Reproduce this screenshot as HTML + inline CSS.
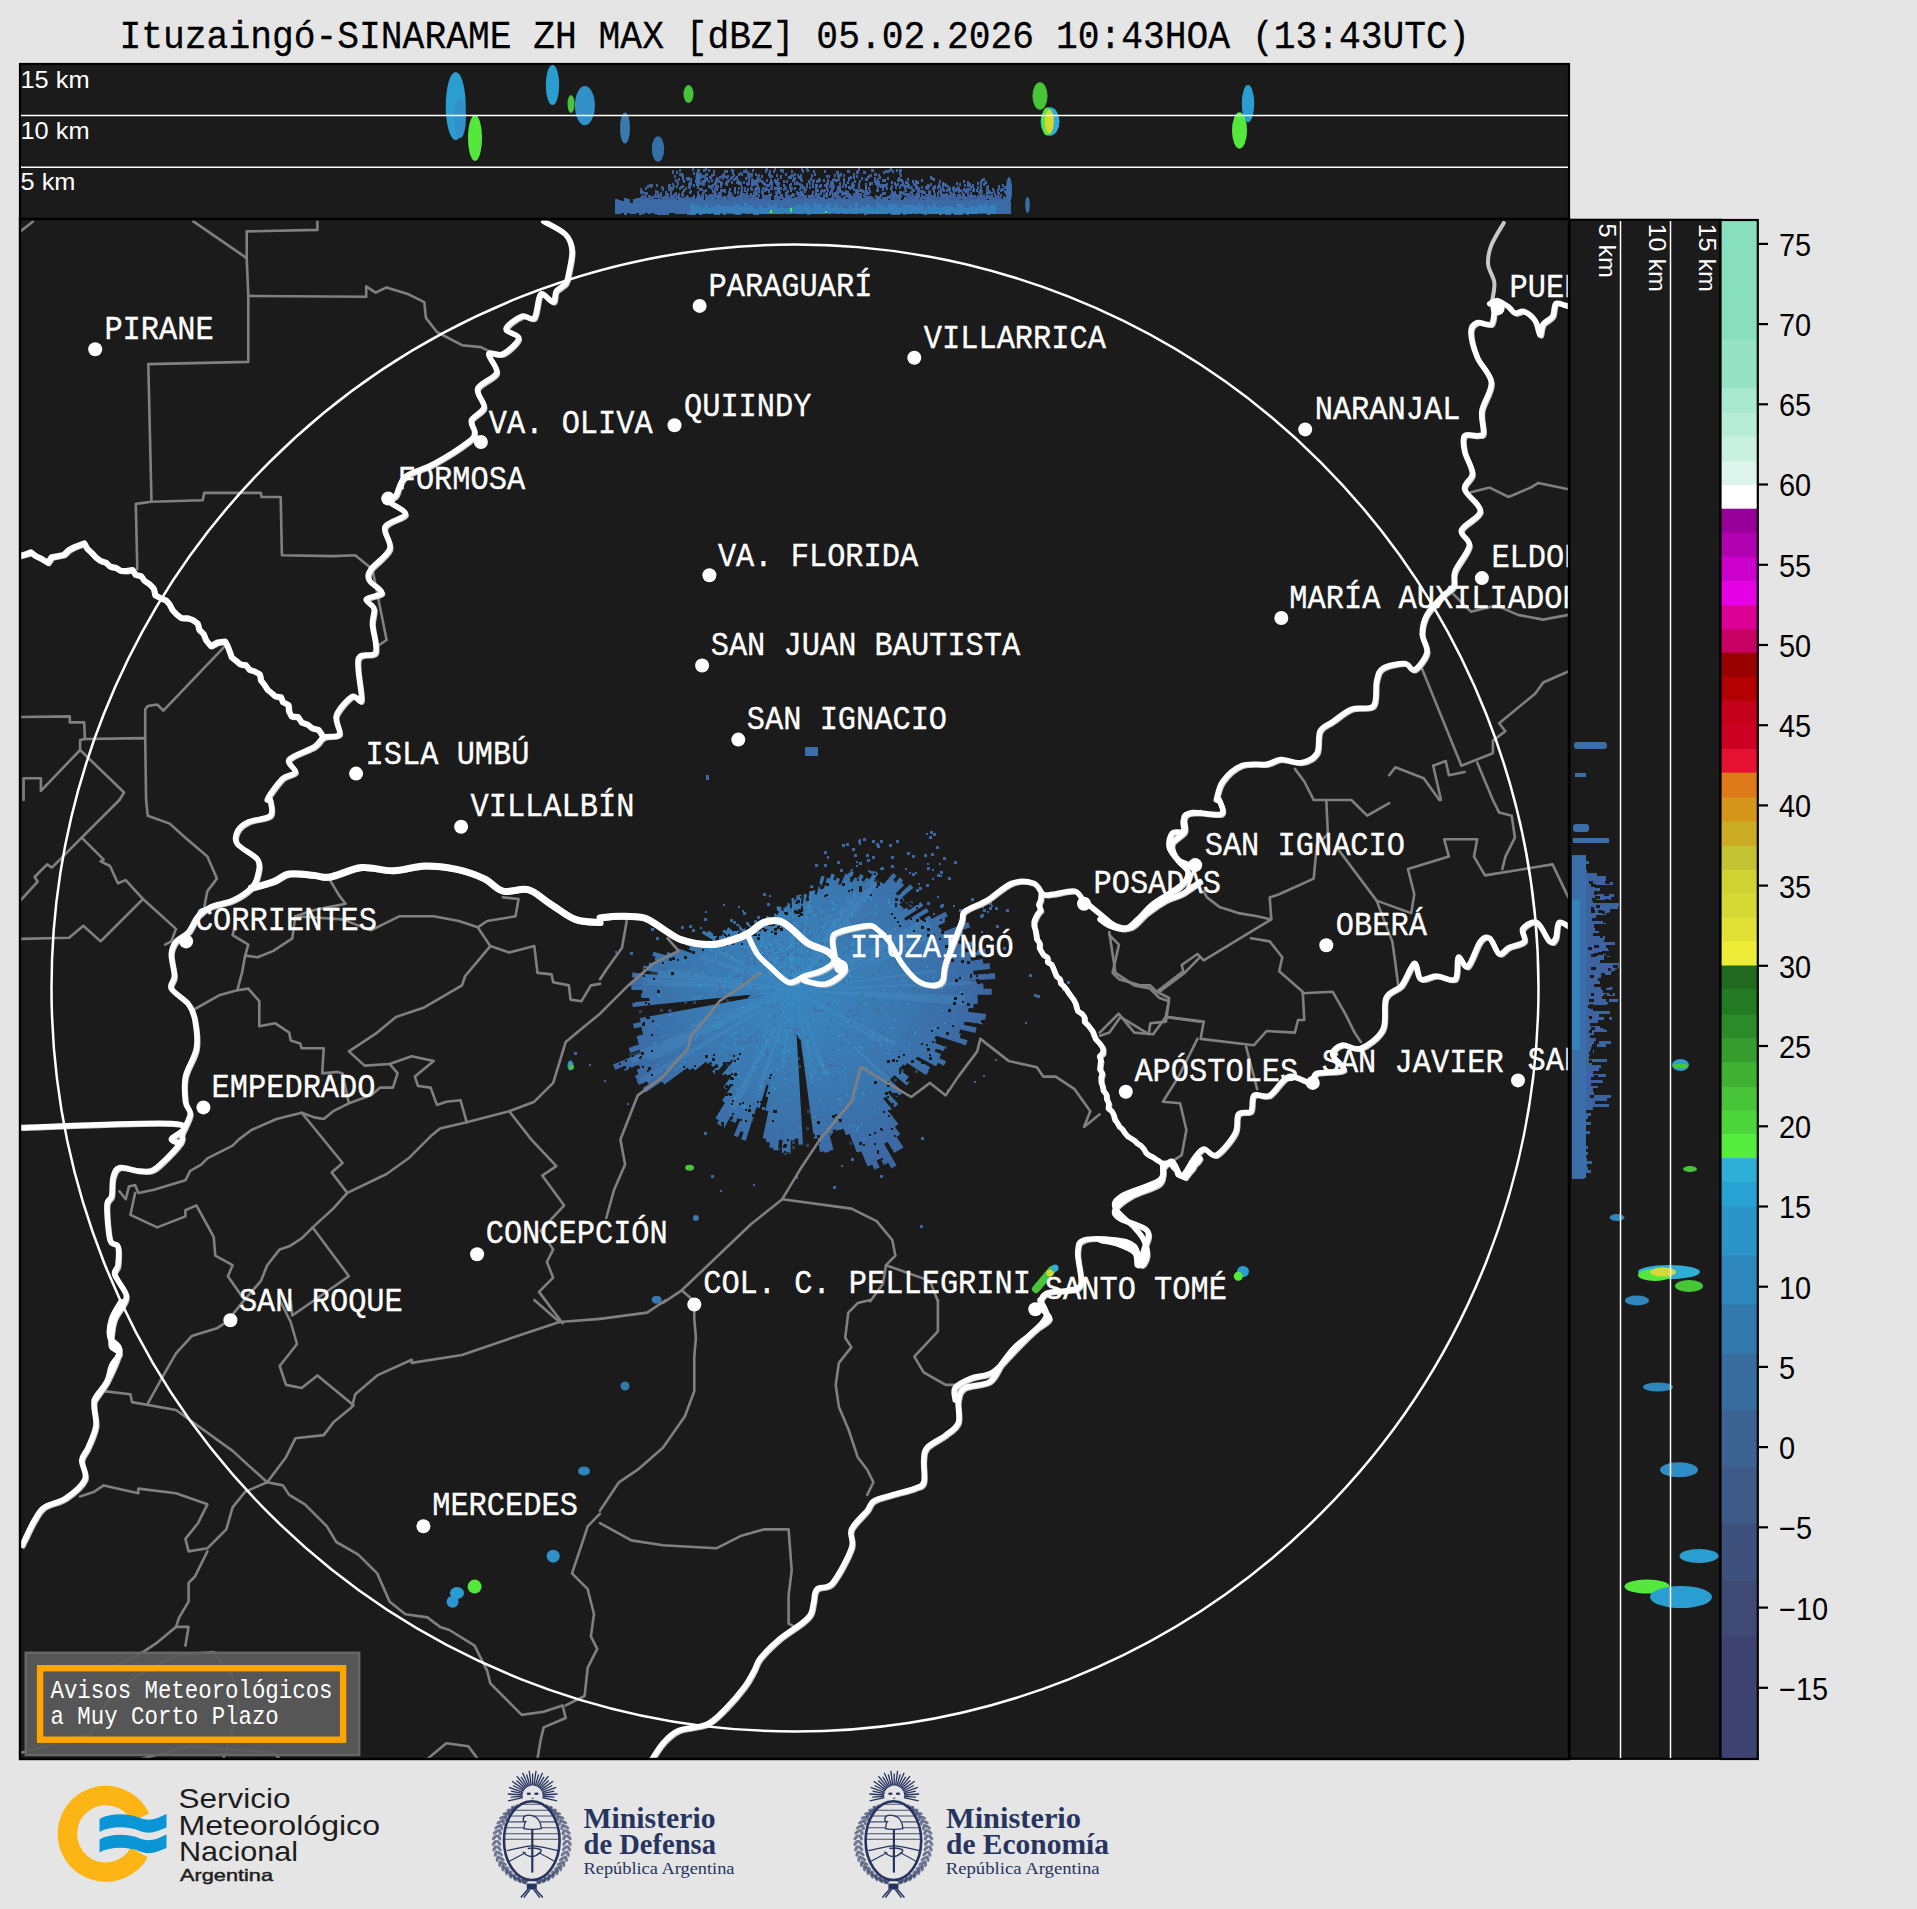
<!DOCTYPE html>
<html><head><meta charset="utf-8"><title>Ituzaingó radar</title>
<style>
html,body{margin:0;padding:0;background:#e5e5e5;width:1917px;height:1909px;overflow:hidden}
svg{position:absolute;left:0;top:0;display:block}
</style></head><body>
<svg width="1917" height="1909" viewBox="0 0 1917 1909">
<defs>
<clipPath id="mapclip"><rect x="21" y="220.5" width="1547.5" height="1538"/></clipPath>
<clipPath id="topclip"><rect x="21" y="65" width="1547.5" height="152"/></clipPath>
<clipPath id="sideclip"><rect x="1571" y="221" width="149" height="1537.5"/></clipPath>
</defs>
<rect x="0" y="0" width="1917" height="1909" fill="#e5e5e5"/>
<text transform="translate(119.5 48.3) scale(0.919 1)" font-family="'Liberation Mono', monospace" font-size="39.5" fill="#000" stroke="#000" stroke-width="0.3">Ituzaingó-SINARAME ZH MAX [dBZ] 05.02.2026 10:43HOA (13:43UTC)</text>
<!-- top panel -->
<rect x="20" y="64" width="1549" height="155" fill="#1b1b1b" stroke="#000" stroke-width="2.2"/>
<g clip-path="url(#topclip)">
<ellipse cx="455.7" cy="106" rx="10" ry="34" fill="#2a9ed0"/><ellipse cx="460" cy="118" rx="6" ry="20" fill="#3390c8"/><ellipse cx="475" cy="138" rx="7" ry="23" fill="#55e83c"/><ellipse cx="552.5" cy="85" rx="6.7" ry="20" fill="#2a9ed0"/><ellipse cx="571" cy="104" rx="3.5" ry="9" fill="#48c438"/><ellipse cx="584.9" cy="105.6" rx="10" ry="19.6" fill="#3390c8"/><ellipse cx="625" cy="128" rx="5" ry="15.5" fill="#3a7ab0"/><ellipse cx="658" cy="149" rx="6.2" ry="12.7" fill="#3470a8"/><ellipse cx="688.5" cy="94" rx="5" ry="9" fill="#48c438"/><ellipse cx="1040" cy="96" rx="7.5" ry="13.7" fill="#48c438"/><ellipse cx="1050" cy="121.5" rx="9.5" ry="14.2" fill="#2eafd8"/><ellipse cx="1047" cy="121.5" rx="5.5" ry="14" fill="#55e83c"/><ellipse cx="1049.4" cy="121.5" rx="4.5" ry="12" fill="#d6d835"/><ellipse cx="1248" cy="103.6" rx="6.2" ry="18.7" fill="#2a9ed0"/><ellipse cx="1239.5" cy="130.5" rx="7.5" ry="18.2" fill="#55e83c"/><path fill="#3b6aa6" d="M615 199h3V214h-3zM618 200h3V214h-3zM621 201h3V213h-3zM624 198h3V215h-3zM627 199h3V213h-3zM630 203h3V214h-3zM633 199h3V214h-3zM636 198h3V213h-3zM639 198h3V215h-3zM642 198h3V214h-3zM645 198h3V213h-3zM648 199h3V214h-3zM651 197h3V213h-3zM654 199h3V214h-3zM657 199h3V215h-3zM660 199h3V215h-3zM663 197h3V215h-3zM666 197h3V215h-3zM669 199h3V213h-3zM672 196h3V213h-3zM675 200h3V214h-3zM678 198h3V214h-3zM681 198h3V214h-3zM684 197h3V214h-3zM687 198h3V215h-3zM690 198h3V215h-3zM693 199h3V215h-3zM696 198h3V213h-3zM699 199h3V215h-3zM702 200h3V214h-3zM705 199h3V213h-3zM708 199h3V214h-3zM711 196h3V213h-3zM714 199h3V215h-3zM717 195h3V215h-3zM720 197h3V213h-3zM723 196h3V215h-3zM726 199h3V213h-3zM729 198h3V213h-3zM732 199h3V214h-3zM735 199h3V215h-3zM738 198h3V215h-3zM741 197h3V213h-3zM744 198h3V213h-3zM747 196h3V214h-3zM750 198h3V213h-3zM753 195h3V215h-3zM756 197h3V215h-3zM759 199h3V214h-3zM762 197h3V214h-3zM765 198h3V214h-3zM768 198h3V214h-3zM771 200h3V214h-3zM774 197h3V214h-3zM777 196h3V214h-3zM780 200h3V214h-3zM783 198h3V213h-3zM786 197h3V214h-3zM789 195h3V214h-3zM792 198h3V213h-3zM795 198h3V214h-3zM798 198h3V214h-3zM801 199h3V214h-3zM804 195h3V213h-3zM807 198h3V215h-3zM810 196h3V214h-3zM813 198h3V214h-3zM816 197h3V214h-3zM819 197h3V214h-3zM822 197h3V214h-3zM825 199h3V213h-3zM828 198h3V214h-3zM831 197h3V213h-3zM834 199h3V213h-3zM837 196h3V214h-3zM840 198h3V213h-3zM843 197h3V214h-3zM846 199h3V214h-3zM849 199h3V213h-3zM852 197h3V214h-3zM855 199h3V214h-3zM858 196h3V213h-3zM861 198h3V213h-3zM864 199h3V215h-3zM867 196h3V214h-3zM870 199h3V214h-3zM873 199h3V214h-3zM876 196h3V214h-3zM879 199h3V214h-3zM882 197h3V214h-3zM885 197h3V214h-3zM888 200h3V213h-3zM891 195h3V215h-3zM894 199h3V215h-3zM897 197h3V215h-3zM900 200h3V213h-3zM903 199h3V215h-3zM906 198h3V214h-3zM909 196h3V214h-3zM912 196h3V213h-3zM915 198h3V214h-3zM918 199h3V213h-3zM921 200h3V214h-3zM924 200h3V215h-3zM927 199h3V214h-3zM930 195h3V214h-3zM933 196h3V214h-3zM936 198h3V214h-3zM939 197h3V215h-3zM942 198h3V214h-3zM945 196h3V215h-3zM948 197h3V215h-3zM951 197h3V213h-3zM954 198h3V215h-3zM957 196h3V215h-3zM960 200h3V215h-3zM963 199h3V213h-3zM966 198h3V215h-3zM969 195h3V214h-3zM972 196h3V214h-3zM975 197h3V214h-3zM978 199h3V213h-3zM981 195h3V213h-3zM984 196h3V213h-3zM987 200h3V215h-3zM990 195h3V214h-3zM993 197h3V214h-3zM996 197h3V214h-3zM999 198h3V214h-3zM1002 199h3V214h-3zM1005 199h3V214h-3zM1008 202h3V214h-3z"/><path fill="#3390c8" fill-opacity="0.55" d="M690 203h3V214h-3zM693 204h3V214h-3zM696 205h3V214h-3zM699 207h3V214h-3zM702 208h3V214h-3zM705 205h3V214h-3zM708 208h3V214h-3zM711 207h3V214h-3zM714 206h3V214h-3zM717 205h3V214h-3zM720 206h3V214h-3zM723 207h3V214h-3zM726 206h3V214h-3zM729 207h3V214h-3zM732 206h3V214h-3zM735 204h3V214h-3zM738 206h3V214h-3zM741 207h3V214h-3zM744 203h3V214h-3zM747 206h3V214h-3zM750 206h3V214h-3zM753 208h3V214h-3zM756 209h3V214h-3zM759 205h3V214h-3zM762 208h3V214h-3zM765 208h3V214h-3zM768 205h3V214h-3zM771 206h3V214h-3zM774 204h3V214h-3zM777 208h3V214h-3zM780 207h3V214h-3zM783 208h3V214h-3zM786 208h3V214h-3zM789 207h3V214h-3zM792 207h3V214h-3zM795 206h3V214h-3zM798 204h3V214h-3zM801 207h3V214h-3zM804 203h3V214h-3zM807 204h3V214h-3zM810 208h3V214h-3zM813 203h3V214h-3zM816 204h3V214h-3zM819 204h3V214h-3zM822 208h3V214h-3zM825 204h3V214h-3zM828 203h3V214h-3zM831 208h3V214h-3zM834 204h3V214h-3zM837 208h3V214h-3zM840 207h3V214h-3zM843 208h3V214h-3zM846 209h3V214h-3zM849 206h3V214h-3zM852 208h3V214h-3zM855 203h3V214h-3zM858 208h3V214h-3zM861 206h3V214h-3zM864 207h3V214h-3zM867 204h3V214h-3zM870 207h3V214h-3zM873 209h3V214h-3zM876 203h3V214h-3zM879 205h3V214h-3zM882 206h3V214h-3zM885 208h3V214h-3zM888 204h3V214h-3zM891 204h3V214h-3zM894 204h3V214h-3zM897 207h3V214h-3zM900 208h3V214h-3zM903 205h3V214h-3zM906 205h3V214h-3zM909 205h3V214h-3zM912 205h3V214h-3zM915 206h3V214h-3zM918 203h3V214h-3zM921 206h3V214h-3zM924 209h3V214h-3zM927 205h3V214h-3zM930 207h3V214h-3zM933 204h3V214h-3zM936 207h3V214h-3zM939 208h3V214h-3zM942 207h3V214h-3zM945 206h3V214h-3zM948 206h3V214h-3zM951 207h3V214h-3zM954 208h3V214h-3zM957 204h3V214h-3zM960 204h3V214h-3zM963 207h3V214h-3zM966 208h3V214h-3zM969 206h3V214h-3zM972 206h3V214h-3zM975 207h3V214h-3zM978 204h3V214h-3zM981 205h3V214h-3zM984 204h3V214h-3zM987 207h3V214h-3zM990 205h3V214h-3zM993 204h3V214h-3z"/><path fill="#3d5f9a" d="M892 170h2v3h-2zM748 180h2v3h-2zM791 174h2v3h-2zM853 193h2v3h-2zM719 197h2v3h-2zM815 191h2v3h-2zM703 191h2v3h-2zM758 178h2v3h-2zM692 168h2v3h-2zM815 184h2v3h-2zM811 175h2v3h-2zM940 194h2v3h-2zM816 180h2v3h-2zM953 196h2v3h-2zM908 184h2v3h-2zM811 194h2v3h-2zM726 180h2v3h-2zM887 170h2v3h-2zM952 197h2v3h-2zM709 194h2v3h-2zM708 180h2v3h-2zM953 186h2v3h-2zM733 174h2v3h-2zM754 190h2v3h-2zM906 197h2v3h-2zM674 175h2v3h-2zM746 191h2v3h-2zM852 182h2v3h-2zM643 196h2v3h-2zM799 188h2v3h-2zM717 185h2v3h-2zM989 196h2v3h-2zM839 196h2v3h-2zM740 182h2v3h-2zM681 173h2v3h-2zM972 197h2v3h-2zM984 196h2v3h-2zM922 190h2v3h-2zM748 182h2v3h-2zM879 176h2v3h-2zM737 179h2v3h-2zM991 192h2v3h-2zM836 196h2v3h-2zM820 192h2v3h-2zM902 181h2v3h-2zM847 195h2v3h-2zM876 183h2v3h-2zM705 173h2v3h-2zM879 196h2v3h-2zM980 197h2v3h-2zM761 180h2v3h-2zM858 186h2v3h-2zM876 189h2v3h-2zM754 195h2v3h-2zM665 191h2v3h-2zM915 194h2v3h-2zM910 196h2v3h-2zM737 191h2v3h-2zM958 197h2v3h-2zM824 194h2v3h-2zM921 196h2v3h-2zM761 190h2v3h-2zM838 178h2v3h-2zM769 175h2v3h-2zM681 193h2v3h-2zM676 196h2v3h-2zM924 191h2v3h-2zM707 195h2v3h-2zM792 179h2v3h-2zM938 190h2v3h-2zM856 196h2v3h-2zM785 195h2v3h-2zM833 185h2v3h-2zM714 194h2v3h-2zM925 197h2v3h-2zM933 187h2v3h-2zM987 196h2v3h-2zM842 185h2v3h-2zM871 169h2v3h-2zM891 193h2v3h-2zM954 195h2v3h-2zM859 180h2v3h-2zM641 190h2v3h-2zM882 188h2v3h-2zM831 189h2v3h-2zM711 187h2v3h-2zM654 195h2v3h-2zM876 189h2v3h-2zM847 170h2v3h-2zM966 197h2v3h-2zM929 193h2v3h-2zM658 196h2v3h-2zM725 197h2v3h-2zM837 171h2v3h-2zM758 174h2v3h-2zM894 196h2v3h-2zM953 193h2v3h-2zM978 191h2v3h-2zM910 196h2v3h-2zM934 185h2v3h-2zM954 195h2v3h-2zM916 195h2v3h-2zM680 197h2v3h-2zM668 197h2v3h-2zM699 188h2v3h-2zM895 186h2v3h-2zM794 182h2v3h-2zM751 188h2v3h-2zM916 196h2v3h-2zM706 173h2v3h-2zM903 191h2v3h-2zM775 187h2v3h-2zM858 194h2v3h-2zM641 197h2v3h-2zM926 197h2v3h-2zM808 195h2v3h-2zM716 195h2v3h-2zM787 195h2v3h-2zM650 197h2v3h-2zM701 188h2v3h-2zM662 197h2v3h-2zM804 190h2v3h-2zM897 197h2v3h-2zM787 190h2v3h-2zM650 184h2v3h-2zM720 196h2v3h-2zM813 195h2v3h-2zM867 192h2v3h-2zM685 197h2v3h-2zM906 196h2v3h-2zM928 195h2v3h-2zM981 196h2v3h-2zM731 194h2v3h-2zM937 193h2v3h-2zM766 196h2v3h-2zM889 169h2v3h-2zM856 197h2v3h-2zM651 197h2v3h-2zM702 197h2v3h-2zM660 192h2v3h-2zM969 197h2v3h-2zM995 195h2v3h-2zM933 186h2v3h-2zM983 197h2v3h-2zM751 184h2v3h-2zM985 197h2v3h-2zM747 175h2v3h-2zM682 191h2v3h-2zM762 181h2v3h-2zM979 197h2v3h-2zM910 191h2v3h-2zM945 194h2v3h-2zM977 196h2v3h-2zM791 194h2v3h-2zM925 195h2v3h-2zM738 195h2v3h-2zM903 184h2v3h-2zM899 191h2v3h-2zM818 196h2v3h-2zM899 197h2v3h-2zM810 178h2v3h-2zM887 196h2v3h-2zM727 175h2v3h-2zM874 173h2v3h-2zM958 195h2v3h-2zM967 191h2v3h-2zM762 191h2v3h-2zM666 196h2v3h-2zM989 197h2v3h-2zM848 196h2v3h-2zM670 192h2v3h-2zM728 197h2v3h-2zM696 183h2v3h-2zM854 197h2v3h-2zM724 170h2v3h-2zM720 185h2v3h-2zM793 177h2v3h-2zM861 177h2v3h-2zM835 195h2v3h-2zM705 196h2v3h-2zM941 197h2v3h-2zM649 184h2v3h-2zM713 173h2v3h-2zM671 195h2v3h-2zM721 175h2v3h-2zM865 183h2v3h-2zM918 187h2v3h-2zM766 184h2v3h-2zM803 196h2v3h-2zM945 193h2v3h-2zM937 197h2v3h-2zM837 189h2v3h-2zM906 197h2v3h-2zM766 188h2v3h-2zM666 194h2v3h-2zM908 195h2v3h-2zM877 184h2v3h-2zM718 192h2v3h-2zM1003 196h2v3h-2zM797 196h2v3h-2zM720 195h2v3h-2zM980 191h2v3h-2zM959 183h2v3h-2zM863 171h2v3h-2zM836 190h2v3h-2zM986 186h2v3h-2zM987 195h2v3h-2zM922 196h2v3h-2zM1004 186h2v3h-2zM747 171h2v3h-2zM707 196h2v3h-2zM904 193h2v3h-2zM830 183h2v3h-2zM655 190h2v3h-2zM741 189h2v3h-2zM766 179h2v3h-2zM913 196h2v3h-2zM678 193h2v3h-2zM790 197h2v3h-2zM696 178h2v3h-2zM896 169h2v3h-2zM998 187h2v3h-2zM776 195h2v3h-2zM754 189h2v3h-2zM832 186h2v3h-2zM771 175h2v3h-2zM744 189h2v3h-2zM964 189h2v3h-2zM749 194h2v3h-2zM934 197h2v3h-2zM688 186h2v3h-2zM836 195h2v3h-2zM658 197h2v3h-2zM921 195h2v3h-2zM997 189h2v3h-2zM997 197h2v3h-2zM708 197h2v3h-2zM798 192h2v3h-2zM659 194h2v3h-2zM674 193h2v3h-2zM730 177h2v3h-2zM793 194h2v3h-2zM656 195h2v3h-2zM869 182h2v3h-2zM973 189h2v3h-2zM730 196h2v3h-2zM917 189h2v3h-2zM826 175h2v3h-2zM841 193h2v3h-2zM702 197h2v3h-2zM875 173h2v3h-2zM971 195h2v3h-2zM883 171h2v3h-2zM937 193h2v3h-2zM791 187h2v3h-2zM702 195h2v3h-2zM890 168h2v3h-2zM840 190h2v3h-2zM768 189h2v3h-2zM933 195h2v3h-2zM990 197h2v3h-2zM755 187h2v3h-2zM790 175h2v3h-2zM942 185h2v3h-2zM864 197h2v3h-2zM850 186h2v3h-2zM818 193h2v3h-2zM899 172h2v3h-2zM677 182h2v3h-2zM776 187h2v3h-2zM967 184h2v3h-2zM875 195h2v3h-2zM976 197h2v3h-2zM780 176h2v3h-2zM755 193h2v3h-2zM987 185h2v3h-2zM756 191h2v3h-2zM743 196h2v3h-2zM731 169h2v3h-2zM669 197h2v3h-2zM713 196h2v3h-2zM832 179h2v3h-2zM946 193h2v3h-2zM939 197h2v3h-2zM743 170h2v3h-2zM665 196h2v3h-2zM816 193h2v3h-2zM839 197h2v3h-2zM726 170h2v3h-2zM693 172h2v3h-2zM705 168h2v3h-2zM886 183h2v3h-2zM692 197h2v3h-2zM917 197h2v3h-2zM709 176h2v3h-2zM959 197h2v3h-2zM991 194h2v3h-2zM780 196h2v3h-2zM782 169h2v3h-2zM742 196h2v3h-2zM693 196h2v3h-2zM769 172h2v3h-2zM668 197h2v3h-2zM983 183h2v3h-2zM998 197h2v3h-2zM769 170h2v3h-2zM817 180h2v3h-2zM754 197h2v3h-2zM766 179h2v3h-2zM925 194h2v3h-2zM809 186h2v3h-2zM801 186h2v3h-2zM944 197h2v3h-2zM857 171h2v3h-2zM950 197h2v3h-2zM992 188h2v3h-2zM701 194h2v3h-2zM714 197h2v3h-2zM997 195h2v3h-2zM959 197h2v3h-2zM645 187h2v3h-2zM930 183h2v3h-2zM890 187h2v3h-2zM920 197h2v3h-2zM837 189h2v3h-2zM693 184h2v3h-2zM758 187h2v3h-2zM776 192h2v3h-2zM771 184h2v3h-2zM998 185h2v3h-2zM955 188h2v3h-2zM745 169h2v3h-2zM738 196h2v3h-2zM823 179h2v3h-2zM764 183h2v3h-2zM743 170h2v3h-2zM805 188h2v3h-2zM834 174h2v3h-2zM1000 194h2v3h-2zM801 184h2v3h-2zM665 195h2v3h-2zM949 190h2v3h-2zM662 188h2v3h-2zM780 169h2v3h-2zM774 195h2v3h-2zM840 173h2v3h-2zM797 174h2v3h-2zM900 191h2v3h-2zM750 187h2v3h-2zM786 191h2v3h-2zM878 174h2v3h-2zM853 196h2v3h-2zM720 191h2v3h-2zM864 196h2v3h-2zM670 196h2v3h-2zM743 197h2v3h-2zM837 172h2v3h-2zM835 179h2v3h-2zM942 188h2v3h-2zM973 195h2v3h-2zM889 196h2v3h-2zM961 196h2v3h-2zM814 173h2v3h-2zM745 195h2v3h-2zM941 193h2v3h-2zM671 197h2v3h-2zM768 197h2v3h-2zM944 197h2v3h-2zM740 191h2v3h-2zM827 189h2v3h-2zM869 182h2v3h-2zM799 196h2v3h-2zM997 191h2v3h-2zM670 195h2v3h-2zM915 183h2v3h-2zM664 197h2v3h-2zM815 190h2v3h-2zM966 188h2v3h-2zM761 190h2v3h-2zM853 173h2v3h-2zM714 191h2v3h-2zM672 183h2v3h-2zM650 185h2v3h-2zM831 185h2v3h-2zM671 197h2v3h-2zM811 174h2v3h-2zM837 193h2v3h-2zM998 192h2v3h-2zM833 195h2v3h-2zM749 173h2v3h-2zM689 186h2v3h-2zM866 191h2v3h-2zM921 186h2v3h-2zM953 190h2v3h-2zM714 197h2v3h-2zM798 192h2v3h-2zM711 174h2v3h-2zM719 176h2v3h-2zM982 197h2v3h-2zM973 196h2v3h-2zM717 195h2v3h-2zM654 195h2v3h-2zM780 175h2v3h-2zM944 197h2v3h-2zM786 191h2v3h-2zM705 194h2v3h-2zM736 181h2v3h-2zM764 196h2v3h-2zM720 189h2v3h-2zM846 194h2v3h-2zM895 195h2v3h-2zM885 184h2v3h-2zM704 179h2v3h-2zM784 186h2v3h-2zM858 183h2v3h-2zM801 197h2v3h-2zM927 187h2v3h-2zM819 185h2v3h-2zM738 173h2v3h-2zM890 194h2v3h-2zM938 183h2v3h-2zM766 168h2v3h-2zM816 195h2v3h-2zM902 192h2v3h-2zM907 193h2v3h-2zM679 187h2v3h-2zM951 195h2v3h-2zM837 174h2v3h-2zM803 188h2v3h-2zM853 176h2v3h-2zM714 196h2v3h-2zM918 194h2v3h-2zM751 173h2v3h-2zM963 194h2v3h-2zM1001 188h2v3h-2zM913 196h2v3h-2zM644 192h2v3h-2zM908 196h2v3h-2zM815 185h2v3h-2zM731 181h2v3h-2zM845 191h2v3h-2zM680 186h2v3h-2zM757 180h2v3h-2zM703 190h2v3h-2zM712 190h2v3h-2zM850 196h2v3h-2zM660 195h2v3h-2zM714 187h2v3h-2zM701 196h2v3h-2zM836 171h2v3h-2zM957 194h2v3h-2zM785 197h2v3h-2zM741 192h2v3h-2zM984 197h2v3h-2zM986 195h2v3h-2zM798 194h2v3h-2zM991 197h2v3h-2zM849 187h2v3h-2zM713 194h2v3h-2zM1000 189h2v3h-2zM908 186h2v3h-2zM676 180h2v3h-2zM914 197h2v3h-2zM807 169h2v3h-2zM759 178h2v3h-2zM700 182h2v3h-2zM738 187h2v3h-2zM776 174h2v3h-2zM912 194h2v3h-2zM891 190h2v3h-2zM934 197h2v3h-2zM839 185h2v3h-2zM782 197h2v3h-2zM702 183h2v3h-2zM717 178h2v3h-2zM824 170h2v3h-2zM949 191h2v3h-2zM776 197h2v3h-2zM843 179h2v3h-2zM976 197h2v3h-2zM698 169h2v3h-2zM910 195h2v3h-2zM910 197h2v3h-2zM839 182h2v3h-2zM860 195h2v3h-2zM690 183h2v3h-2zM963 197h2v3h-2zM643 197h2v3h-2zM927 196h2v3h-2zM806 168h2v3h-2zM863 194h2v3h-2zM896 197h2v3h-2zM743 181h2v3h-2zM702 197h2v3h-2zM829 192h2v3h-2zM994 197h2v3h-2zM933 196h2v3h-2zM934 195h2v3h-2zM884 192h2v3h-2zM722 189h2v3h-2zM932 196h2v3h-2zM724 190h2v3h-2zM675 192h2v3h-2zM849 186h2v3h-2zM858 193h2v3h-2zM649 197h2v3h-2zM764 195h2v3h-2zM848 194h2v3h-2zM918 193h2v3h-2zM882 179h2v3h-2zM830 190h2v3h-2zM753 197h2v3h-2zM930 195h2v3h-2zM676 171h2v3h-2zM852 183h2v3h-2zM800 196h2v3h-2zM1005 197h2v3h-2zM774 168h2v3h-2zM685 187h2v3h-2zM815 194h2v3h-2zM977 195h2v3h-2zM644 195h2v3h-2zM642 191h2v3h-2zM957 186h2v3h-2zM657 192h2v3h-2zM751 188h2v3h-2zM750 193h2v3h-2zM688 183h2v3h-2zM672 170h2v3h-2zM656 184h2v3h-2zM710 196h2v3h-2zM912 194h2v3h-2zM921 194h2v3h-2zM870 196h2v3h-2zM886 187h2v3h-2zM991 197h2v3h-2zM665 192h2v3h-2zM978 195h2v3h-2zM899 186h2v3h-2zM783 188h2v3h-2zM860 197h2v3h-2zM752 179h2v3h-2zM734 188h2v3h-2zM734 191h2v3h-2zM877 179h2v3h-2zM989 195h2v3h-2zM714 192h2v3h-2zM661 197h2v3h-2zM853 184h2v3h-2zM728 195h2v3h-2zM676 195h2v3h-2zM823 194h2v3h-2zM963 194h2v3h-2zM764 189h2v3h-2zM655 191h2v3h-2zM914 196h2v3h-2zM905 193h2v3h-2zM720 194h2v3h-2zM712 184h2v3h-2zM874 180h2v3h-2zM678 178h2v3h-2zM815 191h2v3h-2zM824 189h2v3h-2zM713 190h2v3h-2zM876 180h2v3h-2zM974 197h2v3h-2zM965 189h2v3h-2zM900 169h2v3h-2zM690 178h2v3h-2zM968 197h2v3h-2zM857 170h2v3h-2zM747 174h2v3h-2zM971 195h2v3h-2zM693 195h2v3h-2zM943 195h2v3h-2zM755 189h2v3h-2zM979 197h2v3h-2zM647 185h2v3h-2zM756 191h2v3h-2zM996 196h2v3h-2zM671 187h2v3h-2zM729 194h2v3h-2zM982 197h2v3h-2zM969 196h2v3h-2zM751 195h2v3h-2zM838 186h2v3h-2zM785 187h2v3h-2zM749 175h2v3h-2zM981 190h2v3h-2zM939 197h2v3h-2zM731 195h2v3h-2zM697 169h2v3h-2zM970 186h2v3h-2zM844 196h2v3h-2zM796 197h2v3h-2zM970 196h2v3h-2zM745 170h2v3h-2zM713 172h2v3h-2zM754 182h2v3h-2zM679 173h2v3h-2zM785 192h2v3h-2zM879 184h2v3h-2zM732 196h2v3h-2zM850 197h2v3h-2zM958 196h2v3h-2zM702 192h2v3h-2zM682 192h2v3h-2zM838 190h2v3h-2zM762 193h2v3h-2zM818 178h2v3h-2zM800 178h2v3h-2zM816 196h2v3h-2zM702 175h2v3h-2zM815 191h2v3h-2zM828 175h2v3h-2zM777 191h2v3h-2zM774 197h2v3h-2zM839 188h2v3h-2zM821 189h2v3h-2zM812 180h2v3h-2zM708 169h2v3h-2zM682 174h2v3h-2zM704 177h2v3h-2zM735 197h2v3h-2zM837 175h2v3h-2zM949 187h2v3h-2zM998 197h2v3h-2zM778 196h2v3h-2zM916 195h2v3h-2zM912 189h2v3h-2zM1005 192h2v3h-2zM959 194h2v3h-2zM669 187h2v3h-2zM673 196h2v3h-2zM943 196h2v3h-2zM882 197h2v3h-2zM717 180h2v3h-2zM654 194h2v3h-2zM982 197h2v3h-2zM897 179h2v3h-2zM866 178h2v3h-2zM895 197h2v3h-2zM710 186h2v3h-2zM994 197h2v3h-2zM854 196h2v3h-2zM949 195h2v3h-2zM831 182h2v3h-2zM690 180h2v3h-2zM932 187h2v3h-2zM743 194h2v3h-2zM700 173h2v3h-2zM800 191h2v3h-2zM830 181h2v3h-2zM756 192h2v3h-2zM920 190h2v3h-2zM748 197h2v3h-2zM979 191h2v3h-2zM857 190h2v3h-2zM990 195h2v3h-2zM719 196h2v3h-2zM768 184h2v3h-2zM773 170h2v3h-2zM877 189h2v3h-2zM881 184h2v3h-2zM865 188h2v3h-2zM831 188h2v3h-2zM943 197h2v3h-2zM927 196h2v3h-2zM950 197h2v3h-2zM817 189h2v3h-2zM900 195h2v3h-2zM736 196h2v3h-2zM845 185h2v3h-2zM640 197h2v3h-2zM713 170h2v3h-2zM806 185h2v3h-2zM746 182h2v3h-2zM937 192h2v3h-2zM641 195h2v3h-2zM818 197h2v3h-2zM928 196h2v3h-2zM747 183h2v3h-2zM853 188h2v3h-2zM954 194h2v3h-2zM765 197h2v3h-2zM842 191h2v3h-2zM836 192h2v3h-2zM643 197h2v3h-2zM698 196h2v3h-2zM951 193h2v3h-2zM727 180h2v3h-2zM872 197h2v3h-2zM914 197h2v3h-2zM1004 197h2v3h-2zM744 194h2v3h-2zM955 189h2v3h-2zM851 196h2v3h-2zM796 181h2v3h-2zM661 186h2v3h-2zM947 185h2v3h-2zM895 184h2v3h-2zM996 196h2v3h-2zM752 196h2v3h-2zM706 177h2v3h-2zM675 179h2v3h-2zM785 173h2v3h-2zM917 192h2v3h-2zM948 197h2v3h-2zM737 191h2v3h-2zM797 182h2v3h-2zM961 190h2v3h-2zM979 191h2v3h-2zM770 187h2v3h-2zM913 189h2v3h-2zM775 191h2v3h-2zM864 194h2v3h-2zM962 197h2v3h-2zM877 188h2v3h-2zM711 185h2v3h-2zM813 170h2v3h-2zM963 193h2v3h-2zM958 187h2v3h-2zM700 176h2v3h-2zM944 183h2v3h-2zM917 196h2v3h-2zM715 182h2v3h-2zM717 178h2v3h-2zM850 176h2v3h-2zM770 193h2v3h-2zM970 192h2v3h-2zM778 186h2v3h-2zM799 183h2v3h-2zM829 193h2v3h-2zM998 187h2v3h-2zM917 196h2v3h-2zM711 179h2v3h-2zM940 192h2v3h-2zM718 180h2v3h-2zM831 191h2v3h-2zM855 189h2v3h-2zM877 179h2v3h-2zM999 197h2v3h-2zM848 170h2v3h-2zM880 185h2v3h-2zM951 197h2v3h-2zM929 193h2v3h-2zM853 193h2v3h-2zM866 196h2v3h-2zM832 194h2v3h-2zM980 189h2v3h-2zM813 179h2v3h-2zM780 187h2v3h-2zM699 174h2v3h-2zM919 190h2v3h-2zM670 188h2v3h-2zM644 194h2v3h-2zM818 197h2v3h-2zM794 173h2v3h-2zM868 192h2v3h-2zM937 196h2v3h-2zM967 196h2v3h-2zM668 184h2v3h-2zM666 197h2v3h-2zM921 197h2v3h-2zM839 174h2v3h-2zM855 192h2v3h-2zM917 188h2v3h-2zM851 183h2v3h-2zM758 190h2v3h-2zM1002 184h2v3h-2zM641 197h2v3h-2zM722 177h2v3h-2zM713 195h2v3h-2zM920 197h2v3h-2zM997 195h2v3h-2zM968 188h2v3h-2zM716 177h2v3h-2zM791 194h2v3h-2zM657 191h2v3h-2zM845 193h2v3h-2zM944 197h2v3h-2zM802 196h2v3h-2zM768 173h2v3h-2zM823 196h2v3h-2zM726 183h2v3h-2zM741 173h2v3h-2zM662 187h2v3h-2zM867 176h2v3h-2zM769 197h2v3h-2zM703 183h2v3h-2zM649 197h2v3h-2zM926 187h2v3h-2zM952 188h2v3h-2zM843 174h2v3h-2zM895 186h2v3h-2zM795 197h2v3h-2zM673 194h2v3h-2zM808 196h2v3h-2zM994 193h2v3h-2zM910 186h2v3h-2zM723 173h2v3h-2zM990 196h2v3h-2zM686 177h2v3h-2zM965 189h2v3h-2zM789 184h2v3h-2zM682 194h2v3h-2zM793 179h2v3h-2zM672 171h2v3h-2zM651 184h2v3h-2zM726 176h2v3h-2zM939 185h2v3h-2zM812 181h2v3h-2zM747 175h2v3h-2zM680 173h2v3h-2zM856 197h2v3h-2zM984 196h2v3h-2zM665 197h2v3h-2zM650 196h2v3h-2zM899 169h2v3h-2zM870 174h2v3h-2zM940 191h2v3h-2zM780 194h2v3h-2zM697 186h2v3h-2zM715 179h2v3h-2zM757 185h2v3h-2zM839 183h2v3h-2zM697 194h2v3h-2zM891 195h2v3h-2zM885 170h2v3h-2zM782 170h2v3h-2zM864 171h2v3h-2zM832 179h2v3h-2zM889 195h2v3h-2zM829 185h2v3h-2zM809 182h2v3h-2zM972 189h2v3h-2zM936 197h2v3h-2zM897 183h2v3h-2zM982 197h2v3h-2zM703 169h2v3h-2zM776 180h2v3h-2zM856 190h2v3h-2zM800 185h2v3h-2zM1000 194h2v3h-2zM928 196h2v3h-2zM900 184h2v3h-2zM911 187h2v3h-2zM669 184h2v3h-2zM863 194h2v3h-2zM809 196h2v3h-2zM724 175h2v3h-2zM900 174h2v3h-2zM699 196h2v3h-2zM778 188h2v3h-2zM899 193h2v3h-2zM909 193h2v3h-2zM745 177h2v3h-2zM667 193h2v3h-2zM709 197h2v3h-2zM815 187h2v3h-2zM864 191h2v3h-2zM979 189h2v3h-2zM696 197h2v3h-2zM991 195h2v3h-2zM678 195h2v3h-2zM896 195h2v3h-2zM776 181h2v3h-2zM769 182h2v3h-2zM986 189h2v3h-2zM869 183h2v3h-2zM753 183h2v3h-2zM877 185h2v3h-2zM819 179h2v3h-2zM715 180h2v3h-2zM997 197h2v3h-2zM732 169h2v3h-2zM670 189h2v3h-2zM852 197h2v3h-2zM870 197h2v3h-2zM950 196h2v3h-2zM977 186h2v3h-2zM690 190h2v3h-2zM696 178h2v3h-2zM675 197h2v3h-2zM682 174h2v3h-2zM730 192h2v3h-2zM803 186h2v3h-2zM791 170h2v3h-2zM764 188h2v3h-2zM955 197h2v3h-2zM704 175h2v3h-2zM755 173h2v3h-2zM940 196h2v3h-2zM762 196h2v3h-2zM959 195h2v3h-2zM765 195h2v3h-2zM722 174h2v3h-2zM688 186h2v3h-2zM868 187h2v3h-2zM823 190h2v3h-2zM710 176h2v3h-2zM967 194h2v3h-2zM732 172h2v3h-2zM714 195h2v3h-2zM868 175h2v3h-2zM849 196h2v3h-2zM997 197h2v3h-2zM765 169h2v3h-2zM929 190h2v3h-2zM668 188h2v3h-2zM786 197h2v3h-2zM928 185h2v3h-2zM657 195h2v3h-2zM969 196h2v3h-2zM751 178h2v3h-2zM801 168h2v3h-2zM952 187h2v3h-2zM898 195h2v3h-2zM891 185h2v3h-2zM816 185h2v3h-2zM751 195h2v3h-2zM973 196h2v3h-2zM679 169h2v3h-2zM826 182h2v3h-2zM764 196h2v3h-2zM761 175h2v3h-2zM740 172h2v3h-2zM751 173h2v3h-2zM705 189h2v3h-2zM687 196h2v3h-2zM831 191h2v3h-2zM836 194h2v3h-2zM753 192h2v3h-2zM968 197h2v3h-2zM792 174h2v3h-2zM849 194h2v3h-2zM1004 197h2v3h-2zM690 197h2v3h-2zM800 174h2v3h-2zM743 193h2v3h-2zM931 197h2v3h-2zM646 192h2v3h-2zM672 187h2v3h-2zM693 184h2v3h-2zM951 195h2v3h-2zM740 183h2v3h-2zM896 197h2v3h-2zM728 191h2v3h-2zM825 193h2v3h-2zM880 194h2v3h-2zM970 196h2v3h-2zM721 197h2v3h-2zM686 195h2v3h-2zM962 195h2v3h-2zM802 170h2v3h-2zM993 190h2v3h-2zM728 192h2v3h-2zM824 194h2v3h-2zM767 195h2v3h-2zM728 179h2v3h-2zM860 189h2v3h-2zM812 184h2v3h-2zM890 197h2v3h-2zM948 195h2v3h-2zM765 170h2v3h-2zM916 196h2v3h-2zM649 195h2v3h-2zM801 191h2v3h-2zM676 185h2v3h-2zM733 178h2v3h-2zM833 193h2v3h-2zM942 195h2v3h-2zM671 196h2v3h-2zM659 195h2v3h-2zM972 185h2v3h-2zM878 196h2v3h-2zM727 195h2v3h-2zM776 183h2v3h-2zM648 195h2v3h-2zM795 182h2v3h-2zM942 196h2v3h-2zM860 193h2v3h-2zM806 183h2v3h-2zM659 194h2v3h-2zM823 195h2v3h-2zM731 176h2v3h-2zM768 195h2v3h-2zM744 187h2v3h-2zM786 192h2v3h-2zM758 194h2v3h-2zM824 184h2v3h-2zM673 185h2v3h-2zM752 169h2v3h-2zM982 197h2v3h-2zM894 192h2v3h-2zM681 174h2v3h-2zM972 189h2v3h-2zM872 169h2v3h-2zM843 182h2v3h-2zM878 174h2v3h-2zM952 196h2v3h-2zM716 186h2v3h-2zM855 192h2v3h-2zM954 188h2v3h-2zM891 186h2v3h-2zM894 195h2v3h-2zM935 197h2v3h-2zM970 193h2v3h-2zM741 195h2v3h-2zM859 189h2v3h-2zM894 196h2v3h-2zM959 195h2v3h-2zM801 179h2v3h-2zM861 189h2v3h-2zM747 188h2v3h-2zM651 197h2v3h-2zM941 197h2v3h-2zM671 188h2v3h-2zM776 187h2v3h-2zM854 180h2v3h-2zM756 178h2v3h-2zM640 188h2v3h-2zM753 183h2v3h-2zM751 179h2v3h-2zM777 184h2v3h-2zM757 175h2v3h-2zM924 197h2v3h-2zM916 185h2v3h-2zM727 195h2v3h-2zM980 184h2v3h-2zM687 178h2v3h-2zM979 197h2v3h-2zM925 196h2v3h-2zM927 194h2v3h-2zM812 196h2v3h-2zM878 181h2v3h-2zM746 197h2v3h-2zM673 194h2v3h-2zM1004 190h2v3h-2zM967 190h2v3h-2zM689 191h2v3h-2zM987 188h2v3h-2zM1002 188h2v3h-2zM899 178h2v3h-2zM974 195h2v3h-2zM652 196h2v3h-2zM645 196h2v3h-2zM855 193h2v3h-2zM731 196h2v3h-2zM771 187h2v3h-2zM856 171h2v3h-2zM666 197h2v3h-2zM668 185h2v3h-2zM871 182h2v3h-2zM937 197h2v3h-2zM970 196h2v3h-2zM869 190h2v3h-2zM912 196h2v3h-2zM741 194h2v3h-2zM905 189h2v3h-2zM697 191h2v3h-2zM847 191h2v3h-2zM856 175h2v3h-2zM874 177h2v3h-2zM751 174h2v3h-2zM983 194h2v3h-2zM648 197h2v3h-2zM916 187h2v3h-2zM904 187h2v3h-2zM837 196h2v3h-2zM858 168h2v3h-2zM715 184h2v3h-2zM950 192h2v3h-2zM768 194h2v3h-2zM907 185h2v3h-2zM960 196h2v3h-2zM912 189h2v3h-2zM777 178h2v3h-2zM781 195h2v3h-2zM640 191h2v3h-2zM915 197h2v3h-2zM663 196h2v3h-2zM716 179h2v3h-2zM709 185h2v3h-2zM841 192h2v3h-2zM952 195h2v3h-2zM827 182h2v3h-2zM788 195h2v3h-2zM988 190h2v3h-2zM839 188h2v3h-2zM865 193h2v3h-2zM667 194h2v3h-2zM968 197h2v3h-2zM998 196h2v3h-2zM1004 190h2v3h-2zM739 195h2v3h-2zM964 184h2v3h-2zM934 193h2v3h-2zM838 177h2v3h-2zM940 188h2v3h-2z"/><path fill="#4068a8" d="M769 194h2v3h-2zM976 189h2v3h-2zM683 180h2v3h-2zM882 185h2v3h-2zM965 190h2v3h-2zM897 179h2v3h-2zM843 192h2v3h-2zM964 196h2v3h-2zM762 187h2v3h-2zM983 178h2v3h-2zM702 180h2v3h-2zM907 183h2v3h-2zM899 194h2v3h-2zM931 177h2v3h-2zM893 194h2v3h-2zM898 195h2v3h-2zM933 190h2v3h-2zM948 188h2v3h-2zM714 182h2v3h-2zM969 183h2v3h-2zM826 195h2v3h-2zM892 193h2v3h-2zM826 187h2v3h-2zM704 180h2v3h-2zM729 188h2v3h-2zM843 178h2v3h-2zM877 178h2v3h-2zM800 177h2v3h-2zM827 179h2v3h-2zM972 184h2v3h-2zM937 186h2v3h-2zM781 194h2v3h-2zM765 187h2v3h-2zM878 198h2v3h-2zM898 177h2v3h-2zM821 197h2v3h-2zM945 184h2v3h-2zM720 182h2v3h-2zM915 180h2v3h-2zM956 182h2v3h-2zM894 191h2v3h-2zM755 187h2v3h-2zM875 182h2v3h-2zM845 190h2v3h-2zM977 182h2v3h-2zM734 187h2v3h-2zM865 187h2v3h-2zM963 180h2v3h-2zM838 186h2v3h-2zM741 186h2v3h-2zM820 184h2v3h-2zM920 198h2v3h-2zM980 181h2v3h-2zM795 197h2v3h-2zM706 178h2v3h-2zM700 197h2v3h-2zM837 186h2v3h-2zM711 195h2v3h-2zM988 191h2v3h-2zM963 188h2v3h-2zM776 180h2v3h-2zM774 179h2v3h-2zM794 177h2v3h-2zM693 196h2v3h-2zM943 194h2v3h-2zM789 186h2v3h-2zM848 193h2v3h-2zM774 187h2v3h-2zM850 195h2v3h-2zM788 176h2v3h-2zM805 195h2v3h-2zM734 190h2v3h-2zM721 182h2v3h-2zM874 178h2v3h-2zM821 189h2v3h-2zM800 193h2v3h-2zM942 182h2v3h-2zM916 193h2v3h-2zM865 189h2v3h-2zM856 192h2v3h-2zM894 182h2v3h-2zM882 192h2v3h-2zM823 196h2v3h-2zM777 188h2v3h-2zM856 189h2v3h-2zM737 191h2v3h-2zM716 188h2v3h-2zM820 191h2v3h-2zM946 198h2v3h-2zM751 196h2v3h-2zM826 187h2v3h-2zM693 195h2v3h-2zM751 182h2v3h-2zM775 181h2v3h-2zM770 182h2v3h-2zM845 184h2v3h-2zM915 197h2v3h-2zM969 184h2v3h-2zM892 192h2v3h-2zM905 185h2v3h-2zM740 193h2v3h-2zM883 184h2v3h-2zM887 177h2v3h-2zM923 196h2v3h-2zM981 179h2v3h-2zM894 193h2v3h-2zM724 189h2v3h-2zM739 181h2v3h-2zM689 182h2v3h-2zM943 189h2v3h-2zM927 197h2v3h-2zM727 195h2v3h-2zM958 190h2v3h-2zM783 180h2v3h-2zM816 184h2v3h-2zM761 191h2v3h-2zM877 182h2v3h-2zM734 187h2v3h-2zM900 191h2v3h-2zM879 196h2v3h-2zM915 186h2v3h-2zM911 191h2v3h-2zM786 180h2v3h-2zM797 192h2v3h-2zM913 183h2v3h-2zM848 178h2v3h-2zM865 186h2v3h-2zM918 195h2v3h-2zM696 197h2v3h-2zM733 197h2v3h-2zM985 181h2v3h-2zM770 179h2v3h-2zM962 193h2v3h-2zM980 194h2v3h-2zM792 193h2v3h-2zM790 183h2v3h-2zM812 191h2v3h-2zM778 188h2v3h-2zM856 193h2v3h-2zM826 185h2v3h-2zM852 186h2v3h-2zM907 178h2v3h-2zM735 177h2v3h-2zM808 195h2v3h-2zM866 190h2v3h-2zM970 194h2v3h-2zM771 181h2v3h-2zM847 181h2v3h-2zM865 178h2v3h-2zM801 192h2v3h-2zM759 179h2v3h-2zM912 180h2v3h-2zM959 189h2v3h-2zM956 188h2v3h-2zM832 182h2v3h-2zM698 197h2v3h-2zM748 178h2v3h-2zM969 188h2v3h-2zM860 196h2v3h-2zM907 182h2v3h-2zM768 190h2v3h-2zM891 181h2v3h-2zM757 187h2v3h-2zM698 194h2v3h-2zM884 179h2v3h-2zM860 189h2v3h-2zM708 185h2v3h-2zM925 186h2v3h-2zM905 181h2v3h-2zM989 191h2v3h-2zM853 176h2v3h-2zM790 176h2v3h-2zM816 180h2v3h-2zM756 183h2v3h-2zM725 182h2v3h-2zM836 179h2v3h-2zM854 197h2v3h-2zM904 197h2v3h-2zM714 191h2v3h-2zM755 197h2v3h-2zM834 192h2v3h-2zM921 179h2v3h-2zM711 194h2v3h-2zM934 186h2v3h-2zM688 177h2v3h-2zM928 191h2v3h-2zM796 191h2v3h-2zM930 176h2v3h-2zM911 198h2v3h-2zM949 195h2v3h-2zM816 189h2v3h-2zM715 193h2v3h-2zM885 185h2v3h-2zM695 180h2v3h-2zM805 196h2v3h-2zM826 195h2v3h-2zM738 182h2v3h-2zM753 182h2v3h-2zM927 184h2v3h-2zM779 191h2v3h-2zM818 195h2v3h-2zM896 194h2v3h-2zM812 185h2v3h-2zM820 198h2v3h-2zM973 188h2v3h-2zM833 178h2v3h-2zM946 189h2v3h-2zM808 180h2v3h-2zM826 192h2v3h-2zM763 182h2v3h-2zM839 187h2v3h-2zM682 177h2v3h-2zM796 192h2v3h-2zM798 176h2v3h-2zM755 180h2v3h-2zM917 181h2v3h-2zM984 182h2v3h-2zM736 176h2v3h-2zM832 187h2v3h-2zM922 191h2v3h-2zM848 177h2v3h-2zM967 181h2v3h-2zM753 180h2v3h-2zM862 190h2v3h-2zM778 182h2v3h-2zM683 189h2v3h-2zM901 179h2v3h-2zM755 193h2v3h-2zM900 179h2v3h-2zM986 192h2v3h-2zM902 183h2v3h-2zM980 186h2v3h-2zM877 198h2v3h-2zM939 180h2v3h-2zM720 181h2v3h-2zM717 195h2v3h-2zM848 186h2v3h-2zM794 187h2v3h-2zM815 192h2v3h-2zM809 195h2v3h-2zM942 195h2v3h-2zM912 180h2v3h-2zM811 194h2v3h-2zM790 189h2v3h-2zM746 194h2v3h-2zM783 184h2v3h-2zM933 178h2v3h-2zM682 185h2v3h-2zM818 178h2v3h-2zM802 193h2v3h-2z"/><ellipse cx="1009" cy="190" rx="3" ry="13" fill="#3a6ea8"/><ellipse cx="1027.5" cy="205" rx="2.3" ry="8" fill="#3a6ea8"/><ellipse cx="698" cy="179" rx="2.5" ry="8" fill="#3a6ea8"/><rect x="770" y="210" width="2" height="3" fill="#55e83c"/><rect x="790" y="208" width="2" height="4" fill="#55e83c"/><rect x="825" y="211" width="2" height="2" fill="#55e83c"/>
<line x1="21" y1="115.5" x2="1568" y2="115.5" stroke="#fff" stroke-width="1.5"/>
<line x1="21" y1="167.3" x2="1568" y2="167.3" stroke="#fff" stroke-width="1.5"/>
</g>
<g font-family="'Liberation Sans', sans-serif" font-size="23.5" fill="#fff">
<text x="20.5" y="88.3" transform="translate(20.5 0) scale(1.08 1) translate(-20.5 0)">15 km</text>
<text x="20.5" y="139" transform="translate(20.5 0) scale(1.08 1) translate(-20.5 0)">10 km</text>
<text x="20.5" y="189.6" transform="translate(20.5 0) scale(1.08 1) translate(-20.5 0)">5 km</text>
</g>
<!-- map panel -->
<rect x="20" y="219" width="1549" height="1540" fill="#1b1b1b"/>
<g clip-path="url(#mapclip)">
<g><defs><radialGradient id="bg" gradientUnits="userSpaceOnUse" cx="794.3" cy="989.5" r="210"><stop offset="0" stop-color="#3886c0"/><stop offset="0.5" stop-color="#3a78b0"/><stop offset="1" stop-color="#3d64a0"/></radialGradient></defs><path fill="url(#bg)" d="M794 990L983.5 989.5L983.4 983.9ZM794 990L977.0 984.7L976.8 979.3ZM794 990L995.3 979.0L994.9 973.0ZM794 990L973.6 975.4L973.1 970.1ZM794 990L990.3 968.9L989.6 963.1ZM794 990L983.4 964.6L982.6 959.0ZM794 990L971.4 961.4L970.5 956.2ZM794 990L986.1 954.0L984.9 948.3ZM794 990L965.6 953.1L964.4 948.0ZM794 990L975.8 945.9L974.4 940.6ZM794 990L959.5 945.2L958.1 940.4ZM794 990L956.5 941.5L955.0 936.7ZM794 990L963.5 934.5L961.8 929.5ZM794 990L970.2 927.2L968.3 922.0ZM794 990L942.6 932.6L940.8 928.2ZM794 990L939.8 929.2L938.0 924.9ZM794 990L945.4 922.2L943.3 917.8ZM794 990L947.8 916.3L945.5 911.8ZM794 990L931.7 919.5L929.6 915.4ZM794 990L921.2 920.6L919.1 916.9ZM794 990L928.8 911.8L926.5 907.9ZM794 990L905.9 921.1L903.9 917.8ZM794 990L923.3 905.7L920.7 902.0ZM794 990L908.8 910.8L906.5 907.4ZM794 990L904.1 909.7L901.7 906.5ZM794 990L901.9 906.9L899.4 903.8ZM794 990L904.4 900.3L901.7 897.1ZM794 990L913.4 887.8L910.3 884.3ZM794 990L898.0 896.1L895.2 893.1ZM794 990L904.2 885.2L901.1 882.0ZM794 990L903.2 880.6L899.9 877.5ZM794 990L895.6 882.8L892.4 879.8ZM794 990L896.6 875.9L893.2 872.9ZM794 990L884.0 884.4L880.9 881.8ZM794 990L878.9 885.1L875.7 882.6ZM794 990L876.3 882.7L873.1 880.3ZM794 990L878.5 873.6L875.0 871.1ZM794 990L869.8 879.7L866.5 877.5ZM794 990L864.2 881.9L861.0 879.9ZM794 990L863.8 876.1L860.4 874.1ZM794 990L858.1 879.0L854.8 877.2ZM794 990L852.4 882.5L849.2 880.8ZM794 990L854.0 872.4L850.5 870.7ZM794 990L848.9 874.9L845.5 873.4ZM794 990L840.8 885.0L837.7 883.7ZM794 990L840.1 878.9L836.8 877.6ZM794 990L836.0 880.8L832.8 879.6ZM794 990L835.0 874.7L831.5 873.5ZM794 990L830.3 878.8L827.0 877.8ZM794 990L824.1 888.8L821.1 888.0ZM794 990L824.6 876.5L821.2 875.7ZM794 990L817.0 894.8L814.2 894.1ZM794 990L815.4 890.4L812.4 889.9ZM794 990L813.5 885.7L810.5 885.1ZM794 990L808.7 898.6L806.0 898.2ZM794 990L806.9 894.2L804.0 893.8ZM794 990L803.3 904.0L800.7 903.8ZM794 990L801.7 894.8L798.9 894.7ZM794 990L799.2 895.3L796.4 895.2ZM794 990L796.6 900.6L794.0 900.6ZM794 990L794.3 897.9L791.6 898.0ZM794 990L792.2 908.1L789.8 908.2ZM794 990L789.8 903.2L787.2 903.3ZM794 990L787.7 906.0L785.3 906.2ZM794 990L785.7 907.5L783.3 907.8ZM794 990L783.9 910.7L781.6 911.0ZM794 990L781.1 906.4L778.7 906.8ZM794 990L778.9 906.3L776.4 906.8ZM794 990L778.4 914.6L776.2 915.1ZM794 990L776.0 913.4L773.8 914.0ZM794 990L776.5 923.3L774.6 923.8ZM794 990L772.6 916.1L770.4 916.8ZM794 990L771.2 918.5L769.1 919.2ZM794 990L768.2 915.7L766.0 916.5ZM794 990L767.0 918.4L764.9 919.3ZM794 990L767.7 925.3L765.8 926.1ZM794 990L765.2 924.1L763.2 925.0ZM794 990L761.4 920.6L759.4 921.6ZM794 990L763.5 929.0L761.7 929.9ZM794 990L758.6 923.7L756.6 924.8ZM794 990L758.6 927.7L756.8 928.8ZM794 990L757.0 928.7L755.2 929.8ZM794 990L755.5 929.8L753.8 931.0ZM794 990L747.7 921.6L745.7 923.0ZM794 990L751.1 930.0L749.3 931.3ZM794 990L748.0 929.2L746.2 930.6ZM794 990L744.6 928.2L742.8 929.7ZM794 990L737.8 923.3L735.8 925.0ZM794 990L743.8 933.4L742.1 934.9ZM794 990L737.9 930.0L736.1 931.7ZM794 990L734.7 929.9L732.9 931.7ZM794 990L728.7 927.3L726.9 929.3ZM794 990L727.3 929.2L725.5 931.2ZM794 990L724.1 929.5L722.3 931.6ZM794 990L728.0 935.8L726.5 937.8ZM794 990L722.8 934.6L721.2 936.7ZM794 990L720.1 935.6L718.5 937.8ZM794 990L708.6 930.6L706.9 933.2ZM794 990L703.6 930.6L701.9 933.3ZM794 990L712.9 939.6L711.5 942.1ZM794 990L709.1 940.3L707.7 942.8ZM794 990L704.7 940.8L703.2 943.5ZM794 990L701.2 942.0L699.8 944.8ZM794 990L692.8 941.1L691.4 944.1ZM794 990L687.1 941.8L685.7 945.0ZM794 990L690.2 946.4L688.9 949.5ZM794 990L692.2 950.3L691.1 953.4ZM794 990L679.2 948.7L678.0 952.2ZM794 990L676.1 951.1L675.0 954.6ZM794 990L667.3 951.9L666.2 955.7ZM794 990L653.5 951.8L652.4 956.0ZM794 990L655.6 956.2L654.7 960.3ZM794 990L655.9 960.1L655.1 964.2ZM794 990L649.1 962.6L648.4 966.9ZM794 990L643.4 965.6L642.8 970.1ZM794 990L657.8 971.5L657.3 975.6ZM794 990L632.4 972.5L631.9 977.3ZM794 990L634.4 976.9L634.1 981.7ZM794 990L630.4 980.9L630.2 985.8ZM794 990L631.4 985.2L631.4 990.1ZM794 990L642.3 989.5L642.4 994.0ZM794 990L641.2 993.5L641.4 998.0ZM794 990L649.2 997.1L649.5 1001.4ZM794 990L632.3 1002.2L632.7 1007.1ZM794 990L750.3 994.1L750.5 995.4ZM794 990L749.8 995.4L750.0 996.7ZM794 990L748.0 996.8L748.2 998.2ZM794 990L639.9 1018.1L640.8 1022.7ZM794 990L633.0 1023.8L634.1 1028.6ZM794 990L641.1 1026.3L642.3 1030.8ZM794 990L642.0 1030.3L643.3 1034.8ZM794 990L636.5 1036.2L638.0 1040.9ZM794 990L637.5 1040.4L639.1 1045.1ZM794 990L628.7 1048.1L630.5 1053.0ZM794 990L639.3 1049.0L641.2 1053.6ZM794 990L613.0 1064.6L615.3 1070.0ZM794 990L622.4 1066.0L624.8 1071.1ZM794 990L638.4 1063.9L640.7 1068.5ZM794 990L636.4 1070.0L638.8 1074.6ZM794 990L634.8 1076.1L637.5 1080.8ZM794 990L636.4 1080.7L639.2 1085.3ZM794 990L646.1 1080.3L648.9 1084.7ZM794 990L642.7 1088.0L645.7 1092.4ZM794 990L661.6 1080.7L664.4 1084.6ZM794 990L687.4 1067.2L689.7 1070.3ZM794 990L692.7 1067.4L695.1 1070.4ZM794 990L705.6 1061.3L707.8 1063.9ZM794 990L710.4 1061.2L712.6 1063.6ZM794 990L710.9 1064.6L713.2 1067.0ZM794 990L716.4 1063.5L718.6 1065.7ZM794 990L712.2 1071.6L714.7 1074.0ZM794 990L726.0 1061.5L728.2 1063.5ZM794 990L731.7 1059.0L733.8 1060.8ZM794 990L722.0 1074.2L724.5 1076.3ZM794 990L725.8 1074.1L728.3 1076.1ZM794 990L729.5 1073.9L732.1 1075.8ZM794 990L723.4 1087.1L726.3 1089.2ZM794 990L729.5 1083.8L732.3 1085.6ZM794 990L722.0 1100.8L725.3 1102.9ZM794 990L715.4 1118.3L719.2 1120.5ZM794 990L716.9 1123.6L720.9 1125.8ZM794 990L720.4 1125.5L724.5 1127.7ZM794 990L729.5 1116.7L733.3 1118.6ZM794 990L731.4 1121.3L735.4 1123.1ZM794 990L737.1 1118.0L740.9 1119.6ZM794 990L733.8 1135.6L738.1 1137.3ZM794 990L740.0 1131.0L744.2 1132.6ZM794 990L741.2 1139.3L745.7 1140.8ZM794 990L756.1 1107.1L759.6 1108.2ZM794 990L766.2 1084.4L769.0 1085.2ZM794 990L765.7 1096.4L768.8 1097.2ZM794 990L765.2 1110.5L768.8 1111.3ZM794 990L762.7 1138.2L767.1 1139.1ZM794 990L766.0 1142.0L770.6 1142.8ZM794 990L769.3 1147.4L774.0 1148.0ZM794 990L773.2 1150.0L777.9 1150.6ZM794 990L778.5 1139.4L783.0 1139.8ZM794 990L781.5 1152.6L786.3 1152.9ZM794 990L785.8 1151.9L790.6 1152.1ZM794 990L790.4 1140.2L794.8 1140.2ZM794 990L794.3 1138.6L798.7 1138.6ZM794 990L798.4 1144.7L803.0 1144.6ZM794 990L796.7 1035.1L798.0 1035.0ZM794 990L798.1 1038.1L799.6 1038.0ZM794 990L799.5 1039.4L801.0 1039.2ZM794 990L813.9 1138.7L818.4 1138.0ZM794 990L820.0 1152.1L824.9 1151.2ZM794 990L824.6 1152.8L829.4 1151.8ZM794 990L828.6 1151.0L833.4 1149.9ZM794 990L829.0 1134.0L833.3 1132.9ZM794 990L832.0 1130.3L836.2 1129.1ZM794 990L836.1 1130.7L840.3 1129.4ZM794 990L840.0 1130.0L844.1 1128.6ZM794 990L845.9 1135.3L850.2 1133.7ZM794 990L857.0 1152.9L861.8 1151.0ZM794 990L867.6 1166.5L872.9 1164.3ZM794 990L874.5 1169.7L879.8 1167.2ZM794 990L875.9 1160.7L881.0 1158.2ZM794 990L883.8 1165.1L888.9 1162.4ZM794 990L891.4 1168.4L896.7 1165.5ZM794 990L883.6 1144.1L888.1 1141.4ZM794 990L894.4 1152.9L899.2 1149.8ZM794 990L898.8 1150.5L903.6 1147.3ZM794 990L895.9 1137.3L900.3 1134.3ZM794 990L894.3 1127.2L898.4 1124.1ZM794 990L888.0 1111.7L891.6 1108.8ZM794 990L882.9 1098.9L886.1 1096.2ZM794 990L894.8 1107.2L898.3 1104.1ZM794 990L887.3 1092.8L890.3 1090.0ZM794 990L896.4 1097.1L899.6 1094.1ZM794 990L900.0 1095.2L903.1 1092.0ZM794 990L889.6 1080.0L892.3 1077.1ZM794 990L892.2 1077.7L894.8 1074.7ZM794 990L906.7 1085.5L909.5 1082.1ZM794 990L906.3 1080.2L908.9 1076.8ZM794 990L898.6 1069.5L900.9 1066.4ZM794 990L901.2 1067.1L903.4 1063.9ZM794 990L905.2 1065.7L907.4 1062.4ZM794 990L926.2 1075.2L928.7 1071.2ZM794 990L927.8 1071.3L930.2 1067.3ZM794 990L915.5 1059.5L917.5 1055.8ZM794 990L936.1 1066.5L938.3 1062.2ZM794 990L943.9 1065.7L946.1 1061.3ZM794 990L939.2 1058.6L941.2 1054.3ZM794 990L934.4 1051.9L936.2 1047.7ZM794 990L943.3 1051.2L945.1 1046.8ZM794 990L934.8 1043.4L936.3 1039.2ZM794 990L934.5 1039.1L935.9 1035.0ZM794 990L966.0 1045.3L967.6 1040.2ZM794 990L959.7 1038.5L961.0 1033.6ZM794 990L959.0 1033.6L960.3 1028.7ZM794 990L975.4 1033.0L976.6 1027.6ZM794 990L963.7 1025.5L964.7 1020.5ZM794 990L982.4 1024.4L983.4 1018.8ZM794 990L985.3 1019.7L986.1 1014.1ZM794 990L968.1 1012.4L968.7 1007.2ZM794 990L973.2 1008.3L973.7 1003.0ZM794 990L977.6 1003.9L978.0 998.5ZM794 990L977.4 999.1L977.6 993.7ZM794 990L991.7 994.7L991.8 988.8Z"/><path fill="#4a9ad0" fill-opacity="0.25" d="M794 990L790.8 929.4L789.4 929.5ZM794 990L880.3 1044.1L882.3 1040.8ZM794 990L639.6 1078.8L642.9 1084.3ZM794 990L894.2 1046.3L896.5 1042.2ZM794 990L937.1 972.6L936.6 969.0ZM794 990L971.3 985.1L971.2 980.7ZM794 990L668.5 968.4L667.8 973.6ZM794 990L767.7 938.2L765.6 939.3ZM794 990L813.0 1075.1L816.6 1074.3ZM794 990L794.8 932.8L791.9 932.8ZM794 990L644.0 1050.9L647.8 1059.4ZM794 990L701.0 954.7L699.7 958.5ZM794 990L755.0 1094.0L759.3 1095.5ZM794 990L649.7 969.4L648.9 976.4ZM794 990L888.8 1082.2L891.4 1079.4ZM794 990L628.8 1054.4L632.6 1063.3ZM794 990L851.7 922.6L849.2 920.5ZM794 990L883.3 945.9L882.4 944.0ZM794 990L729.4 1106.6L736.1 1110.1ZM794 990L860.3 893.1L855.8 890.1ZM794 990L879.8 882.1L873.3 877.2ZM794 990L813.1 892.2L809.7 891.6ZM794 990L643.3 977.4L642.8 985.5ZM794 990L845.0 908.0L841.7 906.0ZM794 990L768.9 949.0L767.7 949.8ZM794 990L780.5 1067.5L783.8 1068.0ZM794 990L734.6 966.1L733.9 968.0ZM794 990L734.0 1048.9L735.3 1050.2ZM794 990L964.6 1005.5L965.3 995.3ZM794 990L869.8 931.1L868.7 929.7ZM794 990L812.3 1087.3L814.6 1086.9ZM794 990L702.6 940.8L700.2 945.7ZM794 990L791.6 939.8L788.8 940.1ZM794 990L650.9 1057.6L652.4 1060.7ZM794 990L931.4 937.7L929.4 932.8ZM794 990L929.4 923.4L926.3 917.4ZM794 990L823.1 1075.1L827.7 1073.4ZM794 990L932.3 928.1L929.9 923.0ZM794 990L762.0 937.9L759.0 939.9ZM794 990L789.0 942.3L787.1 942.5ZM794 990L798.1 936.7L796.8 936.6ZM794 990L900.7 954.6L899.6 951.4ZM794 990L772.9 930.0L771.1 930.7ZM794 990L831.5 913.1L830.1 912.5ZM794 990L794.2 943.9L791.9 944.0ZM794 990L689.8 1024.2L691.2 1028.2Z"/><path fill="#46689a" fill-opacity="0.5" d="M846 1012h3v3h-3zM847 1104h3v3h-3zM654 985h3v3h-3zM744 949h3v3h-3zM738 1127h3v3h-3zM755 930h3v3h-3zM772 1070h3v3h-3zM746 957h3v3h-3zM858 967h3v3h-3zM917 931h3v3h-3zM793 954h3v3h-3zM907 923h3v3h-3zM874 1074h3v3h-3zM786 951h3v3h-3zM781 940h3v3h-3zM844 914h3v3h-3zM788 909h3v3h-3zM927 1012h3v3h-3zM797 903h3v3h-3zM778 949h3v3h-3zM917 989h3v3h-3zM690 973h3v3h-3zM818 914h3v3h-3zM898 986h3v3h-3zM872 940h3v3h-3zM832 979h3v3h-3zM782 956h3v3h-3zM676 1060h3v3h-3zM795 1123h3v3h-3zM767 1116h3v3h-3zM755 957h3v3h-3zM872 997h3v3h-3zM775 1109h3v3h-3zM957 944h3v3h-3zM880 1059h3v3h-3zM780 1133h3v3h-3zM864 906h3v3h-3zM652 993h3v3h-3zM845 1131h3v3h-3zM642 1079h3v3h-3zM743 1104h3v3h-3zM797 968h3v3h-3zM856 921h3v3h-3zM900 907h3v3h-3zM659 1042h3v3h-3zM731 1053h3v3h-3zM770 988h3v3h-3zM834 1119h3v3h-3zM679 992h3v3h-3zM773 1023h3v3h-3zM787 1073h3v3h-3zM867 953h3v3h-3zM785 1062h3v3h-3zM784 1152h3v3h-3zM698 986h3v3h-3zM671 973h3v3h-3zM807 1110h3v3h-3zM773 1016h3v3h-3zM838 931h3v3h-3zM790 1083h3v3h-3zM763 1004h3v3h-3zM878 956h3v3h-3zM736 1099h3v3h-3zM757 1063h3v3h-3zM684 1001h3v3h-3zM743 979h3v3h-3zM845 1030h3v3h-3zM971 1014h3v3h-3zM928 975h3v3h-3zM874 1159h3v3h-3zM730 968h3v3h-3zM820 889h3v3h-3zM814 911h3v3h-3zM862 906h3v3h-3zM856 1009h3v3h-3zM853 1113h3v3h-3zM881 1064h3v3h-3zM805 900h3v3h-3zM762 987h3v3h-3zM933 986h3v3h-3zM726 968h3v3h-3zM850 921h3v3h-3zM767 928h3v3h-3zM964 988h3v3h-3zM831 1047h3v3h-3zM911 1048h3v3h-3zM859 1035h3v3h-3zM758 951h3v3h-3zM945 991h3v3h-3zM760 948h3v3h-3zM791 969h3v3h-3zM901 910h3v3h-3zM778 918h3v3h-3zM794 944h3v3h-3zM723 994h3v3h-3zM737 931h3v3h-3zM885 1070h3v3h-3zM726 1063h3v3h-3zM907 1033h3v3h-3zM787 1027h3v3h-3zM782 1096h3v3h-3zM796 1121h3v3h-3zM790 970h3v3h-3zM847 1016h3v3h-3zM709 974h3v3h-3zM776 929h3v3h-3zM889 1004h3v3h-3zM754 1049h3v3h-3zM686 1030h3v3h-3zM821 942h3v3h-3zM821 891h3v3h-3zM719 988h3v3h-3zM915 1070h3v3h-3zM746 974h3v3h-3zM808 954h3v3h-3zM780 968h3v3h-3zM798 942h3v3h-3zM637 1063h3v3h-3zM794 1096h3v3h-3zM730 951h3v3h-3zM759 955h3v3h-3zM878 955h3v3h-3zM860 1003h3v3h-3zM670 992h3v3h-3zM840 1043h3v3h-3zM789 949h3v3h-3zM743 952h3v3h-3zM942 1034h3v3h-3zM814 1010h3v3h-3zM954 957h3v3h-3zM872 1049h3v3h-3zM770 1004h3v3h-3zM728 936h3v3h-3zM875 1147h3v3h-3zM885 1006h3v3h-3zM842 951h3v3h-3zM660 1009h3v3h-3zM923 1039h3v3h-3zM733 1071h3v3h-3zM698 963h3v3h-3zM955 949h3v3h-3zM804 899h3v3h-3zM755 1040h3v3h-3zM848 933h3v3h-3zM739 1053h3v3h-3zM828 961h3v3h-3zM669 1009h3v3h-3zM762 962h3v3h-3zM775 1004h3v3h-3zM779 942h3v3h-3zM927 1024h3v3h-3zM864 1052h3v3h-3zM799 942h3v3h-3zM934 1025h3v3h-3zM789 976h3v3h-3zM667 988h3v3h-3zM745 963h3v3h-3zM725 1111h3v3h-3zM798 967h3v3h-3zM768 946h3v3h-3zM766 1053h3v3h-3zM833 1118h3v3h-3zM721 992h3v3h-3zM894 1009h3v3h-3zM835 1075h3v3h-3zM810 903h3v3h-3zM774 920h3v3h-3zM725 988h3v3h-3zM805 925h3v3h-3zM724 1109h3v3h-3zM849 918h3v3h-3zM818 889h3v3h-3zM819 959h3v3h-3zM894 950h3v3h-3zM901 1069h3v3h-3zM777 1147h3v3h-3zM878 1028h3v3h-3zM840 884h3v3h-3zM793 1028h3v3h-3zM749 1065h3v3h-3zM760 955h3v3h-3zM804 972h3v3h-3zM786 943h3v3h-3zM855 1007h3v3h-3zM874 1008h3v3h-3zM749 932h3v3h-3zM850 1104h3v3h-3zM914 951h3v3h-3zM739 932h3v3h-3zM819 923h3v3h-3zM820 1009h3v3h-3zM717 941h3v3h-3zM798 1028h3v3h-3zM848 978h3v3h-3zM864 1028h3v3h-3zM792 1146h3v3h-3zM772 954h3v3h-3zM923 1025h3v3h-3zM789 920h3v3h-3zM778 953h3v3h-3zM965 985h3v3h-3zM898 1050h3v3h-3zM827 1002h3v3h-3zM801 924h3v3h-3zM953 1034h3v3h-3zM761 961h3v3h-3zM722 955h3v3h-3zM857 1020h3v3h-3zM839 1121h3v3h-3zM869 1140h3v3h-3zM737 1035h3v3h-3zM775 949h3v3h-3zM804 1036h3v3h-3zM826 897h3v3h-3zM795 964h3v3h-3zM935 959h3v3h-3zM760 924h3v3h-3zM894 1079h3v3h-3zM792 963h3v3h-3zM879 931h3v3h-3zM777 1058h3v3h-3zM800 928h3v3h-3zM727 1053h3v3h-3zM792 1141h3v3h-3zM767 1035h3v3h-3zM848 1073h3v3h-3zM690 1036h3v3h-3zM789 1065h3v3h-3zM795 945h3v3h-3zM867 885h3v3h-3zM698 1041h3v3h-3zM722 934h3v3h-3zM716 993h3v3h-3zM844 1119h3v3h-3zM861 993h3v3h-3zM662 968h3v3h-3zM887 1135h3v3h-3zM895 963h3v3h-3zM844 943h3v3h-3zM931 1013h3v3h-3zM882 1031h3v3h-3zM859 1062h3v3h-3zM790 916h3v3h-3zM849 1009h3v3h-3zM699 1055h3v3h-3zM807 928h3v3h-3zM838 936h3v3h-3zM792 924h3v3h-3zM761 1036h3v3h-3zM908 981h3v3h-3zM765 1050h3v3h-3zM781 958h3v3h-3zM827 1101h3v3h-3zM847 967h3v3h-3zM740 948h3v3h-3zM772 1016h3v3h-3zM851 896h3v3h-3zM748 960h3v3h-3zM770 924h3v3h-3zM773 939h3v3h-3zM761 948h3v3h-3zM890 1099h3v3h-3zM770 961h3v3h-3zM784 1061h3v3h-3zM980 983h3v3h-3zM706 944h3v3h-3zM718 938h3v3h-3zM738 975h3v3h-3zM940 976h3v3h-3zM730 1068h3v3h-3zM891 929h3v3h-3zM753 946h3v3h-3zM842 928h3v3h-3zM639 1010h3v3h-3zM875 924h3v3h-3zM849 1142h3v3h-3zM808 949h3v3h-3zM944 1046h3v3h-3zM753 985h3v3h-3zM882 1033h3v3h-3zM888 1054h3v3h-3zM831 1062h3v3h-3zM811 1062h3v3h-3zM721 939h3v3h-3zM835 1065h3v3h-3zM807 925h3v3h-3zM693 1001h3v3h-3zM849 936h3v3h-3zM772 1130h3v3h-3zM931 954h3v3h-3zM796 1028h3v3h-3zM830 1048h3v3h-3zM713 1048h3v3h-3zM752 1033h3v3h-3zM722 950h3v3h-3zM714 949h3v3h-3zM715 962h3v3h-3zM947 967h3v3h-3zM718 984h3v3h-3zM806 1127h3v3h-3zM737 974h3v3h-3zM743 981h3v3h-3zM864 917h3v3h-3zM876 937h3v3h-3zM755 992h3v3h-3zM773 1014h3v3h-3zM780 1129h3v3h-3zM751 993h3v3h-3zM697 992h3v3h-3zM857 1009h3v3h-3zM888 1107h3v3h-3zM778 1131h3v3h-3zM834 883h3v3h-3zM645 982h3v3h-3zM850 1022h3v3h-3zM829 1133h3v3h-3zM884 950h3v3h-3zM797 1057h3v3h-3zM855 1035h3v3h-3zM824 1057h3v3h-3zM645 992h3v3h-3zM809 935h3v3h-3zM704 993h3v3h-3zM877 970h3v3h-3zM862 882h3v3h-3zM734 1118h3v3h-3zM850 891h3v3h-3zM876 917h3v3h-3zM754 1036h3v3h-3zM867 1064h3v3h-3zM640 1074h3v3h-3zM910 901h3v3h-3zM748 1039h3v3h-3zM819 1068h3v3h-3zM941 998h3v3h-3zM749 935h3v3h-3zM744 971h3v3h-3zM793 1033h3v3h-3zM836 1079h3v3h-3zM728 1069h3v3h-3zM663 1068h3v3h-3zM790 979h3v3h-3zM871 973h3v3h-3zM737 1041h3v3h-3zM645 1001h3v3h-3zM845 934h3v3h-3zM779 1011h3v3h-3zM913 988h3v3h-3zM864 934h3v3h-3zM807 914h3v3h-3zM720 1036h3v3h-3zM740 1043h3v3h-3zM892 880h3v3h-3zM796 953h3v3h-3zM890 924h3v3h-3zM880 1079h3v3h-3zM753 960h3v3h-3zM952 978h3v3h-3zM692 1032h3v3h-3zM748 1050h3v3h-3zM921 1042h3v3h-3zM795 908h3v3h-3zM925 952h3v3h-3zM753 962h3v3h-3zM935 935h3v3h-3zM940 978h3v3h-3zM855 1013h3v3h-3zM822 906h3v3h-3zM668 995h3v3h-3zM825 1062h3v3h-3zM780 952h3v3h-3zM958 938h3v3h-3zM821 1116h3v3h-3zM974 982h3v3h-3zM791 1104h3v3h-3zM788 1103h3v3h-3zM800 955h3v3h-3zM797 966h3v3h-3zM760 932h3v3h-3zM747 1120h3v3h-3zM781 1045h3v3h-3zM681 1029h3v3h-3zM821 1098h3v3h-3zM788 924h3v3h-3zM877 1008h3v3h-3zM813 1007h3v3h-3zM792 948h3v3h-3zM788 1151h3v3h-3zM792 1086h3v3h-3zM851 1043h3v3h-3zM800 903h3v3h-3zM735 1054h3v3h-3zM723 1111h3v3h-3zM665 964h3v3h-3zM750 1119h3v3h-3zM701 951h3v3h-3zM699 1034h3v3h-3zM814 908h3v3h-3zM920 923h3v3h-3zM814 965h3v3h-3zM905 902h3v3h-3zM777 964h3v3h-3zM842 981h3v3h-3zM752 1102h3v3h-3zM752 1112h3v3h-3zM909 939h3v3h-3zM746 934h3v3h-3zM870 1152h3v3h-3zM933 929h3v3h-3zM918 1064h3v3h-3zM848 946h3v3h-3zM821 967h3v3h-3zM881 1112h3v3h-3zM732 1059h3v3h-3zM755 1032h3v3h-3zM835 960h3v3h-3zM798 1065h3v3h-3zM774 945h3v3h-3zM896 976h3v3h-3zM781 925h3v3h-3zM762 954h3v3h-3zM915 1017h3v3h-3zM869 1091h3v3h-3zM918 965h3v3h-3zM699 949h3v3h-3zM757 935h3v3h-3zM713 1009h3v3h-3zM826 1027h3v3h-3zM829 1064h3v3h-3zM886 989h3v3h-3zM806 1144h3v3h-3zM933 986h3v3h-3zM658 982h3v3h-3zM828 912h3v3h-3zM753 931h3v3h-3zM789 909h3v3h-3zM787 953h3v3h-3zM765 1079h3v3h-3zM885 914h3v3h-3zM907 927h3v3h-3zM751 1116h3v3h-3zM749 1036h3v3h-3zM745 954h3v3h-3zM829 1018h3v3h-3zM817 1009h3v3h-3zM810 934h3v3h-3zM877 1049h3v3h-3zM737 935h3v3h-3zM801 925h3v3h-3zM650 1018h3v3h-3zM797 1121h3v3h-3zM768 952h3v3h-3zM864 887h3v3h-3zM732 1091h3v3h-3zM836 915h3v3h-3zM811 1105h3v3h-3zM867 916h3v3h-3zM845 1035h3v3h-3zM818 929h3v3h-3zM766 1081h3v3h-3zM826 943h3v3h-3zM795 939h3v3h-3zM726 999h3v3h-3zM778 959h3v3h-3zM948 1014h3v3h-3zM909 904h3v3h-3zM868 935h3v3h-3zM962 1007h3v3h-3zM783 1095h3v3h-3zM825 904h3v3h-3zM849 946h3v3h-3zM779 976h3v3h-3zM727 940h3v3h-3zM757 1090h3v3h-3zM746 1042h3v3h-3zM866 900h3v3h-3zM725 942h3v3h-3zM875 1042h3v3h-3zM650 1062h3v3h-3zM747 964h3v3h-3zM770 1126h3v3h-3zM814 1116h3v3h-3zM873 1094h3v3h-3zM748 1047h3v3h-3zM772 936h3v3h-3zM872 935h3v3h-3zM820 1116h3v3h-3zM757 1029h3v3h-3zM728 955h3v3h-3zM742 1040h3v3h-3zM729 1118h3v3h-3zM834 900h3v3h-3zM811 1084h3v3h-3zM644 980h3v3h-3zM930 956h3v3h-3zM856 891h3v3h-3zM903 1032h3v3h-3zM884 924h3v3h-3zM651 1027h3v3h-3zM667 999h3v3h-3z"/><path fill="#2aa8dc" fill-opacity="0.5" d="M853 1097h2v2h-2zM721 943h2v2h-2zM814 914h2v2h-2zM741 946h2v2h-2zM888 899h2v2h-2zM784 976h2v2h-2zM788 946h2v2h-2zM905 980h2v2h-2zM725 952h2v2h-2zM773 961h2v2h-2zM806 916h2v2h-2zM890 1027h2v2h-2zM810 911h2v2h-2zM766 967h2v2h-2zM875 905h2v2h-2zM839 1103h2v2h-2zM702 971h2v2h-2zM807 906h2v2h-2zM760 945h2v2h-2zM857 1126h2v2h-2zM728 976h2v2h-2zM742 1006h2v2h-2zM845 1077h2v2h-2zM838 1049h2v2h-2zM768 963h2v2h-2zM757 971h2v2h-2zM941 987h2v2h-2zM788 956h2v2h-2zM780 948h2v2h-2zM723 955h2v2h-2zM756 1049h2v2h-2zM909 1044h2v2h-2zM924 941h2v2h-2zM888 1053h2v2h-2zM870 898h2v2h-2zM787 998h2v2h-2zM962 977h2v2h-2zM763 1036h2v2h-2zM833 961h2v2h-2zM802 917h2v2h-2zM779 967h2v2h-2zM887 1053h2v2h-2zM847 897h2v2h-2zM719 1050h2v2h-2zM734 1097h2v2h-2zM823 1109h2v2h-2zM821 911h2v2h-2zM669 1014h2v2h-2zM703 953h2v2h-2zM717 1017h2v2h-2zM797 959h2v2h-2zM762 988h2v2h-2zM748 980h2v2h-2zM699 984h2v2h-2zM657 1024h2v2h-2zM952 983h2v2h-2zM702 971h2v2h-2zM736 1089h2v2h-2zM761 956h2v2h-2zM834 1000h2v2h-2zM748 1044h2v2h-2zM926 966h2v2h-2zM742 1106h2v2h-2zM762 932h2v2h-2zM698 996h2v2h-2zM813 1003h2v2h-2zM774 1088h2v2h-2zM761 936h2v2h-2zM761 952h2v2h-2zM668 1010h2v2h-2zM809 930h2v2h-2zM731 956h2v2h-2zM837 1071h2v2h-2zM845 1085h2v2h-2zM723 991h2v2h-2zM658 995h2v2h-2zM738 1071h2v2h-2zM776 957h2v2h-2zM779 943h2v2h-2zM742 1049h2v2h-2zM930 955h2v2h-2zM861 1047h2v2h-2zM877 963h2v2h-2zM869 987h2v2h-2zM886 1039h2v2h-2zM738 1076h2v2h-2zM880 1044h2v2h-2zM734 1043h2v2h-2zM760 1086h2v2h-2zM769 1045h2v2h-2zM751 1065h2v2h-2zM798 1033h2v2h-2zM803 971h2v2h-2zM814 1116h2v2h-2zM756 1046h2v2h-2zM860 1123h2v2h-2zM719 1021h2v2h-2zM781 950h2v2h-2zM777 951h2v2h-2zM736 1061h2v2h-2zM904 950h2v2h-2zM850 976h2v2h-2zM837 1098h2v2h-2zM872 1033h2v2h-2zM901 980h2v2h-2zM675 1068h2v2h-2zM907 1003h2v2h-2zM770 974h2v2h-2zM766 1025h2v2h-2zM803 977h2v2h-2zM937 985h2v2h-2zM888 900h2v2h-2zM894 928h2v2h-2zM806 977h2v2h-2zM782 1051h2v2h-2zM788 1050h2v2h-2zM927 946h2v2h-2zM772 1086h2v2h-2zM789 1029h2v2h-2zM740 1047h2v2h-2zM682 961h2v2h-2zM792 916h2v2h-2zM792 1003h2v2h-2zM933 977h2v2h-2zM813 1032h2v2h-2zM774 939h2v2h-2zM847 898h2v2h-2zM762 987h2v2h-2zM757 949h2v2h-2zM715 957h2v2h-2zM864 900h2v2h-2zM757 946h2v2h-2zM753 1033h2v2h-2zM744 946h2v2h-2zM914 1033h2v2h-2zM714 1025h2v2h-2zM930 935h2v2h-2zM770 1070h2v2h-2zM769 944h2v2h-2zM941 1010h2v2h-2zM742 1028h2v2h-2zM710 949h2v2h-2zM751 947h2v2h-2zM707 1055h2v2h-2zM822 1064h2v2h-2zM883 989h2v2h-2zM730 955h2v2h-2zM856 1129h2v2h-2zM938 950h2v2h-2zM849 1124h2v2h-2zM717 1027h2v2h-2zM870 1091h2v2h-2zM744 1105h2v2h-2zM783 973h2v2h-2zM661 1036h2v2h-2zM820 909h2v2h-2zM855 1017h2v2h-2zM723 1046h2v2h-2zM740 977h2v2h-2zM792 925h2v2h-2zM818 1078h2v2h-2zM891 930h2v2h-2zM803 1053h2v2h-2zM657 1064h2v2h-2zM859 1046h2v2h-2zM695 975h2v2h-2zM811 948h2v2h-2zM832 908h2v2h-2zM759 949h2v2h-2zM745 955h2v2h-2zM810 969h2v2h-2zM899 991h2v2h-2zM875 926h2v2h-2zM807 1041h2v2h-2zM734 1032h2v2h-2zM774 992h2v2h-2zM959 954h2v2h-2zM853 1055h2v2h-2zM719 1024h2v2h-2zM810 1075h2v2h-2zM914 1031h2v2h-2zM863 1138h2v2h-2zM794 975h2v2h-2zM807 950h2v2h-2zM819 975h2v2h-2zM654 1042h2v2h-2zM683 960h2v2h-2zM822 1007h2v2h-2zM731 1034h2v2h-2zM888 902h2v2h-2zM792 934h2v2h-2zM736 1061h2v2h-2zM754 1062h2v2h-2zM752 975h2v2h-2zM944 1022h2v2h-2zM797 972h2v2h-2zM793 946h2v2h-2zM893 1058h2v2h-2zM813 1020h2v2h-2zM820 1099h2v2h-2zM733 1070h2v2h-2zM849 969h2v2h-2zM799 1127h2v2h-2zM762 1054h2v2h-2zM684 1061h2v2h-2zM852 944h2v2h-2zM793 964h2v2h-2zM740 983h2v2h-2zM797 959h2v2h-2zM788 1003h2v2h-2zM783 1044h2v2h-2zM951 953h2v2h-2zM810 905h2v2h-2zM874 1078h2v2h-2zM850 922h2v2h-2zM895 919h2v2h-2zM862 1093h2v2h-2zM731 970h2v2h-2zM846 1094h2v2h-2zM770 1015h2v2h-2zM798 969h2v2h-2zM776 1068h2v2h-2zM867 896h2v2h-2zM790 944h2v2h-2zM829 938h2v2h-2zM844 1068h2v2h-2zM833 921h2v2h-2zM769 934h2v2h-2zM891 905h2v2h-2zM929 939h2v2h-2zM765 1041h2v2h-2zM724 980h2v2h-2zM793 957h2v2h-2zM747 936h2v2h-2zM960 991h2v2h-2zM851 950h2v2h-2zM818 1007h2v2h-2zM784 1061h2v2h-2zM815 992h2v2h-2zM825 1071h2v2h-2zM798 985h2v2h-2zM855 1097h2v2h-2zM821 926h2v2h-2zM846 1021h2v2h-2zM740 1016h2v2h-2zM834 904h2v2h-2zM784 1030h2v2h-2zM828 971h2v2h-2zM735 1038h2v2h-2zM790 958h2v2h-2zM727 1047h2v2h-2zM839 1099h2v2h-2zM802 966h2v2h-2zM785 1078h2v2h-2zM789 1020h2v2h-2zM827 1072h2v2h-2zM874 1111h2v2h-2zM778 989h2v2h-2zM870 1037h2v2h-2zM838 1035h2v2h-2zM832 902h2v2h-2zM775 968h2v2h-2zM755 949h2v2h-2zM919 986h2v2h-2zM720 963h2v2h-2zM875 913h2v2h-2zM856 1128h2v2h-2zM771 940h2v2h-2zM747 946h2v2h-2zM922 938h2v2h-2zM894 1019h2v2h-2zM693 998h2v2h-2zM773 995h2v2h-2zM866 1004h2v2h-2zM808 958h2v2h-2zM794 922h2v2h-2zM846 980h2v2h-2zM778 1040h2v2h-2zM927 975h2v2h-2zM689 1044h2v2h-2zM786 1018h2v2h-2zM866 1067h2v2h-2zM849 974h2v2h-2zM699 986h2v2h-2zM790 966h2v2h-2zM768 972h2v2h-2zM679 1065h2v2h-2zM851 914h2v2h-2zM793 1048h2v2h-2zM869 1135h2v2h-2zM756 957h2v2h-2zM856 1088h2v2h-2zM732 942h2v2h-2zM807 1066h2v2h-2zM797 943h2v2h-2zM701 949h2v2h-2zM841 1120h2v2h-2zM853 1125h2v2h-2zM900 953h2v2h-2zM934 1027h2v2h-2z"/><path fill="#1b1b1b" d="M795 911h3v3h-3zM959 977h2v2h-2zM927 928h3v3h-3zM731 1103h2v2h-2zM969 1023h2v2h-2zM725 1067h2v2h-2zM975 950h2v2h-2zM921 1061h3v3h-3zM620 1037h3v3h-3zM894 917h2v2h-2zM684 941h2v2h-2zM895 903h2v2h-2zM898 891h3v3h-3zM892 1059h3v3h-3zM652 1020h2v2h-2zM633 1001h2v2h-2zM648 1067h3v3h-3zM910 918h2v2h-2zM705 1064h3v3h-3zM733 936h2v2h-2zM669 958h3v3h-3zM644 968h2v2h-2zM798 911h3v3h-3zM618 1042h2v2h-2zM970 976h2v2h-2zM764 930h2v2h-2zM777 911h2v2h-2zM928 940h3v3h-3zM945 922h2v2h-2zM727 1093h2v2h-2zM746 926h3v3h-3zM810 888h3v3h-3zM927 1048h3v3h-3zM748 927h3v3h-3zM712 1058h3v3h-3zM916 907h2v2h-2zM785 912h3v3h-3zM903 1054h2v2h-2zM990 984h3v3h-3zM895 898h3v3h-3zM878 875h2v2h-2zM887 1085h2v2h-2zM888 1115h2v2h-2zM772 1120h2v2h-2zM637 1016h3v3h-3zM762 923h2v2h-2zM739 938h3v3h-3zM774 932h3v3h-3zM742 938h2v2h-2zM760 922h2v2h-2zM937 1027h2v2h-2zM906 1080h2v2h-2zM960 939h2v2h-2zM773 924h2v2h-2zM618 1033h3v3h-3zM881 1158h2v2h-2zM733 939h3v3h-3zM732 1113h2v2h-2zM731 1116h2v2h-2zM715 939h3v3h-3zM632 1055h2v2h-2zM952 1025h2v2h-2zM811 1147h3v3h-3zM754 928h2v2h-2zM848 890h2v2h-2zM877 1150h2v2h-2zM731 1084h2v2h-2zM880 1170h2v2h-2zM727 1062h3v3h-3zM823 883h2v2h-2zM842 883h3v3h-3zM904 903h3v3h-3zM739 1053h2v2h-2zM955 979h3v3h-3zM749 1105h2v2h-2zM732 943h2v2h-2zM732 1100h2v2h-2zM812 1134h3v3h-3zM899 1070h2v2h-2zM642 1066h2v2h-2zM877 883h3v3h-3zM891 913h2v2h-2zM940 1039h2v2h-2zM704 1068h2v2h-2zM725 1085h3v3h-3zM762 924h2v2h-2zM784 925h3v3h-3zM916 902h3v3h-3zM927 934h3v3h-3zM741 943h2v2h-2zM625 1086h2v2h-2zM939 938h2v2h-2zM978 937h2v2h-2zM765 921h2v2h-2zM771 924h2v2h-2zM948 1009h3v3h-3zM728 934h2v2h-2zM714 941h3v3h-3zM643 975h2v2h-2zM899 925h2v2h-2zM842 875h2v2h-2zM728 939h2v2h-2zM643 1022h2v2h-2zM721 1093h2v2h-2zM874 1143h2v2h-2zM733 937h2v2h-2zM800 913h3v3h-3zM989 958h2v2h-2zM770 1074h2v2h-2zM625 1039h3v3h-3zM678 946h2v2h-2zM859 889h3v3h-3zM716 937h3v3h-3zM823 882h3v3h-3zM826 883h3v3h-3zM895 880h2v2h-2zM683 1066h2v2h-2zM642 1023h3v3h-3zM819 885h2v2h-2zM739 1103h2v2h-2zM780 1150h2v2h-2zM726 1094h2v2h-2zM986 971h3v3h-3zM850 877h2v2h-2zM840 878h2v2h-2zM641 1052h3v3h-3zM802 1127h3v3h-3zM771 931h2v2h-2zM863 1144h2v2h-2zM713 933h3v3h-3zM896 1081h2v2h-2zM921 1043h2v2h-2zM732 1122h2v2h-2zM887 1060h3v3h-3zM757 1101h2v2h-2zM748 928h2v2h-2zM777 926h3v3h-3zM779 1146h2v2h-2zM717 937h2v2h-2zM826 894h2v2h-2zM783 1145h3v3h-3zM737 1058h2v2h-2zM629 1067h2v2h-2zM929 1057h3v3h-3zM757 937h3v3h-3zM780 928h3v3h-3zM713 1054h2v2h-2zM742 1102h2v2h-2zM822 883h3v3h-3zM911 1060h3v3h-3zM724 934h2v2h-2zM782 925h2v2h-2zM692 951h3v3h-3zM782 1155h3v3h-3zM723 1062h3v3h-3zM752 1114h3v3h-3zM891 1128h2v2h-2zM804 1120h3v3h-3zM877 1152h2v2h-2zM618 1043h3v3h-3zM801 908h2v2h-2zM851 889h2v2h-2zM824 895h2v2h-2zM740 1119h2v2h-2zM800 909h3v3h-3zM748 1109h3v3h-3zM752 933h3v3h-3zM882 881h2v2h-2zM733 1055h2v2h-2zM803 1125h3v3h-3zM874 873h2v2h-2zM874 1132h2v2h-2zM976 975h2v2h-2zM933 934h2v2h-2zM895 905h2v2h-2zM859 886h3v3h-3zM749 936h2v2h-2zM958 941h2v2h-2zM916 919h3v3h-3zM651 1050h2v2h-2zM946 1032h3v3h-3zM765 929h2v2h-2zM728 1075h3v3h-3zM732 1078h2v2h-2zM924 920h2v2h-2zM818 1142h2v2h-2zM736 926h3v3h-3zM894 1135h2v2h-2zM910 903h2v2h-2zM787 1139h2v2h-2zM731 1073h2v2h-2zM741 932h2v2h-2zM880 1128h2v2h-2zM966 944h3v3h-3zM935 1066h2v2h-2zM919 1074h2v2h-2zM699 939h2v2h-2zM694 1065h2v2h-2zM745 1109h2v2h-2zM734 1060h2v2h-2zM883 1111h2v2h-2zM774 1110h3v3h-3zM888 1110h2v2h-2zM870 894h2v2h-2zM648 1003h2v2h-2zM920 937h2v2h-2zM896 1060h2v2h-2zM991 984h3v3h-3zM755 934h2v2h-2zM636 1033h2v2h-2zM976 1023h2v2h-2zM981 1020h3v3h-3zM922 918h3v3h-3zM730 1118h2v2h-2zM639 1057h2v2h-2zM649 972h2v2h-2zM885 1092h3v3h-3zM961 960h3v3h-3zM784 1151h2v2h-2zM729 1093h3v3h-3zM932 1041h2v2h-2zM640 1056h2v2h-2zM809 889h2v2h-2zM651 1034h2v2h-2zM734 1073h3v3h-3zM794 910h3v3h-3zM672 957h3v3h-3zM900 899h3v3h-3zM623 1066h3v3h-3zM921 926h3v3h-3zM627 1045h2v2h-2zM715 1070h3v3h-3zM913 901h2v2h-2zM618 1040h2v2h-2zM625 1060h2v2h-2zM738 932h2v2h-2zM801 906h2v2h-2zM760 1101h2v2h-2zM772 921h2v2h-2zM898 1056h2v2h-2zM619 1063h2v2h-2zM857 879h2v2h-2zM848 1143h2v2h-2zM869 1134h2v2h-2zM645 1002h2v2h-2zM773 1110h3v3h-3zM751 932h2v2h-2zM839 1119h3v3h-3zM798 909h3v3h-3zM675 948h3v3h-3zM683 945h2v2h-2zM908 895h2v2h-2zM878 873h3v3h-3zM721 1122h3v3h-3zM886 1081h3v3h-3zM804 1128h2v2h-2zM970 974h2v2h-2zM653 978h2v2h-2zM835 1114h2v2h-2zM715 1065h3v3h-3zM729 937h2v2h-2zM745 1120h2v2h-2zM888 1085h2v2h-2zM745 931h2v2h-2zM899 1072h2v2h-2zM820 886h3v3h-3zM662 962h2v2h-2zM926 1044h2v2h-2zM647 1070h2v2h-2zM795 901h3v3h-3zM945 945h3v3h-3zM876 886h2v2h-2zM657 990h3v3h-3zM635 1069h2v2h-2zM954 997h3v3h-3zM893 1059h2v2h-2zM817 1135h3v3h-3zM913 904h2v2h-2zM895 1093h3v3h-3zM940 919h2v2h-2zM784 1144h3v3h-3zM797 900h3v3h-3zM726 944h2v2h-2zM722 1125h2v2h-2zM634 993h2v2h-2zM961 993h2v2h-2zM994 980h2v2h-2zM721 939h2v2h-2zM929 1054h2v2h-2zM774 928h3v3h-3zM632 1068h2v2h-2zM913 930h2v2h-2zM651 1074h2v2h-2zM967 1003h3v3h-3zM691 940h2v2h-2zM881 1129h2v2h-2zM783 921h2v2h-2zM803 1143h2v2h-2zM769 1077h2v2h-2zM672 948h2v2h-2zM887 1096h2v2h-2zM798 915h2v2h-2zM705 1055h3v3h-3zM758 934h2v2h-2zM784 912h2v2h-2zM724 1074h2v2h-2zM761 921h2v2h-2zM730 1077h3v3h-3zM837 1118h2v2h-2zM832 1115h3v3h-3zM758 928h3v3h-3zM715 932h2v2h-2zM967 961h3v3h-3zM953 1002h3v3h-3zM768 1092h2v2h-2zM897 921h2v2h-2zM627 1021h2v2h-2zM859 1142h3v3h-3zM729 1128h2v2h-2zM725 1094h2v2h-2zM806 898h3v3h-3zM671 972h3v3h-3zM768 923h3v3h-3zM684 956h3v3h-3zM648 1017h2v2h-2zM976 979h3v3h-3zM860 1158h2v2h-2zM962 1001h2v2h-2zM936 1049h2v2h-2zM941 931h3v3h-3zM817 1121h3v3h-3zM748 937h2v2h-2zM893 1093h2v2h-2zM646 1016h3v3h-3zM799 896h2v2h-2zM819 884h2v2h-2zM677 959h2v2h-2zM908 898h2v2h-2zM855 1152h3v3h-3zM874 1081h3v3h-3zM733 929h2v2h-2zM943 1043h2v2h-2zM951 959h3v3h-3zM702 949h2v2h-2zM763 928h2v2h-2zM771 916h2v2h-2zM981 1011h2v2h-2zM892 1103h2v2h-2zM931 1030h2v2h-2zM780 922h2v2h-2z"/><path fill="#3b68a2" d="M940 871h3v3h-3zM858 840h3v3h-3zM723 904h2v2h-2zM827 856h2v2h-2zM881 867h3v3h-3zM882 868h2v2h-2zM931 853h3v3h-3zM753 1184h2v2h-2zM869 871h2v2h-2zM909 872h2v2h-2zM981 931h2v2h-2zM953 905h2v2h-2zM815 864h3v3h-3zM932 869h2v2h-2zM824 851h3v3h-3zM942 917h3v3h-3zM907 852h3v3h-3zM916 889h3v3h-3zM574 1052h3v3h-3zM932 878h2v2h-2zM912 873h3v3h-3zM1067 981h3v3h-3zM720 1190h2v2h-2zM871 871h3v3h-3zM996 925h3v3h-3zM656 937h3v3h-3zM1062 988h3v3h-3zM743 912h3v3h-3zM841 1165h2v2h-2zM704 918h3v3h-3zM852 848h3v3h-3zM846 843h3v3h-3zM927 902h3v3h-3zM941 904h3v3h-3zM866 854h3v3h-3zM995 1059h2v2h-2zM837 861h3v3h-3zM959 909h3v3h-3zM965 909h3v3h-3zM929 836h3v3h-3zM891 856h3v3h-3zM704 1132h3v3h-3zM793 900h3v3h-3zM859 862h3v3h-3zM924 854h3v3h-3zM936 846h3v3h-3zM833 1186h3v3h-3zM730 919h3v3h-3zM676 935h2v2h-2zM705 911h2v2h-2zM1025 1022h2v2h-2zM989 902h3v3h-3zM827 857h2v2h-2zM954 861h3v3h-3zM933 833h3v3h-3zM848 873h2v2h-2zM995 907h3v3h-3zM905 868h2v2h-2zM926 833h2v2h-2zM876 843h3v3h-3zM921 1137h3v3h-3zM989 907h3v3h-3zM754 920h3v3h-3zM926 884h3v3h-3zM589 1064h2v2h-2zM927 867h3v3h-3zM983 909h3v3h-3zM983 1075h2v2h-2zM733 921h3v3h-3zM937 874h3v3h-3zM963 1043h2v2h-2zM872 840h3v3h-3zM856 865h2v2h-2zM868 870h2v2h-2zM1006 909h3v3h-3zM877 845h3v3h-3zM851 1158h3v3h-3zM983 899h2v2h-2zM692 929h3v3h-3zM991 905h2v2h-2zM863 838h3v3h-3zM762 1107h3v3h-3zM757 916h3v3h-3zM980 915h3v3h-3zM769 895h2v2h-2zM630 952h3v3h-3zM939 863h2v2h-2zM1037 995h3v3h-3zM859 839h2v2h-2zM940 875h2v2h-2zM859 843h2v2h-2zM880 868h2v2h-2zM738 906h2v2h-2zM912 855h3v3h-3zM856 861h2v2h-2zM851 869h2v2h-2zM987 911h2v2h-2zM689 925h3v3h-3zM971 898h3v3h-3zM867 859h3v3h-3zM933 913h2v2h-2zM891 865h3v3h-3zM797 896h3v3h-3zM915 872h2v2h-2zM947 1089h2v2h-2zM824 864h3v3h-3zM604 1080h2v2h-2zM981 914h3v3h-3zM919 887h3v3h-3zM896 840h3v3h-3zM880 1175h3v3h-3zM889 844h3v3h-3zM742 910h2v2h-2zM1029 974h3v3h-3zM1003 947h3v3h-3zM918 883h2v2h-2zM974 1081h2v2h-2zM1034 994h3v3h-3zM982 906h2v2h-2zM842 844h3v3h-3zM937 896h2v2h-2zM854 854h3v3h-3zM920 1225h3v3h-3zM615 951h2v2h-2zM651 928h3v3h-3zM767 903h3v3h-3zM943 857h3v3h-3zM795 1176h3v3h-3zM930 831h3v3h-3zM872 856h3v3h-3zM711 1175h3v3h-3zM880 840h3v3h-3zM627 1103h2v2h-2zM763 893h3v3h-3zM681 926h3v3h-3zM927 863h2v2h-2zM948 877h3v3h-3zM700 927h2v2h-2zM840 869h3v3h-3zM940 905h3v3h-3z"/></g><rect x="805" y="747" width="13" height="9" fill="#3a6ea8"/><rect x="706" y="775" width="3" height="5" fill="#3a6ea8"/><ellipse cx="689.6" cy="1167.7" rx="4.5" ry="3" fill="#48c438"/><ellipse cx="570.5" cy="1065.6" rx="3" ry="5" fill="#3a8fc0"/><ellipse cx="571.5" cy="1067" rx="2.5" ry="2.5" fill="#48c438"/><ellipse cx="695.9" cy="1218" rx="3" ry="3" fill="#3a78b2"/><ellipse cx="656.6" cy="1299.7" rx="5" ry="4" fill="#3a78b2"/><ellipse cx="625" cy="1386" rx="4.5" ry="4.5" fill="#3179ab"/><ellipse cx="584" cy="1471" rx="6" ry="4.5" fill="#3185bd"/><ellipse cx="553.2" cy="1556.2" rx="6.5" ry="6.5" fill="#2f90c8"/><ellipse cx="474.6" cy="1586.6" rx="7" ry="7" fill="#55e83c"/><ellipse cx="457" cy="1593" rx="7" ry="6" fill="#2a9ed0"/><ellipse cx="452.6" cy="1601.7" rx="6" ry="6" fill="#2d95cf"/><ellipse cx="1243" cy="1271.5" rx="6" ry="5.5" fill="#2a9ed0"/><ellipse cx="1238.3" cy="1276.2" rx="4.5" ry="4.5" fill="#55e83c"/><path d="M1036 1289 L1052 1270" stroke="#48c438" stroke-width="8" stroke-linecap="round"/><circle cx="1050" cy="1273" r="3.5" fill="#d6d835"/><circle cx="1055" cy="1268" r="3.5" fill="#2eafd8"/>
<g fill="none" stroke="#808080" stroke-width="2.6" stroke-linejoin="round" stroke-linecap="round"><path d="M20.4 231.4 L33.0 221.4"/><path d="M193.3 221.4 L246.7 258.1"/><path d="M317.4 221.4 L317.4 229.9 L246.7 231.4 L246.7 258.1 L248.3 295.9 L248.3 361.9 L148.3 364.1 L151.5 501.7 L135.8 503.9 L137.3 569.3"/><path d="M248.3 295.9 L366.2 296.8 L366.2 286.4 L375.6 292.7 L386.6 287.4 L408.6 294.3 L424.3 302.1 L425.9 317.9 L436.9 332.0 L462.0 345.2 L480.9 347.1 L488.7 350.9"/><path d="M151.5 501.7 L202.7 500.2 L204.3 492.9 L260.9 492.9 L261.5 497.0 L280.7 497.0 L281.9 555.2 L333.2 556.1 L355.2 555.2 L372.4 569.3"/><path d="M20.4 717.0 L69.8 716.4 L69.8 722.4 L84.2 722.4 L84.9 739.0 L80.1 740.0 L80.1 750.0 L40.9 790.9 L40.9 778.3 L23.6 778.3 L23.6 800.0"/><path d="M84.9 739.0 L145.2 738.1 L146.1 800.0"/><path d="M145.2 738.1 L145.2 709.2 L147.7 706.0 L157.2 704.5 L163.4 710.7 L224.7 646.3"/><path d="M80.1 750.0 L124.1 792.5 L119.4 800.0"/><path d="M372.4 569.3 L386.6 640.0 L377.2 646.3"/><path d="M1470.9 492.3 L1489.7 487.6 L1508.6 497.0 L1530.6 487.6 L1538.4 482.9 L1568.3 489.2"/><path d="M1453.6 594.4 L1470.9 611.7 L1496.0 605.4 L1518.0 614.9 L1543.2 619.6 L1568.3 614.9"/><path d="M20.4 900.6 L37.7 881.7 L34.6 877.0 L47.1 864.4 L51.9 867.6 L81.7 837.7 L119.4 800.0"/><path d="M81.7 837.7 L103.7 859.7 L100.6 861.3 L110.0 866.0 L117.9 883.3 L125.7 880.1 L143.0 899.0 L176.0 928.9 L171.3 941.4 L165.0 944.6"/><path d="M143.0 899.0 L100.6 941.4 L83.3 925.7 L69.1 937.7 L20.4 938.9"/><path d="M146.1 800.0 L147.7 815.7 L169.7 823.6 L185.4 837.7 L207.4 856.6 L216.9 878.6 L207.4 891.1 L204.3 906.9"/><path d="M235.7 922.6 L232.6 935.1 L248.3 944.6 L245.2 955.6 L257.7 957.2 L273.4 950.9 L292.3 938.3 L295.4 916.3 L314.3 910.0 L330.0 906.9 L345.7 903.7 L339.4 895.9 L330.0 880.1"/><path d="M295.4 916.3 L342.6 919.4 L370.9 930.4 L399.2 916.3 L433.7 916.3 L458.9 921.0 L477.7 927.3 L490.3 946.1 L509.2 952.4 L534.3 946.1 L537.5 972.9 L551.6 974.4 L553.2 982.3 L568.9 985.4 L570.5 999.6 L581.5 1001.2 L590.9 985.4 L600.0 983.9"/><path d="M477.7 927.3 L487.2 921.0 L515.5 916.3 L518.6 899.0 L502.9 897.4"/><path d="M245.2 955.6 L242.0 972.9 L237.3 990.2 L220.0 994.9 L194.9 1009.0"/><path d="M237.3 990.2 L248.3 988.6 L259.3 1001.2 L259.3 1026.3 L275.0 1023.2 L289.2 1032.6 L290.7 1040.4 L300.2 1043.6 L301.7 1048.3 L323.7 1048.3 L322.2 1073.4 L337.9 1071.9 L342.6 1073.4 L348.9 1103.3"/><path d="M490.3 946.1 L465.2 976.0 L462.0 985.4 L424.3 1007.4 L396.0 1016.9 L377.2 1032.6 L348.9 1051.4 L364.6 1065.6 L389.7 1064.0 L411.7 1056.2 L433.7 1060.9 L414.9 1076.6 L418.0 1086.0 L430.6 1087.6 L436.9 1104.9 L446.3 1101.7 L460.5 1100.2 L466.7 1122.2"/><path d="M389.7 1064.0 L397.6 1073.4 L392.9 1087.6 L380.3 1087.6 L370.9 1095.4 L348.9 1103.3 L333.2 1111.2 L323.7 1119.0 L314.3 1117.4 L301.7 1112.7 L276.6 1119.0 L251.4 1130.0 L238.9 1139.4 L232.6 1145.7 L207.4 1158.3 L201.2 1164.6 L190.2 1170.9 L185.4 1180.3 L154.0 1189.7 L138.3 1192.9 L135.1 1185.0 L128.9 1186.6 L125.7 1199.2 L119.4 1191.3"/><path d="M301.7 1112.7 L342.6 1163.0 L331.6 1172.4 L347.3 1192.9"/><path d="M466.7 1122.2 L509.2 1111.2 L534.3 1101.7 L553.2 1082.9 L565.7 1042.0 L584.6 1026.3 L600.0 1013.7"/><path d="M466.7 1122.2 L440.0 1128.4 L430.6 1136.3 L408.6 1158.3 L386.6 1174.0 L347.3 1192.9 L333.2 1208.6 L314.3 1225.9 L301.7 1238.4 L289.2 1246.3 L279.7 1249.4 L267.2 1265.2 L260.9 1280.9 L242.0 1302.9 L229.4 1318.6"/><path d="M509.2 1111.2 L531.2 1139.4 L556.3 1166.2 L542.2 1175.6 L564.2 1205.4 L540.6 1230.6 L553.2 1249.4 L546.9 1262.0 L553.2 1277.7 L539.0 1291.9 L562.6 1323.3"/><path d="M135.1 1192.9 L130.4 1214.9 L157.2 1227.4 L185.4 1216.4 L185.4 1210.2 L196.4 1205.4 L213.7 1236.9 L215.3 1255.7 L232.6 1265.2 L227.9 1276.2 L242.0 1296.6"/><path d="M312.7 1227.4 L348.9 1276.2 L292.3 1315.5 L290.7 1301.3"/><path d="M626.7 921.0 L622.0 947.7 L606.3 969.7 L600.0 979.2"/><path d="M667.6 938.3 L678.6 950.9 L653.4 963.4 L628.3 985.4 L600.0 1013.7"/><path d="M760.3 972.9 L738.3 988.6 L719.4 1001.2 L710.0 1013.7 L691.1 1035.7 L688.0 1048.3 L662.9 1076.6 L637.7 1095.4 L620.4 1139.4 L625.1 1164.6 L614.1 1189.7 L606.3 1218.0"/><path d="M980.3 1038.9 L977.2 1051.4 L958.3 1076.6 L945.7 1095.4 L930.0 1082.9 L911.2 1097.0 L860.9 1067.2 L851.4 1101.7 L820.0 1139.4 L801.2 1167.7 L782.3 1199.2 L750.9 1224.3 L681.7 1290.3 L662.9 1302.9"/><path d="M782.3 1199.2 L851.4 1208.6 L876.6 1221.2 L892.3 1240.0 L895.4 1255.7 L886.0 1265.2 L930.0 1280.9 L937.9 1301.3"/><path d="M886.0 1265.2 L882.9 1284.0 L870.3 1301.3"/><path d="M681.7 1290.3 L694.3 1301.3"/><path d="M980.3 1038.9 L1008.6 1060.9 L1036.9 1067.2 L1043.2 1076.6 L1055.7 1076.6 L1074.6 1089.2 L1090.3 1111.2 L1084.0 1126.9 L1099.7 1114.3"/><path d="M1099.7 1032.6 L1118.6 1013.7 L1134.3 1032.6 L1153.2 1034.2 L1165.7 1016.9 L1200.0 1021.6"/><path d="M1109.2 932.0 L1115.5 972.9 L1134.3 985.4 L1150.0 988.6 L1159.5 998.0 L1168.9 1001.2 L1165.7 1016.9"/><path d="M1159.5 991.7 L1184.6 972.9 L1200.0 957.2"/><path d="M1326.3 800.0 L1327.9 834.6 L1316.9 844.0 L1313.7 878.6 L1279.2 894.3 L1269.7 897.4 L1271.3 919.4 L1257.2 916.3 L1238.3 913.1 L1219.4 906.9 L1206.9 897.4 L1203.7 891.1"/><path d="M1271.3 919.4 L1203.7 960.3 L1197.4 954.0 L1181.7 965.0 L1183.3 971.3 L1156.6 991.7 L1150.3 985.4 L1140.9 985.4 L1118.9 979.2 L1112.6 972.9 L1118.9 944.6 L1109.4 935.1"/><path d="M1156.6 991.7 L1169.1 998.0 L1166.0 1021.6 L1150.3 1023.2 L1148.7 1034.2 L1140.9 1029.4 L1120.4 1016.9 L1109.4 1032.6 L1100.0 1035.7"/><path d="M1166.0 1016.9 L1203.7 1021.6 L1200.6 1038.9 L1254.0 1045.2 L1266.6 1031.0 L1294.9 1032.6 L1298.0 1020.0 L1304.3 1020.0 L1302.7 991.7 L1279.2 971.3 L1282.3 957.2 L1269.7 941.4 L1250.9 938.3"/><path d="M1302.7 993.3 L1332.6 991.7 L1345.2 1013.7 L1354.6 1032.6 L1360.9 1042.0"/><path d="M1197.4 1038.9 L1178.6 1076.6 L1162.9 1101.7 L1180.1 1103.3 L1186.4 1130.0 L1181.7 1155.2 L1172.3 1161.4"/><path d="M1246.1 1046.7 L1257.2 1089.2"/><path d="M1338.9 850.3 L1376.6 900.6 L1411.2 913.1 L1414.3 894.3 L1408.0 869.1 L1448.9 856.6 L1444.2 839.3 L1477.2 839.3 L1474.0 856.6 L1485.0 875.4 L1552.6 864.4 L1568.3 897.4"/><path d="M1376.6 900.6 L1392.3 941.4 L1395.4 963.4 L1398.6 988.6"/><path d="M1492.9 800.0 L1499.2 812.6 L1511.7 815.7 L1514.9 837.7 L1505.4 856.6 L1502.3 869.1"/><path d="M1313.7 800.0 L1351.4 800.0 L1367.2 815.7 L1389.2 803.1"/><path d="M103.7 1391.1 L130.4 1394.3 L132.0 1402.1 L176.0 1410.0 L232.6 1450.9 L267.2 1482.3"/><path d="M147.7 1403.7 L163.4 1375.4 L176.0 1353.4 L191.7 1336.1 L216.9 1328.3 L231.0 1318.9"/><path d="M279.7 1300.0 L290.7 1322.0 L297.0 1344.0 L279.7 1366.0 L286.0 1384.9 L301.7 1388.0 L317.4 1375.4 L353.6 1405.3"/><path d="M534.3 1300.0 L559.5 1322.0 L600.0 1318.9"/><path d="M559.5 1322.0 L502.9 1340.9 L462.0 1355.0 L411.7 1362.9 L411.7 1359.7 L377.2 1375.4 L355.2 1394.3 L352.0 1406.9 L333.2 1422.6 L323.7 1435.1 L295.4 1438.3 L286.0 1457.2 L276.6 1469.7 L267.2 1482.3 L245.2 1491.7 L232.6 1507.4 L226.3 1529.4 L207.4 1548.3 L188.6 1551.4 L185.4 1538.9 L198.0 1523.2 L207.4 1504.3 L176.0 1493.3 L138.3 1488.6 L138.3 1493.3 L103.7 1485.4 L94.3 1491.7 L80.1 1496.4"/><path d="M267.2 1482.3 L282.9 1485.4 L289.2 1494.9 L304.9 1504.3 L326.9 1526.3 L336.3 1542.0 L358.3 1554.6 L377.2 1573.4 L389.7 1601.7 L405.4 1614.3 L427.4 1617.4 L440.0 1626.9 L449.4 1630.0 L474.6 1645.7 L487.2 1670.9 L490.3 1683.4 L515.5 1708.6 L521.7 1714.9 L543.7 1711.7 L562.6 1705.4 L565.7 1718.0 L543.7 1727.4 L540.6 1740.0 L537.5 1758.9"/><path d="M207.4 1551.4 L194.9 1576.6 L188.6 1582.9 L188.6 1601.7 L179.2 1617.4 L176.0 1626.9 L188.6 1626.9 L185.4 1645.7"/><path d="M176.0 1626.9 L157.2 1642.6 L138.3 1655.2 L110.0 1667.7"/><path d="M600.0 1513.7 L587.7 1526.3 L581.5 1545.2 L572.0 1573.4 L587.7 1589.2 L594.0 1614.3 L590.9 1636.3 L597.2 1648.9 L587.7 1667.7 L584.6 1696.0 L565.7 1705.4"/><path d="M427.4 1758.9 L446.3 1743.2 L468.3 1746.3 L477.7 1758.9"/><path d="M22.0 1752.6 L56.6 1743.2 L91.1 1733.7 L106.9 1702.3 L135.1 1677.2 L176.0 1655.2 L213.7 1652.0 L232.6 1677.2 L238.9 1708.6 L229.4 1740.0 L223.2 1758.9"/><path d="M141.4 1758.9 L188.6 1746.3 L273.4 1752.6 L279.7 1758.9"/><path d="M600.0 1318.9 L647.1 1312.6 L666.0 1300.0"/><path d="M694.3 1300.0 L694.3 1318.9 L695.9 1337.7 L694.3 1356.6 L694.3 1391.1 L684.9 1416.3 L662.9 1447.7 L637.7 1469.7 L618.9 1482.3 L606.3 1501.2 L600.0 1510.6"/><path d="M870.3 1300.0 L857.7 1303.1 L848.3 1312.6 L845.2 1337.7 L851.4 1347.1 L838.9 1362.9 L835.7 1384.9 L838.9 1406.9 L848.3 1428.9 L857.7 1457.2 L867.2 1469.7 L873.4 1482.3 L867.2 1494.9"/><path d="M937.9 1300.0 L937.9 1331.4 L914.3 1356.6 L923.7 1372.3 L945.7 1384.9 L961.4 1384.9"/><path d="M600.0 1523.2 L631.4 1540.4 L662.9 1545.2 L716.3 1548.3 L741.4 1535.7 L763.4 1529.4 L788.6 1529.4 L791.7 1570.3 L788.6 1595.4 L788.6 1623.7 L794.9 1626.9"/><path d="M1420.6 665.2 L1461.4 765.7"/><path d="M1461.4 765.7 L1492.9 753.2 L1492.9 740.6 L1505.4 731.2 L1499.2 723.3 L1535.3 693.5 L1543.2 682.5 L1568.3 671.5"/><path d="M1477.2 762.6 L1492.9 800.0"/><path d="M1433.2 765.7 L1445.7 761.0 L1448.9 775.2 L1464.6 772.0"/><path d="M1433.2 765.7 L1441.0 800.0"/><path d="M1389.2 775.2 L1395.4 767.3 L1423.7 778.3 L1439.4 800.0"/><path d="M1294.9 768.9 L1304.3 781.5 L1313.7 800.0"/></g>
<g fill="none" stroke-linejoin="round" stroke-linecap="round"><g stroke="#c8c8c8" stroke-width="4" transform="translate(1.5 1.5)"><path d="M20.6 555.6 L26.2 554.1 L30.9 552.3 L35.8 556.1 L41.4 558.8 L47.8 562.8 L51.6 557.3 L57.6 556.1 L63.8 554.9 L68.7 550.1 L74.1 547.2 L84.4 543.3 L87.3 548.8 L91.7 552.9 L95.8 557.3 L100.4 560.9 L106.3 562.8 L110.1 566.7 L115.6 567.7 L120.8 570.8 L126.4 571.0 L132.7 569.9 L135.6 574.9 L141.2 576.1 L144.3 580.6 L149.5 584.2 L153.8 588.6 L155.3 595.3 L160.7 598.2 L166.2 600.6 L169.7 604.6 L172.4 609.9 L176.2 614.1 L181.3 618.1 L187.5 618.2 L192.8 620.0 L197.8 623.7 L199.4 630.0 L203.7 634.1 L206.0 640.1 L210.9 646.1 L217.5 642.5 L225.2 641.4 L228.0 646.9 L230.1 652.7 L231.8 657.5 L236.1 660.9 L240.3 664.4 L246.0 665.2 L249.6 669.9 L254.9 671.5 L259.9 674.3 L260.9 680.3 L264.6 685.0 L267.5 689.7 L271.5 693.0 L275.4 696.4 L281.0 697.2 L282.9 702.1 L288.6 705.2 L288.9 711.2 L291.6 716.5 L298.2 717.1 L301.8 722.6 L307.6 724.5 L312.3 728.3 L318.7 729.9 L323.7 737.5"/><path d="M543.7 221.4C547.4 223.6 561.0 229.8 565.7 234.6C570.5 239.4 571.5 244.0 572.0 250.3C572.6 256.6 569.9 266.8 568.9 272.3C567.8 277.8 567.8 280.1 565.7 283.3C563.6 286.4 558.4 288.0 556.3 291.1C554.2 294.3 555.8 301.6 553.2 302.1C550.6 302.7 543.7 291.7 540.6 294.3C537.5 296.9 537.5 314.2 534.3 317.9C531.2 321.5 526.5 314.5 521.7 316.3C517.0 318.1 506.5 325.2 506.0 328.9C505.5 332.5 519.1 334.1 518.6 338.3C518.1 342.5 507.9 351.4 502.9 354.0C497.9 356.6 489.8 350.9 488.7 354.0C487.7 357.2 498.4 367.1 496.6 372.9C494.8 378.6 479.8 382.8 477.7 388.6C475.6 394.3 485.1 402.2 484.0 407.4C483.0 412.7 473.0 415.8 471.5 420.0C469.9 424.2 475.1 428.9 474.6 432.6C474.1 436.2 475.1 436.8 468.3 442.0C461.5 447.2 444.2 458.3 433.7 464.0C423.3 469.8 411.7 471.3 405.4 476.6C399.2 481.8 398.6 491.3 396.0 495.4C393.4 499.6 388.2 498.6 389.7 501.7C391.3 504.9 406.2 510.1 405.4 514.3C404.7 518.5 387.6 521.1 385.0 526.9C382.4 532.6 392.1 541.8 389.7 548.9C387.4 555.9 374.3 564.1 370.9 569.3C367.5 574.5 367.5 576.4 369.3 580.3C371.1 584.2 382.4 589.7 381.9 592.9C381.4 596.0 367.5 596.5 366.2 599.2C364.9 601.8 373.0 604.4 374.0 608.6C375.1 612.8 372.2 617.0 372.4 624.3C372.7 631.6 377.9 646.8 375.6 652.6C373.2 658.4 360.7 651.0 358.3 658.9C355.9 666.7 362.5 693.5 361.4 699.7C360.4 706.0 356.2 694.0 352.0 696.6C347.8 699.2 338.4 709.2 336.3 715.5C334.2 721.7 341.5 730.6 339.4 734.3C337.3 738.0 327.9 735.4 323.7 737.5C319.5 739.5 320.1 743.2 314.3 746.9C308.5 750.6 292.3 755.3 289.2 759.5C286.0 763.6 296.5 768.9 295.4 772.0C294.4 775.2 287.1 774.6 282.9 778.3C278.7 782.0 272.9 790.4 270.3 794.0C267.7 797.6 267.7 799.0 267.2 800.0"/><path d="M1489.7 303.7C1491.0 303.2 1494.4 300.1 1497.6 300.6C1500.7 301.1 1505.7 304.8 1508.6 306.9C1511.5 309.0 1512.3 312.4 1514.9 313.1C1517.5 313.9 1520.9 310.3 1524.3 311.6C1527.7 312.9 1532.7 317.1 1535.3 321.0C1537.9 324.9 1538.7 334.6 1540.0 335.1C1541.3 335.7 1541.1 327.3 1543.2 324.1C1545.3 321.0 1550.5 319.7 1552.6 316.3C1554.7 312.9 1553.6 305.6 1555.7 303.7C1557.8 301.9 1562.8 304.8 1565.2 305.3C1567.5 305.8 1569.1 306.6 1569.9 306.9"/><path d="M1494.4 308.4C1493.9 311.1 1494.2 321.8 1491.3 324.1C1488.4 326.5 1480.6 321.3 1477.2 322.6C1473.8 323.9 1470.9 326.2 1470.9 332.0C1470.9 337.8 1473.8 348.8 1477.2 357.2C1480.6 365.5 1490.5 373.4 1491.3 382.3C1492.1 391.2 1483.2 402.2 1481.9 410.6C1480.6 419.0 1484.2 428.4 1483.4 432.6C1482.7 436.8 1480.3 435.2 1477.2 435.7C1474.0 436.2 1466.7 433.1 1464.6 435.7C1462.5 438.3 1463.3 445.2 1464.6 451.4C1465.9 457.7 1472.4 467.2 1472.4 473.4C1472.4 479.7 1463.3 482.9 1464.6 489.2C1465.9 495.4 1480.8 504.3 1480.3 511.2C1479.8 518.0 1463.3 524.3 1461.4 530.0C1459.6 535.8 1470.4 538.9 1469.3 545.7C1468.3 552.5 1457.8 564.1 1455.2 570.9C1452.5 577.7 1455.7 582.4 1453.6 586.6C1451.5 590.8 1447.0 591.3 1442.6 596.0C1438.1 600.7 1430.3 608.6 1426.9 614.9C1423.5 621.2 1422.2 627.4 1422.2 633.7C1422.2 640.0 1428.2 646.6 1426.9 652.6C1425.6 658.6 1418.0 668.0 1414.3 669.9C1410.6 671.7 1410.1 663.9 1404.9 663.6C1399.6 663.3 1387.6 665.4 1382.9 668.3C1378.2 671.2 1378.2 674.6 1376.6 680.9C1375.0 687.2 1377.6 701.3 1373.4 706.0C1369.3 710.7 1358.3 706.5 1351.4 709.2C1344.6 711.8 1337.8 718.1 1332.6 721.7C1327.3 725.4 1322.6 725.9 1320.0 731.2C1317.4 736.4 1320.0 747.9 1316.9 753.2C1313.7 758.4 1307.2 761.6 1301.2 762.6C1295.1 763.6 1286.5 759.2 1280.7 759.5C1275.0 759.7 1273.1 763.1 1266.6 764.2C1260.0 765.2 1248.8 762.9 1241.4 765.7C1234.1 768.6 1226.8 775.7 1222.6 781.5C1218.4 787.2 1217.3 796.9 1216.3 800.0"/><path d="M270.3 800.0C270.3 802.6 274.0 812.0 270.3 815.7C266.6 819.4 253.8 819.4 248.3 822.0C242.8 824.6 239.1 827.8 237.3 831.4C235.5 835.1 233.9 839.3 237.3 844.0C240.7 848.7 254.3 854.5 257.7 859.7C261.1 865.0 258.8 870.7 257.7 875.4C256.7 880.1 255.6 883.8 251.4 888.0C247.2 892.2 239.4 897.4 232.6 900.6C225.8 903.7 216.3 904.2 210.6 906.9C204.8 909.5 201.7 912.1 198.0 916.3C194.3 920.5 192.2 927.8 188.6 932.0C184.9 936.2 178.9 937.8 176.0 941.4C173.1 945.1 171.6 948.2 171.3 954.0C171.0 959.8 174.4 970.2 174.4 976.0C174.4 981.8 168.9 983.9 171.3 988.6C173.7 993.3 184.7 999.1 188.6 1004.3C192.5 1009.5 193.6 1012.7 194.9 1020.0C196.2 1027.3 198.0 1038.9 196.4 1048.3C194.9 1057.7 187.3 1067.7 185.4 1076.6C183.6 1085.5 184.7 1095.4 185.4 1101.7C186.2 1108.0 190.7 1109.1 190.2 1114.3C189.6 1119.5 183.9 1128.4 182.3 1133.2C180.7 1137.9 184.4 1137.3 180.7 1142.6C177.1 1147.8 165.3 1159.9 160.3 1164.6C155.3 1169.3 154.5 1169.8 150.9 1170.9C147.2 1171.9 143.5 1171.4 138.3 1170.9C133.1 1170.4 123.6 1166.7 119.4 1167.7C115.2 1168.8 114.5 1172.4 113.1 1177.2C111.8 1181.9 112.6 1191.3 111.6 1196.0C110.5 1200.7 107.1 1198.1 106.9 1205.4C106.6 1212.8 108.2 1233.2 110.0 1240.0C111.8 1246.8 116.6 1242.1 117.9 1246.3C119.2 1250.5 118.4 1260.5 117.9 1265.2C117.3 1269.9 113.4 1269.9 114.7 1274.6C116.0 1279.3 124.1 1288.7 125.7 1293.5C127.3 1298.2 126.0 1298.7 124.1 1302.9C122.3 1307.1 116.8 1313.4 114.7 1318.6C112.6 1323.8 112.1 1329.6 111.6 1334.3C111.1 1339.0 110.3 1343.7 111.6 1346.9C112.9 1350.0 119.4 1350.0 119.4 1353.2C119.4 1356.3 113.7 1361.0 111.6 1365.7C109.5 1370.5 109.7 1375.7 106.9 1381.5C104.0 1387.2 96.4 1396.9 94.3 1400.0"/><path d="M251.4 888.0C255.1 887.0 267.2 884.1 273.4 881.7C279.7 879.4 282.3 874.9 289.2 873.9C296.0 872.8 307.5 874.9 314.3 875.4C321.1 876.0 322.2 878.3 330.0 877.0C337.9 875.7 351.0 868.6 361.4 867.6C371.9 866.5 382.4 871.0 392.9 870.7C403.4 870.5 413.8 866.3 424.3 866.0C434.8 865.7 445.8 867.1 455.7 869.1C465.7 871.2 476.2 874.9 484.0 878.6C491.9 882.2 495.5 889.3 502.9 891.1C510.2 893.0 520.2 887.5 528.0 889.6C535.9 891.7 542.2 898.7 550.0 903.7C557.9 908.7 566.8 916.3 575.2 919.4C583.5 922.6 595.9 922.1 600.0 922.6"/><path d="M20.4 1127.5C46.1 1126.9 149.3 1121.7 174.4 1123.7C199.6 1125.7 170.2 1136.3 171.3 1139.4C172.3 1142.6 179.2 1142.1 180.7 1142.6"/><path d="M600.0 917.9C603.1 917.6 611.5 916.3 618.9 916.3C626.2 916.3 636.7 915.8 644.0 917.9C651.3 920.0 656.6 925.2 662.9 928.9C669.1 932.5 673.9 937.2 681.7 939.9C689.6 942.5 701.6 944.6 710.0 944.6C718.4 944.6 725.7 941.7 732.0 939.9C738.3 938.0 742.5 936.5 747.7 933.6C753.0 930.7 758.2 924.7 763.4 922.6C768.7 920.5 774.4 920.0 779.2 921.0C783.9 922.1 787.0 925.2 791.7 928.9C796.4 932.5 801.7 939.3 807.4 943.0C813.2 946.7 821.8 948.5 826.3 950.9C830.7 953.2 832.8 956.1 834.2 957.2"/><path d="M747.7 935.1C749.3 938.3 753.5 948.8 757.2 954.0C760.8 959.2 764.5 961.9 769.7 966.6C775.0 971.3 782.8 980.7 788.6 982.3C794.3 983.9 799.1 977.8 804.3 976.0C809.5 974.2 815.3 973.4 820.0 971.3C824.7 969.2 830.2 966.3 832.6 963.4C834.9 960.6 833.9 955.6 834.2 954.0"/><path d="M834.2 957.2C836.0 959.2 846.5 965.3 845.2 969.7C843.8 974.2 833.1 982.0 826.3 983.9C819.5 985.7 808.0 981.2 804.3 980.7"/><path d="M834.2 954.0C833.9 951.4 831.8 942.0 832.6 938.3C833.4 934.6 833.1 934.1 838.9 932.0C844.6 929.9 860.9 926.2 867.2 925.7C873.4 925.2 872.9 926.2 876.6 928.9C880.3 931.5 885.0 935.7 889.2 941.4C893.3 947.2 897.0 956.9 901.7 963.4C906.4 970.0 912.2 977.1 917.4 980.7C922.7 984.4 929.0 985.4 933.2 985.4C937.3 985.4 940.5 984.4 942.6 980.7C944.7 977.1 942.6 973.1 945.7 963.4C948.9 953.7 958.3 931.2 961.4 922.6C964.6 913.9 960.4 915.2 964.6 911.6C968.8 907.9 978.7 905.3 986.6 900.6C994.4 895.9 1003.9 886.2 1011.7 883.3C1019.6 880.4 1028.5 881.5 1033.7 883.3C1039.0 885.1 1040.0 892.5 1043.2 894.3C1046.3 896.1 1047.4 894.8 1052.6 894.3C1057.8 893.8 1069.4 890.1 1074.6 891.1C1079.8 892.2 1079.3 896.4 1084.0 900.6C1088.7 904.8 1097.6 912.1 1102.9 916.3C1108.1 920.5 1110.7 923.9 1115.5 925.7C1120.2 927.6 1125.9 929.4 1131.2 927.3C1136.4 925.2 1141.1 917.6 1146.9 913.1C1152.6 908.7 1160.0 903.7 1165.7 900.6C1171.5 897.4 1175.7 897.4 1181.5 894.3C1187.2 891.1 1196.9 883.8 1200.0 881.7"/><path d="M1041.2 894.3 L1040.9 899.5 L1038.8 904.8 L1040.8 910.3 L1037.8 913.7 L1035.8 917.4 L1034.2 921.4 L1034.1 925.6 L1035.4 930.0 L1036.2 934.5 L1036.8 939.1 L1039.7 943.0 L1039.5 948.1 L1041.5 951.6 L1043.6 955.2 L1047.6 957.6 L1047.7 962.4 L1051.8 964.7 L1053.4 968.5 L1055.0 972.4 L1056.5 976.3 L1060.0 979.1 L1060.8 983.4 L1063.9 986.3 L1066.5 989.5 L1068.7 993.0 L1071.2 996.4 L1073.6 999.7 L1075.6 1003.3 L1076.6 1007.6 L1078.1 1011.5 L1082.1 1013.9 L1084.5 1017.2 L1084.6 1022.0 L1087.8 1024.9 L1090.3 1028.2 L1092.8 1031.5 L1094.2 1035.5 L1095.9 1039.3 L1099.8 1043.5 L1103.1 1048.3 L1103.0 1052.8 L1099.7 1056.4 L1100.9 1060.7 L1100.3 1065.1 L1099.9 1069.4 L1102.3 1073.3 L1101.2 1077.7 L1101.2 1082.0 L1102.6 1086.1 L1103.4 1090.6 L1106.4 1094.5 L1106.8 1099.2 L1108.8 1103.4 L1108.4 1108.5 L1111.9 1111.3 L1113.8 1115.1 L1114.8 1119.5 L1117.4 1122.9 L1119.3 1126.6 L1122.7 1129.5 L1124.9 1133.1 L1127.6 1136.3 L1131.2 1138.5 L1134.7 1140.8 L1137.6 1143.7 L1141.2 1145.9 L1143.9 1149.1 L1146.1 1153.0 L1149.3 1155.5 L1153.0 1157.3 L1156.3 1159.6 L1159.7 1161.7 L1162.4 1163.5 L1167.2 1163.2 L1171.4 1163.4 L1173.3 1167.2 L1176.5 1170.2 L1178.0 1174.7 L1185.2 1177.6 L1187.6 1174.3 L1190.1 1171.1 L1192.8 1168.2 L1194.6 1164.4 L1197.8 1161.8 L1200.0 1158.3"/><path d="M1162.6 1164.6C1162.1 1167.2 1166.3 1175.1 1159.5 1180.3C1152.6 1185.5 1129.1 1191.3 1121.7 1196.0C1114.4 1200.7 1113.4 1203.4 1115.5 1208.6C1117.5 1213.8 1129.6 1222.2 1134.3 1227.4C1139.0 1232.7 1141.6 1235.3 1143.7 1240.0C1145.8 1244.7 1147.4 1251.5 1146.9 1255.7C1146.4 1259.9 1142.7 1266.7 1140.6 1265.2C1138.5 1263.6 1138.5 1250.5 1134.3 1246.3C1130.1 1242.1 1123.8 1241.1 1115.5 1240.0C1107.1 1239.0 1090.3 1237.9 1084.0 1240.0C1077.7 1242.1 1078.3 1245.3 1077.7 1252.6C1077.2 1259.9 1082.5 1277.7 1080.9 1284.0C1079.3 1290.3 1074.1 1288.7 1068.3 1290.3C1062.5 1291.9 1051.0 1290.8 1046.3 1293.5C1041.6 1296.1 1039.5 1301.8 1040.0 1306.0C1040.5 1310.2 1050.5 1314.4 1049.4 1318.6C1048.4 1322.8 1039.5 1325.9 1033.7 1331.2C1028.0 1336.4 1021.7 1343.2 1014.9 1350.0C1008.1 1356.8 1000.2 1367.3 992.9 1372.0C985.5 1376.7 977.2 1375.7 970.9 1378.3C964.6 1380.9 957.8 1384.1 955.2 1387.7C952.5 1391.4 955.2 1398.0 955.2 1400.0"/><path d="M1200.0 812.6C1197.4 813.1 1187.2 812.6 1184.6 815.7C1182.0 818.9 1186.7 826.7 1184.6 831.4C1182.5 836.1 1173.1 839.3 1172.0 844.0C1171.0 848.7 1174.6 856.1 1178.3 859.7C1182.0 863.4 1191.4 865.0 1194.0 866.0"/><path d="M1219.4 800.0C1219.7 802.4 1225.7 812.0 1221.0 814.1C1216.3 816.2 1197.4 811.5 1191.1 812.6C1184.9 813.6 1184.6 817.3 1183.3 820.4C1182.0 823.6 1185.1 829.3 1183.3 831.4C1181.5 833.5 1174.6 830.4 1172.3 833.0C1169.9 835.6 1168.1 842.4 1169.1 847.1C1170.2 851.9 1175.4 857.1 1178.6 861.3C1181.7 865.5 1187.5 868.4 1188.0 872.3C1188.5 876.2 1187.5 879.6 1181.7 884.9C1176.0 890.1 1160.8 898.0 1153.4 903.7C1146.1 909.5 1142.4 915.2 1137.7 919.4C1133.0 923.6 1129.9 927.8 1125.1 928.9C1120.4 929.9 1113.6 927.3 1109.4 925.7C1105.2 924.1 1101.6 920.5 1100.0 919.4"/><path d="M1162.9 1167.7C1164.4 1166.7 1169.1 1160.1 1172.3 1161.4C1175.4 1162.8 1178.1 1176.1 1181.7 1175.6C1185.4 1175.1 1190.6 1162.8 1194.3 1158.3C1198.0 1153.9 1200.1 1149.4 1203.7 1148.9C1207.4 1148.3 1211.1 1157.8 1216.3 1155.2C1221.5 1152.5 1231.5 1140.0 1235.1 1133.2C1238.8 1126.3 1235.7 1118.0 1238.3 1114.3C1240.9 1110.6 1248.2 1114.3 1250.9 1111.2C1253.5 1108.0 1250.9 1098.1 1254.0 1095.4C1257.2 1092.8 1264.0 1098.6 1269.7 1095.4C1275.5 1092.3 1281.8 1078.7 1288.6 1076.6C1295.4 1074.5 1305.9 1083.4 1310.6 1082.9C1315.3 1082.3 1311.4 1075.5 1316.9 1073.4C1322.4 1071.3 1341.0 1073.4 1343.6 1070.3C1346.2 1067.2 1332.8 1058.8 1332.6 1054.6C1332.3 1050.4 1337.3 1046.2 1342.0 1045.2C1346.7 1044.1 1354.1 1050.9 1360.9 1048.3C1367.7 1045.7 1378.7 1037.8 1382.9 1029.4C1387.1 1021.1 1382.9 1005.3 1386.0 998.0C1389.2 990.7 1397.0 991.2 1401.7 985.4C1406.4 979.7 1411.2 964.5 1414.3 963.4C1417.4 962.4 1416.9 977.1 1420.6 979.2C1424.3 981.2 1430.5 976.0 1436.3 976.0C1442.1 976.0 1451.5 982.3 1455.2 979.2C1458.8 976.0 1456.2 959.2 1458.3 957.2C1460.4 955.1 1464.1 969.2 1467.7 966.6C1471.4 964.0 1476.6 946.1 1480.3 941.4C1484.0 936.7 1486.6 936.2 1489.7 938.3C1492.9 940.4 1496.0 952.4 1499.2 954.0C1502.3 955.6 1504.4 949.8 1508.6 947.7C1512.8 945.6 1521.9 944.6 1524.3 941.4C1526.7 938.3 1520.6 932.0 1522.7 928.9C1524.8 925.7 1532.4 920.5 1536.9 922.6C1541.3 924.7 1546.3 938.8 1549.4 941.4C1552.6 944.1 1554.2 941.4 1555.7 938.3C1557.3 935.1 1556.5 924.4 1558.9 922.6C1561.2 920.7 1568.0 926.5 1569.9 927.3"/><path d="M1162.9 1167.7C1162.3 1170.4 1165.0 1178.7 1159.7 1183.4C1154.5 1188.2 1138.8 1191.8 1131.4 1196.0C1124.1 1200.2 1117.8 1204.9 1115.7 1208.6C1113.6 1212.3 1113.6 1214.4 1118.9 1218.0C1124.1 1221.7 1143.0 1225.4 1147.1 1230.6C1151.3 1235.8 1145.6 1243.7 1144.0 1249.4C1142.4 1255.2 1139.3 1264.6 1137.7 1265.2C1136.1 1265.7 1138.2 1256.3 1134.6 1252.6C1130.9 1248.9 1121.5 1245.3 1115.7 1243.2C1110.0 1241.1 1102.6 1240.5 1100.0 1240.0"/><path d="M121.0 1301.6C119.4 1304.5 113.4 1312.8 111.6 1318.9C109.7 1324.9 108.7 1332.5 110.0 1337.7C111.3 1343.0 120.0 1343.0 119.4 1350.3C118.9 1357.6 111.1 1373.3 106.9 1381.7C102.7 1390.1 96.1 1393.2 94.3 1400.6C92.5 1407.9 96.9 1417.9 95.9 1425.7C94.8 1433.6 90.4 1442.0 88.0 1447.7C85.6 1453.5 82.2 1455.1 81.7 1460.3C81.2 1465.5 87.5 1472.9 84.9 1479.2C82.2 1485.4 72.8 1493.3 66.0 1498.0C59.2 1502.7 49.2 1503.8 44.0 1507.4C38.8 1511.1 37.7 1514.8 34.6 1520.0C31.4 1525.2 27.2 1534.7 25.1 1538.9C23.0 1543.1 22.5 1544.1 22.0 1545.2"/><path d="M1040.0 1300.0C1041.1 1302.6 1047.4 1310.5 1046.3 1315.7C1045.3 1321.0 1039.0 1326.2 1033.7 1331.4C1028.5 1336.7 1020.1 1341.9 1014.9 1347.1C1009.6 1352.4 1006.5 1357.1 1002.3 1362.9C998.1 1368.6 996.0 1377.5 989.7 1381.7C983.4 1385.9 969.8 1384.9 964.6 1388.0C959.4 1391.1 959.4 1394.8 958.3 1400.6C957.3 1406.3 960.4 1416.8 958.3 1422.6C956.2 1428.3 951.0 1431.0 945.7 1435.1C940.5 1439.3 930.5 1443.5 926.9 1447.7C923.2 1451.9 924.3 1454.5 923.7 1460.3C923.2 1466.1 925.3 1477.6 923.7 1482.3C922.2 1487.0 919.5 1486.5 914.3 1488.6C909.1 1490.7 899.1 1492.8 892.3 1494.9C885.5 1497.0 877.6 1498.5 873.4 1501.2C869.3 1503.8 870.8 1505.9 867.2 1510.6C863.5 1515.3 854.1 1523.2 851.4 1529.4C848.8 1535.7 854.6 1539.4 851.4 1548.3C848.3 1557.2 838.3 1576.1 832.6 1582.9C826.8 1589.7 820.0 1586.0 816.9 1589.2C813.7 1592.3 814.8 1597.5 813.7 1601.7C812.7 1605.9 812.7 1610.6 810.6 1614.3C808.5 1618.0 806.4 1619.5 801.2 1623.7C795.9 1627.9 786.0 1633.7 779.2 1639.4C772.3 1645.2 764.5 1653.1 760.3 1658.3C756.1 1663.5 756.6 1666.2 754.0 1670.9C751.4 1675.6 749.3 1680.3 744.6 1686.6C739.9 1692.9 732.0 1702.3 725.7 1708.6C719.4 1714.9 714.7 1720.6 706.9 1724.3C699.0 1728.0 685.9 1727.4 678.6 1730.6C671.2 1733.7 667.6 1737.9 662.9 1743.2C658.1 1748.4 652.4 1758.9 650.3 1762.0"/><path d="M1502.3 221.4C1500.2 225.1 1492.4 237.1 1489.7 244.0C1487.1 250.9 1486.1 256.6 1486.6 262.9C1487.1 269.1 1492.4 274.9 1492.9 281.7C1493.4 288.5 1490.3 300.1 1489.7 303.7"/></g><g stroke="#ffffff"><path d="M20.6 555.6 L26.2 554.1 L30.9 552.3 L35.8 556.1 L41.4 558.8 L47.8 562.8 L51.6 557.3 L57.6 556.1 L63.8 554.9 L68.7 550.1 L74.1 547.2 L84.4 543.3 L87.3 548.8 L91.7 552.9 L95.8 557.3 L100.4 560.9 L106.3 562.8 L110.1 566.7 L115.6 567.7 L120.8 570.8 L126.4 571.0 L132.7 569.9 L135.6 574.9 L141.2 576.1 L144.3 580.6 L149.5 584.2 L153.8 588.6 L155.3 595.3 L160.7 598.2 L166.2 600.6 L169.7 604.6 L172.4 609.9 L176.2 614.1 L181.3 618.1 L187.5 618.2 L192.8 620.0 L197.8 623.7 L199.4 630.0 L203.7 634.1 L206.0 640.1 L210.9 646.1 L217.5 642.5 L225.2 641.4 L228.0 646.9 L230.1 652.7 L231.8 657.5 L236.1 660.9 L240.3 664.4 L246.0 665.2 L249.6 669.9 L254.9 671.5 L259.9 674.3 L260.9 680.3 L264.6 685.0 L267.5 689.7 L271.5 693.0 L275.4 696.4 L281.0 697.2 L282.9 702.1 L288.6 705.2 L288.9 711.2 L291.6 716.5 L298.2 717.1 L301.8 722.6 L307.6 724.5 L312.3 728.3 L318.7 729.9 L323.7 737.5" stroke-width="6.0"/><path d="M543.7 221.4C547.4 223.6 561.0 229.8 565.7 234.6C570.5 239.4 571.5 244.0 572.0 250.3C572.6 256.6 569.9 266.8 568.9 272.3C567.8 277.8 567.8 280.1 565.7 283.3C563.6 286.4 558.4 288.0 556.3 291.1C554.2 294.3 555.8 301.6 553.2 302.1C550.6 302.7 543.7 291.7 540.6 294.3C537.5 296.9 537.5 314.2 534.3 317.9C531.2 321.5 526.5 314.5 521.7 316.3C517.0 318.1 506.5 325.2 506.0 328.9C505.5 332.5 519.1 334.1 518.6 338.3C518.1 342.5 507.9 351.4 502.9 354.0C497.9 356.6 489.8 350.9 488.7 354.0C487.7 357.2 498.4 367.1 496.6 372.9C494.8 378.6 479.8 382.8 477.7 388.6C475.6 394.3 485.1 402.2 484.0 407.4C483.0 412.7 473.0 415.8 471.5 420.0C469.9 424.2 475.1 428.9 474.6 432.6C474.1 436.2 475.1 436.8 468.3 442.0C461.5 447.2 444.2 458.3 433.7 464.0C423.3 469.8 411.7 471.3 405.4 476.6C399.2 481.8 398.6 491.3 396.0 495.4C393.4 499.6 388.2 498.6 389.7 501.7C391.3 504.9 406.2 510.1 405.4 514.3C404.7 518.5 387.6 521.1 385.0 526.9C382.4 532.6 392.1 541.8 389.7 548.9C387.4 555.9 374.3 564.1 370.9 569.3C367.5 574.5 367.5 576.4 369.3 580.3C371.1 584.2 382.4 589.7 381.9 592.9C381.4 596.0 367.5 596.5 366.2 599.2C364.9 601.8 373.0 604.4 374.0 608.6C375.1 612.8 372.2 617.0 372.4 624.3C372.7 631.6 377.9 646.8 375.6 652.6C373.2 658.4 360.7 651.0 358.3 658.9C355.9 666.7 362.5 693.5 361.4 699.7C360.4 706.0 356.2 694.0 352.0 696.6C347.8 699.2 338.4 709.2 336.3 715.5C334.2 721.7 341.5 730.6 339.4 734.3C337.3 738.0 327.9 735.4 323.7 737.5C319.5 739.5 320.1 743.2 314.3 746.9C308.5 750.6 292.3 755.3 289.2 759.5C286.0 763.6 296.5 768.9 295.4 772.0C294.4 775.2 287.1 774.6 282.9 778.3C278.7 782.0 272.9 790.4 270.3 794.0C267.7 797.6 267.7 799.0 267.2 800.0" stroke-width="5.5"/><path d="M1489.7 303.7C1491.0 303.2 1494.4 300.1 1497.6 300.6C1500.7 301.1 1505.7 304.8 1508.6 306.9C1511.5 309.0 1512.3 312.4 1514.9 313.1C1517.5 313.9 1520.9 310.3 1524.3 311.6C1527.7 312.9 1532.7 317.1 1535.3 321.0C1537.9 324.9 1538.7 334.6 1540.0 335.1C1541.3 335.7 1541.1 327.3 1543.2 324.1C1545.3 321.0 1550.5 319.7 1552.6 316.3C1554.7 312.9 1553.6 305.6 1555.7 303.7C1557.8 301.9 1562.8 304.8 1565.2 305.3C1567.5 305.8 1569.1 306.6 1569.9 306.9" stroke-width="5.5"/><path d="M1494.4 308.4C1493.9 311.1 1494.2 321.8 1491.3 324.1C1488.4 326.5 1480.6 321.3 1477.2 322.6C1473.8 323.9 1470.9 326.2 1470.9 332.0C1470.9 337.8 1473.8 348.8 1477.2 357.2C1480.6 365.5 1490.5 373.4 1491.3 382.3C1492.1 391.2 1483.2 402.2 1481.9 410.6C1480.6 419.0 1484.2 428.4 1483.4 432.6C1482.7 436.8 1480.3 435.2 1477.2 435.7C1474.0 436.2 1466.7 433.1 1464.6 435.7C1462.5 438.3 1463.3 445.2 1464.6 451.4C1465.9 457.7 1472.4 467.2 1472.4 473.4C1472.4 479.7 1463.3 482.9 1464.6 489.2C1465.9 495.4 1480.8 504.3 1480.3 511.2C1479.8 518.0 1463.3 524.3 1461.4 530.0C1459.6 535.8 1470.4 538.9 1469.3 545.7C1468.3 552.5 1457.8 564.1 1455.2 570.9C1452.5 577.7 1455.7 582.4 1453.6 586.6C1451.5 590.8 1447.0 591.3 1442.6 596.0C1438.1 600.7 1430.3 608.6 1426.9 614.9C1423.5 621.2 1422.2 627.4 1422.2 633.7C1422.2 640.0 1428.2 646.6 1426.9 652.6C1425.6 658.6 1418.0 668.0 1414.3 669.9C1410.6 671.7 1410.1 663.9 1404.9 663.6C1399.6 663.3 1387.6 665.4 1382.9 668.3C1378.2 671.2 1378.2 674.6 1376.6 680.9C1375.0 687.2 1377.6 701.3 1373.4 706.0C1369.3 710.7 1358.3 706.5 1351.4 709.2C1344.6 711.8 1337.8 718.1 1332.6 721.7C1327.3 725.4 1322.6 725.9 1320.0 731.2C1317.4 736.4 1320.0 747.9 1316.9 753.2C1313.7 758.4 1307.2 761.6 1301.2 762.6C1295.1 763.6 1286.5 759.2 1280.7 759.5C1275.0 759.7 1273.1 763.1 1266.6 764.2C1260.0 765.2 1248.8 762.9 1241.4 765.7C1234.1 768.6 1226.8 775.7 1222.6 781.5C1218.4 787.2 1217.3 796.9 1216.3 800.0" stroke-width="5.5"/><path d="M270.3 800.0C270.3 802.6 274.0 812.0 270.3 815.7C266.6 819.4 253.8 819.4 248.3 822.0C242.8 824.6 239.1 827.8 237.3 831.4C235.5 835.1 233.9 839.3 237.3 844.0C240.7 848.7 254.3 854.5 257.7 859.7C261.1 865.0 258.8 870.7 257.7 875.4C256.7 880.1 255.6 883.8 251.4 888.0C247.2 892.2 239.4 897.4 232.6 900.6C225.8 903.7 216.3 904.2 210.6 906.9C204.8 909.5 201.7 912.1 198.0 916.3C194.3 920.5 192.2 927.8 188.6 932.0C184.9 936.2 178.9 937.8 176.0 941.4C173.1 945.1 171.6 948.2 171.3 954.0C171.0 959.8 174.4 970.2 174.4 976.0C174.4 981.8 168.9 983.9 171.3 988.6C173.7 993.3 184.7 999.1 188.6 1004.3C192.5 1009.5 193.6 1012.7 194.9 1020.0C196.2 1027.3 198.0 1038.9 196.4 1048.3C194.9 1057.7 187.3 1067.7 185.4 1076.6C183.6 1085.5 184.7 1095.4 185.4 1101.7C186.2 1108.0 190.7 1109.1 190.2 1114.3C189.6 1119.5 183.9 1128.4 182.3 1133.2C180.7 1137.9 184.4 1137.3 180.7 1142.6C177.1 1147.8 165.3 1159.9 160.3 1164.6C155.3 1169.3 154.5 1169.8 150.9 1170.9C147.2 1171.9 143.5 1171.4 138.3 1170.9C133.1 1170.4 123.6 1166.7 119.4 1167.7C115.2 1168.8 114.5 1172.4 113.1 1177.2C111.8 1181.9 112.6 1191.3 111.6 1196.0C110.5 1200.7 107.1 1198.1 106.9 1205.4C106.6 1212.8 108.2 1233.2 110.0 1240.0C111.8 1246.8 116.6 1242.1 117.9 1246.3C119.2 1250.5 118.4 1260.5 117.9 1265.2C117.3 1269.9 113.4 1269.9 114.7 1274.6C116.0 1279.3 124.1 1288.7 125.7 1293.5C127.3 1298.2 126.0 1298.7 124.1 1302.9C122.3 1307.1 116.8 1313.4 114.7 1318.6C112.6 1323.8 112.1 1329.6 111.6 1334.3C111.1 1339.0 110.3 1343.7 111.6 1346.9C112.9 1350.0 119.4 1350.0 119.4 1353.2C119.4 1356.3 113.7 1361.0 111.6 1365.7C109.5 1370.5 109.7 1375.7 106.9 1381.5C104.0 1387.2 96.4 1396.9 94.3 1400.0" stroke-width="5.5"/><path d="M251.4 888.0C255.1 887.0 267.2 884.1 273.4 881.7C279.7 879.4 282.3 874.9 289.2 873.9C296.0 872.8 307.5 874.9 314.3 875.4C321.1 876.0 322.2 878.3 330.0 877.0C337.9 875.7 351.0 868.6 361.4 867.6C371.9 866.5 382.4 871.0 392.9 870.7C403.4 870.5 413.8 866.3 424.3 866.0C434.8 865.7 445.8 867.1 455.7 869.1C465.7 871.2 476.2 874.9 484.0 878.6C491.9 882.2 495.5 889.3 502.9 891.1C510.2 893.0 520.2 887.5 528.0 889.6C535.9 891.7 542.2 898.7 550.0 903.7C557.9 908.7 566.8 916.3 575.2 919.4C583.5 922.6 595.9 922.1 600.0 922.6" stroke-width="7.0"/><path d="M20.4 1127.5C46.1 1126.9 149.3 1121.7 174.4 1123.7C199.6 1125.7 170.2 1136.3 171.3 1139.4C172.3 1142.6 179.2 1142.1 180.7 1142.6" stroke-width="5.5"/><path d="M600.0 917.9C603.1 917.6 611.5 916.3 618.9 916.3C626.2 916.3 636.7 915.8 644.0 917.9C651.3 920.0 656.6 925.2 662.9 928.9C669.1 932.5 673.9 937.2 681.7 939.9C689.6 942.5 701.6 944.6 710.0 944.6C718.4 944.6 725.7 941.7 732.0 939.9C738.3 938.0 742.5 936.5 747.7 933.6C753.0 930.7 758.2 924.7 763.4 922.6C768.7 920.5 774.4 920.0 779.2 921.0C783.9 922.1 787.0 925.2 791.7 928.9C796.4 932.5 801.7 939.3 807.4 943.0C813.2 946.7 821.8 948.5 826.3 950.9C830.7 953.2 832.8 956.1 834.2 957.2" stroke-width="7.0"/><path d="M747.7 935.1C749.3 938.3 753.5 948.8 757.2 954.0C760.8 959.2 764.5 961.9 769.7 966.6C775.0 971.3 782.8 980.7 788.6 982.3C794.3 983.9 799.1 977.8 804.3 976.0C809.5 974.2 815.3 973.4 820.0 971.3C824.7 969.2 830.2 966.3 832.6 963.4C834.9 960.6 833.9 955.6 834.2 954.0" stroke-width="5.5"/><path d="M834.2 957.2C836.0 959.2 846.5 965.3 845.2 969.7C843.8 974.2 833.1 982.0 826.3 983.9C819.5 985.7 808.0 981.2 804.3 980.7" stroke-width="5.5"/><path d="M834.2 954.0C833.9 951.4 831.8 942.0 832.6 938.3C833.4 934.6 833.1 934.1 838.9 932.0C844.6 929.9 860.9 926.2 867.2 925.7C873.4 925.2 872.9 926.2 876.6 928.9C880.3 931.5 885.0 935.7 889.2 941.4C893.3 947.2 897.0 956.9 901.7 963.4C906.4 970.0 912.2 977.1 917.4 980.7C922.7 984.4 929.0 985.4 933.2 985.4C937.3 985.4 940.5 984.4 942.6 980.7C944.7 977.1 942.6 973.1 945.7 963.4C948.9 953.7 958.3 931.2 961.4 922.6C964.6 913.9 960.4 915.2 964.6 911.6C968.8 907.9 978.7 905.3 986.6 900.6C994.4 895.9 1003.9 886.2 1011.7 883.3C1019.6 880.4 1028.5 881.5 1033.7 883.3C1039.0 885.1 1040.0 892.5 1043.2 894.3C1046.3 896.1 1047.4 894.8 1052.6 894.3C1057.8 893.8 1069.4 890.1 1074.6 891.1C1079.8 892.2 1079.3 896.4 1084.0 900.6C1088.7 904.8 1097.6 912.1 1102.9 916.3C1108.1 920.5 1110.7 923.9 1115.5 925.7C1120.2 927.6 1125.9 929.4 1131.2 927.3C1136.4 925.2 1141.1 917.6 1146.9 913.1C1152.6 908.7 1160.0 903.7 1165.7 900.6C1171.5 897.4 1175.7 897.4 1181.5 894.3C1187.2 891.1 1196.9 883.8 1200.0 881.7" stroke-width="5.5"/><path d="M1041.2 894.3 L1040.9 899.5 L1038.8 904.8 L1040.8 910.3 L1037.8 913.7 L1035.8 917.4 L1034.2 921.4 L1034.1 925.6 L1035.4 930.0 L1036.2 934.5 L1036.8 939.1 L1039.7 943.0 L1039.5 948.1 L1041.5 951.6 L1043.6 955.2 L1047.6 957.6 L1047.7 962.4 L1051.8 964.7 L1053.4 968.5 L1055.0 972.4 L1056.5 976.3 L1060.0 979.1 L1060.8 983.4 L1063.9 986.3 L1066.5 989.5 L1068.7 993.0 L1071.2 996.4 L1073.6 999.7 L1075.6 1003.3 L1076.6 1007.6 L1078.1 1011.5 L1082.1 1013.9 L1084.5 1017.2 L1084.6 1022.0 L1087.8 1024.9 L1090.3 1028.2 L1092.8 1031.5 L1094.2 1035.5 L1095.9 1039.3 L1099.8 1043.5 L1103.1 1048.3 L1103.0 1052.8 L1099.7 1056.4 L1100.9 1060.7 L1100.3 1065.1 L1099.9 1069.4 L1102.3 1073.3 L1101.2 1077.7 L1101.2 1082.0 L1102.6 1086.1 L1103.4 1090.6 L1106.4 1094.5 L1106.8 1099.2 L1108.8 1103.4 L1108.4 1108.5 L1111.9 1111.3 L1113.8 1115.1 L1114.8 1119.5 L1117.4 1122.9 L1119.3 1126.6 L1122.7 1129.5 L1124.9 1133.1 L1127.6 1136.3 L1131.2 1138.5 L1134.7 1140.8 L1137.6 1143.7 L1141.2 1145.9 L1143.9 1149.1 L1146.1 1153.0 L1149.3 1155.5 L1153.0 1157.3 L1156.3 1159.6 L1159.7 1161.7 L1162.4 1163.5 L1167.2 1163.2 L1171.4 1163.4 L1173.3 1167.2 L1176.5 1170.2 L1178.0 1174.7 L1185.2 1177.6 L1187.6 1174.3 L1190.1 1171.1 L1192.8 1168.2 L1194.6 1164.4 L1197.8 1161.8 L1200.0 1158.3" stroke-width="5.5"/><path d="M1162.6 1164.6C1162.1 1167.2 1166.3 1175.1 1159.5 1180.3C1152.6 1185.5 1129.1 1191.3 1121.7 1196.0C1114.4 1200.7 1113.4 1203.4 1115.5 1208.6C1117.5 1213.8 1129.6 1222.2 1134.3 1227.4C1139.0 1232.7 1141.6 1235.3 1143.7 1240.0C1145.8 1244.7 1147.4 1251.5 1146.9 1255.7C1146.4 1259.9 1142.7 1266.7 1140.6 1265.2C1138.5 1263.6 1138.5 1250.5 1134.3 1246.3C1130.1 1242.1 1123.8 1241.1 1115.5 1240.0C1107.1 1239.0 1090.3 1237.9 1084.0 1240.0C1077.7 1242.1 1078.3 1245.3 1077.7 1252.6C1077.2 1259.9 1082.5 1277.7 1080.9 1284.0C1079.3 1290.3 1074.1 1288.7 1068.3 1290.3C1062.5 1291.9 1051.0 1290.8 1046.3 1293.5C1041.6 1296.1 1039.5 1301.8 1040.0 1306.0C1040.5 1310.2 1050.5 1314.4 1049.4 1318.6C1048.4 1322.8 1039.5 1325.9 1033.7 1331.2C1028.0 1336.4 1021.7 1343.2 1014.9 1350.0C1008.1 1356.8 1000.2 1367.3 992.9 1372.0C985.5 1376.7 977.2 1375.7 970.9 1378.3C964.6 1380.9 957.8 1384.1 955.2 1387.7C952.5 1391.4 955.2 1398.0 955.2 1400.0" stroke-width="5.5"/><path d="M1200.0 812.6C1197.4 813.1 1187.2 812.6 1184.6 815.7C1182.0 818.9 1186.7 826.7 1184.6 831.4C1182.5 836.1 1173.1 839.3 1172.0 844.0C1171.0 848.7 1174.6 856.1 1178.3 859.7C1182.0 863.4 1191.4 865.0 1194.0 866.0" stroke-width="5.5"/><path d="M1219.4 800.0C1219.7 802.4 1225.7 812.0 1221.0 814.1C1216.3 816.2 1197.4 811.5 1191.1 812.6C1184.9 813.6 1184.6 817.3 1183.3 820.4C1182.0 823.6 1185.1 829.3 1183.3 831.4C1181.5 833.5 1174.6 830.4 1172.3 833.0C1169.9 835.6 1168.1 842.4 1169.1 847.1C1170.2 851.9 1175.4 857.1 1178.6 861.3C1181.7 865.5 1187.5 868.4 1188.0 872.3C1188.5 876.2 1187.5 879.6 1181.7 884.9C1176.0 890.1 1160.8 898.0 1153.4 903.7C1146.1 909.5 1142.4 915.2 1137.7 919.4C1133.0 923.6 1129.9 927.8 1125.1 928.9C1120.4 929.9 1113.6 927.3 1109.4 925.7C1105.2 924.1 1101.6 920.5 1100.0 919.4" stroke-width="5.5"/><path d="M1162.9 1167.7C1164.4 1166.7 1169.1 1160.1 1172.3 1161.4C1175.4 1162.8 1178.1 1176.1 1181.7 1175.6C1185.4 1175.1 1190.6 1162.8 1194.3 1158.3C1198.0 1153.9 1200.1 1149.4 1203.7 1148.9C1207.4 1148.3 1211.1 1157.8 1216.3 1155.2C1221.5 1152.5 1231.5 1140.0 1235.1 1133.2C1238.8 1126.3 1235.7 1118.0 1238.3 1114.3C1240.9 1110.6 1248.2 1114.3 1250.9 1111.2C1253.5 1108.0 1250.9 1098.1 1254.0 1095.4C1257.2 1092.8 1264.0 1098.6 1269.7 1095.4C1275.5 1092.3 1281.8 1078.7 1288.6 1076.6C1295.4 1074.5 1305.9 1083.4 1310.6 1082.9C1315.3 1082.3 1311.4 1075.5 1316.9 1073.4C1322.4 1071.3 1341.0 1073.4 1343.6 1070.3C1346.2 1067.2 1332.8 1058.8 1332.6 1054.6C1332.3 1050.4 1337.3 1046.2 1342.0 1045.2C1346.7 1044.1 1354.1 1050.9 1360.9 1048.3C1367.7 1045.7 1378.7 1037.8 1382.9 1029.4C1387.1 1021.1 1382.9 1005.3 1386.0 998.0C1389.2 990.7 1397.0 991.2 1401.7 985.4C1406.4 979.7 1411.2 964.5 1414.3 963.4C1417.4 962.4 1416.9 977.1 1420.6 979.2C1424.3 981.2 1430.5 976.0 1436.3 976.0C1442.1 976.0 1451.5 982.3 1455.2 979.2C1458.8 976.0 1456.2 959.2 1458.3 957.2C1460.4 955.1 1464.1 969.2 1467.7 966.6C1471.4 964.0 1476.6 946.1 1480.3 941.4C1484.0 936.7 1486.6 936.2 1489.7 938.3C1492.9 940.4 1496.0 952.4 1499.2 954.0C1502.3 955.6 1504.4 949.8 1508.6 947.7C1512.8 945.6 1521.9 944.6 1524.3 941.4C1526.7 938.3 1520.6 932.0 1522.7 928.9C1524.8 925.7 1532.4 920.5 1536.9 922.6C1541.3 924.7 1546.3 938.8 1549.4 941.4C1552.6 944.1 1554.2 941.4 1555.7 938.3C1557.3 935.1 1556.5 924.4 1558.9 922.6C1561.2 920.7 1568.0 926.5 1569.9 927.3" stroke-width="5.5"/><path d="M1162.9 1167.7C1162.3 1170.4 1165.0 1178.7 1159.7 1183.4C1154.5 1188.2 1138.8 1191.8 1131.4 1196.0C1124.1 1200.2 1117.8 1204.9 1115.7 1208.6C1113.6 1212.3 1113.6 1214.4 1118.9 1218.0C1124.1 1221.7 1143.0 1225.4 1147.1 1230.6C1151.3 1235.8 1145.6 1243.7 1144.0 1249.4C1142.4 1255.2 1139.3 1264.6 1137.7 1265.2C1136.1 1265.7 1138.2 1256.3 1134.6 1252.6C1130.9 1248.9 1121.5 1245.3 1115.7 1243.2C1110.0 1241.1 1102.6 1240.5 1100.0 1240.0" stroke-width="5.5"/><path d="M121.0 1301.6C119.4 1304.5 113.4 1312.8 111.6 1318.9C109.7 1324.9 108.7 1332.5 110.0 1337.7C111.3 1343.0 120.0 1343.0 119.4 1350.3C118.9 1357.6 111.1 1373.3 106.9 1381.7C102.7 1390.1 96.1 1393.2 94.3 1400.6C92.5 1407.9 96.9 1417.9 95.9 1425.7C94.8 1433.6 90.4 1442.0 88.0 1447.7C85.6 1453.5 82.2 1455.1 81.7 1460.3C81.2 1465.5 87.5 1472.9 84.9 1479.2C82.2 1485.4 72.8 1493.3 66.0 1498.0C59.2 1502.7 49.2 1503.8 44.0 1507.4C38.8 1511.1 37.7 1514.8 34.6 1520.0C31.4 1525.2 27.2 1534.7 25.1 1538.9C23.0 1543.1 22.5 1544.1 22.0 1545.2" stroke-width="5.5"/><path d="M1040.0 1300.0C1041.1 1302.6 1047.4 1310.5 1046.3 1315.7C1045.3 1321.0 1039.0 1326.2 1033.7 1331.4C1028.5 1336.7 1020.1 1341.9 1014.9 1347.1C1009.6 1352.4 1006.5 1357.1 1002.3 1362.9C998.1 1368.6 996.0 1377.5 989.7 1381.7C983.4 1385.9 969.8 1384.9 964.6 1388.0C959.4 1391.1 959.4 1394.8 958.3 1400.6C957.3 1406.3 960.4 1416.8 958.3 1422.6C956.2 1428.3 951.0 1431.0 945.7 1435.1C940.5 1439.3 930.5 1443.5 926.9 1447.7C923.2 1451.9 924.3 1454.5 923.7 1460.3C923.2 1466.1 925.3 1477.6 923.7 1482.3C922.2 1487.0 919.5 1486.5 914.3 1488.6C909.1 1490.7 899.1 1492.8 892.3 1494.9C885.5 1497.0 877.6 1498.5 873.4 1501.2C869.3 1503.8 870.8 1505.9 867.2 1510.6C863.5 1515.3 854.1 1523.2 851.4 1529.4C848.8 1535.7 854.6 1539.4 851.4 1548.3C848.3 1557.2 838.3 1576.1 832.6 1582.9C826.8 1589.7 820.0 1586.0 816.9 1589.2C813.7 1592.3 814.8 1597.5 813.7 1601.7C812.7 1605.9 812.7 1610.6 810.6 1614.3C808.5 1618.0 806.4 1619.5 801.2 1623.7C795.9 1627.9 786.0 1633.7 779.2 1639.4C772.3 1645.2 764.5 1653.1 760.3 1658.3C756.1 1663.5 756.6 1666.2 754.0 1670.9C751.4 1675.6 749.3 1680.3 744.6 1686.6C739.9 1692.9 732.0 1702.3 725.7 1708.6C719.4 1714.9 714.7 1720.6 706.9 1724.3C699.0 1728.0 685.9 1727.4 678.6 1730.6C671.2 1733.7 667.6 1737.9 662.9 1743.2C658.1 1748.4 652.4 1758.9 650.3 1762.0" stroke-width="5.5"/></g></g>
<circle cx="795" cy="988" r="743.5" fill="none" stroke="#fff" stroke-width="2.5"/>
<g fill="#fff"><circle cx="95.2" cy="349.3" r="7"/><circle cx="699.6" cy="305.9" r="7"/><circle cx="914.3" cy="357.8" r="7"/><circle cx="480.9" cy="442" r="7"/><circle cx="674.5" cy="425.3" r="7"/><circle cx="388.2" cy="498.6" r="7"/><circle cx="1305.2" cy="429.4" r="7"/><circle cx="1497.6" cy="308.4" r="7"/><circle cx="1481.9" cy="578.1" r="7"/><circle cx="1281.3" cy="618" r="7"/><circle cx="709.4" cy="575.3" r="7"/><circle cx="702.1" cy="665.5" r="7"/><circle cx="738.3" cy="739.6" r="7"/><circle cx="356.1" cy="773.6" r="7"/><circle cx="461.1" cy="826.7" r="7"/><circle cx="1195.2" cy="865.1" r="7"/><circle cx="1084" cy="903.7" r="7"/><circle cx="186.1" cy="941.4" r="7"/><circle cx="1326.3" cy="945.2" r="7"/><circle cx="841" cy="967" r="7"/><circle cx="1125.8" cy="1091.7" r="7"/><circle cx="1312.8" cy="1082.9" r="7"/><circle cx="1518" cy="1080.4" r="7"/><circle cx="203.4" cy="1107.4" r="7"/><circle cx="477.1" cy="1254.2" r="7"/><circle cx="230.4" cy="1320.2" r="7"/><circle cx="694.3" cy="1304.5" r="7"/><circle cx="1035.3" cy="1309.2" r="7"/><circle cx="423.4" cy="1526.3" r="7"/></g><g fill="#fff" stroke="#fff" stroke-width="0.35" font-family="Liberation Mono, monospace" font-size="33"><text transform="translate(104.4 338.9) scale(0.92 1)">PIRANE</text><text transform="translate(708.5 295.9) scale(0.92 1)">PARAGUARÍ</text><text transform="translate(923.8 347.7) scale(0.92 1)">VILLARRICA</text><text transform="translate(488.8 432.6) scale(0.92 1)">VA. OLIVA</text><text transform="translate(684.0 415.9) scale(0.92 1)">QUIINDY</text><text transform="translate(397.7 488.5) scale(0.92 1)">FORMOSA</text><text transform="translate(1314.7 419.4) scale(0.92 1)">NARANJAL</text><text transform="translate(1509.6 297.4) scale(0.92 1)">PUERTO</text><text transform="translate(1491.4 567.1) scale(0.92 1)">ELDORADO</text><text transform="translate(1289.3 607.6) scale(0.92 1)">MARÍA AUXILIADORA</text><text transform="translate(717.9 566.2) scale(0.92 1)">VA. FLORIDA</text><text transform="translate(710.7 654.8) scale(0.92 1)">SAN JUAN BAUTISTA</text><text transform="translate(746.8 729.0) scale(0.92 1)">SAN IGNACIO</text><text transform="translate(365.6 764.2) scale(0.92 1)">ISLA UMBÚ</text><text transform="translate(470.5 815.7) scale(0.92 1)">VILLALBÍN</text><text transform="translate(1204.7 855.0) scale(0.92 1)">SAN IGNACIO</text><text transform="translate(1093.5 892.7) scale(0.92 1)">POSADAS</text><text transform="translate(194.9 930.4) scale(0.92 1)">CORRIENTES</text><text transform="translate(1335.8 935.1) scale(0.92 1)">OBERÁ</text><text transform="translate(849.9 957.1) scale(0.92 1)">ITUZAINGÓ</text><text transform="translate(1134.4 1080.7) scale(0.92 1)">APÓSTOLES</text><text transform="translate(1321.7 1071.9) scale(0.92 1)">SAN JAVIER</text><text transform="translate(1527.5 1070.3) scale(0.92 1)">SAN JAVIER</text><text transform="translate(211.6 1097.0) scale(0.92 1)">EMPEDRADO</text><text transform="translate(485.7 1243.2) scale(0.92 1)">CONCEPCIÓN</text><text transform="translate(238.9 1310.7) scale(0.92 1)">SAN ROQUE</text><text transform="translate(703.2 1292.8) scale(0.92 1)">COL. C. PELLEGRINI</text><text transform="translate(1044.8 1299.1) scale(0.92 1)">SANTO TOMÉ</text><text transform="translate(432.2 1515.3) scale(0.92 1)">MERCEDES</text></g>
<rect x="25.8" y="1652.8" width="333.4" height="102.2" fill="#5a5a5a" fill-opacity="0.93" stroke="#676767" stroke-width="2.5"/><rect x="40.1" y="1668.2" width="303" height="71.5" fill="none" stroke="#ffa500" stroke-width="6.4"/><g fill="#fff" font-family="Liberation Mono, monospace" font-size="25.5"><text transform="translate(50.5 1698) scale(0.878 1)">Avisos Meteorológicos</text><text transform="translate(50.5 1724.4) scale(0.878 1)">a Muy Corto Plazo</text></g>
</g>
<rect x="20" y="219" width="1549" height="1540" fill="none" stroke="#000" stroke-width="2.4"/>
<!-- side panel -->
<rect x="1569.5" y="219.8" width="151" height="1539" fill="#1b1b1b" stroke="#000" stroke-width="2.2"/>
<g clip-path="url(#sideclip)">
<rect x="1572" y="855" width="14" height="3" fill="#3d63a0"/><rect x="1572" y="858" width="14" height="3" fill="#3d63a0"/><rect x="1572" y="861" width="17" height="3" fill="#3d63a0"/><rect x="1572" y="864" width="14" height="3" fill="#3d63a0"/><rect x="1572" y="867" width="14" height="3" fill="#3d63a0"/><rect x="1572" y="870" width="15" height="3" fill="#3d63a0"/><rect x="1572" y="873" width="25" height="3" fill="#3d63a0"/><rect x="1572" y="876" width="34" height="3" fill="#3d63a0"/><rect x="1572" y="879" width="37" height="3" fill="#3d63a0"/><rect x="1572" y="882" width="41" height="3" fill="#3d63a0"/><rect x="1572" y="885" width="23" height="3" fill="#3d63a0"/><rect x="1572" y="888" width="28" height="3" fill="#3d63a0"/><rect x="1572" y="891" width="22" height="3" fill="#3d63a0"/><rect x="1572" y="894" width="42" height="3" fill="#3d63a0"/><rect x="1572" y="897" width="39" height="3" fill="#3d63a0"/><rect x="1572" y="900" width="21" height="3" fill="#3d63a0"/><rect x="1572" y="903" width="47" height="3" fill="#3d63a0"/><rect x="1572" y="906" width="46" height="3" fill="#3d63a0"/><rect x="1572" y="909" width="38" height="3" fill="#3d63a0"/><rect x="1572" y="912" width="37" height="3" fill="#3d63a0"/><rect x="1572" y="915" width="24" height="3" fill="#3d63a0"/><rect x="1572" y="918" width="20" height="3" fill="#3d63a0"/><rect x="1572" y="921" width="34" height="3" fill="#3d63a0"/><rect x="1572" y="924" width="22" height="3" fill="#3d63a0"/><rect x="1572" y="927" width="25" height="3" fill="#3d63a0"/><rect x="1572" y="930" width="27" height="3" fill="#3d63a0"/><rect x="1572" y="933" width="21" height="3" fill="#3d63a0"/><rect x="1572" y="936" width="33" height="3" fill="#3d63a0"/><rect x="1572" y="939" width="32" height="3" fill="#3d63a0"/><rect x="1572" y="942" width="43" height="3" fill="#3d63a0"/><rect x="1572" y="945" width="34" height="3" fill="#3d63a0"/><rect x="1572" y="948" width="37" height="3" fill="#3d63a0"/><rect x="1572" y="951" width="33" height="3" fill="#3d63a0"/><rect x="1572" y="954" width="38" height="3" fill="#3d63a0"/><rect x="1572" y="957" width="32" height="3" fill="#3d63a0"/><rect x="1572" y="960" width="28" height="3" fill="#3d63a0"/><rect x="1572" y="963" width="47" height="3" fill="#3d63a0"/><rect x="1572" y="966" width="47" height="3" fill="#3d63a0"/><rect x="1572" y="969" width="43" height="3" fill="#3d63a0"/><rect x="1572" y="972" width="39" height="3" fill="#3d63a0"/><rect x="1572" y="975" width="29" height="3" fill="#3d63a0"/><rect x="1572" y="978" width="26" height="3" fill="#3d63a0"/><rect x="1572" y="981" width="28" height="3" fill="#3d63a0"/><rect x="1572" y="984" width="22" height="3" fill="#3d63a0"/><rect x="1572" y="987" width="41" height="3" fill="#3d63a0"/><rect x="1572" y="990" width="31" height="3" fill="#3d63a0"/><rect x="1572" y="993" width="43" height="3" fill="#3d63a0"/><rect x="1572" y="996" width="30" height="3" fill="#3d63a0"/><rect x="1572" y="999" width="46" height="3" fill="#3d63a0"/><rect x="1572" y="1002" width="36" height="3" fill="#3d63a0"/><rect x="1572" y="1005" width="16" height="3" fill="#3d63a0"/><rect x="1572" y="1008" width="21" height="3" fill="#3d63a0"/><rect x="1572" y="1011" width="38" height="3" fill="#3d63a0"/><rect x="1572" y="1014" width="27" height="3" fill="#3d63a0"/><rect x="1572" y="1017" width="40" height="3" fill="#3d63a0"/><rect x="1572" y="1020" width="26" height="3" fill="#3d63a0"/><rect x="1572" y="1023" width="18" height="3" fill="#3d63a0"/><rect x="1572" y="1026" width="31" height="3" fill="#3d63a0"/><rect x="1572" y="1029" width="35" height="3" fill="#3d63a0"/><rect x="1572" y="1032" width="22" height="3" fill="#3d63a0"/><rect x="1572" y="1035" width="18" height="3" fill="#3d63a0"/><rect x="1572" y="1038" width="24" height="3" fill="#3d63a0"/><rect x="1572" y="1041" width="39" height="3" fill="#3d63a0"/><rect x="1572" y="1044" width="34" height="3" fill="#3d63a0"/><rect x="1572" y="1047" width="19" height="3" fill="#3d63a0"/><rect x="1572" y="1050" width="22" height="3" fill="#3d63a0"/><rect x="1572" y="1053" width="18" height="3" fill="#3d63a0"/><rect x="1572" y="1056" width="17" height="3" fill="#3d63a0"/><rect x="1572" y="1059" width="35" height="3" fill="#3d63a0"/><rect x="1572" y="1062" width="20" height="3" fill="#3d63a0"/><rect x="1572" y="1065" width="29" height="3" fill="#3d63a0"/><rect x="1572" y="1068" width="27" height="3" fill="#3d63a0"/><rect x="1572" y="1071" width="21" height="3" fill="#3d63a0"/><rect x="1572" y="1074" width="34" height="3" fill="#3d63a0"/><rect x="1572" y="1077" width="19" height="3" fill="#3d63a0"/><rect x="1572" y="1080" width="31" height="3" fill="#3d63a0"/><rect x="1572" y="1083" width="19" height="3" fill="#3d63a0"/><rect x="1572" y="1086" width="26" height="3" fill="#3d63a0"/><rect x="1572" y="1089" width="21" height="3" fill="#3d63a0"/><rect x="1572" y="1092" width="22" height="3" fill="#3d63a0"/><rect x="1572" y="1095" width="39" height="3" fill="#3d63a0"/><rect x="1572" y="1098" width="35" height="3" fill="#3d63a0"/><rect x="1572" y="1101" width="23" height="3" fill="#3d63a0"/><rect x="1572" y="1104" width="37" height="3" fill="#3d63a0"/><rect x="1572" y="1107" width="21" height="3" fill="#3d63a0"/><rect x="1572" y="1110" width="14" height="3" fill="#3d63a0"/><rect x="1572" y="1113" width="19" height="3" fill="#3d63a0"/><rect x="1572" y="1116" width="16" height="3" fill="#3d63a0"/><rect x="1572" y="1119" width="11" height="3" fill="#3d63a0"/><rect x="1572" y="1122" width="20" height="3" fill="#3d63a0"/><rect x="1572" y="1125" width="12" height="3" fill="#3d63a0"/><rect x="1572" y="1128" width="13" height="3" fill="#3d63a0"/><rect x="1572" y="1131" width="18" height="3" fill="#3d63a0"/><rect x="1572" y="1134" width="13" height="3" fill="#3d63a0"/><rect x="1572" y="1137" width="13" height="3" fill="#3d63a0"/><rect x="1572" y="1140" width="11" height="3" fill="#3d63a0"/><rect x="1572" y="1143" width="11" height="3" fill="#3d63a0"/><rect x="1572" y="1146" width="16" height="3" fill="#3d63a0"/><rect x="1572" y="1149" width="12" height="3" fill="#3d63a0"/><rect x="1572" y="1152" width="16" height="3" fill="#3d63a0"/><rect x="1572" y="1155" width="14" height="3" fill="#3d63a0"/><rect x="1572" y="1158" width="15" height="3" fill="#3d63a0"/><rect x="1572" y="1161" width="20" height="3" fill="#3d63a0"/><rect x="1572" y="1164" width="15" height="3" fill="#3d63a0"/><rect x="1572" y="1167" width="16" height="3" fill="#3d63a0"/><rect x="1572" y="1170" width="19" height="3" fill="#3d63a0"/><rect x="1572" y="1173" width="12" height="3" fill="#3d63a0"/><rect x="1572" y="1176" width="12" height="3" fill="#3d63a0"/><rect x="1572" y="856" width="14" height="322" fill="#3a70aa"/><rect x="1572" y="900" width="8" height="150" fill="#3388c4" fill-opacity="0.8"/><rect x="1613" y="1143" width="3" height="3" fill="#1b1b1b"/><rect x="1593" y="1088" width="5" height="3" fill="#1b1b1b"/><rect x="1594" y="1152" width="4" height="3" fill="#1b1b1b"/><rect x="1606" y="1135" width="4" height="3" fill="#1b1b1b"/><rect x="1591" y="884" width="5" height="3" fill="#1b1b1b"/><rect x="1595" y="1159" width="5" height="3" fill="#1b1b1b"/><rect x="1601" y="987" width="5" height="3" fill="#1b1b1b"/><rect x="1604" y="1017" width="5" height="3" fill="#1b1b1b"/><rect x="1592" y="1163" width="4" height="3" fill="#1b1b1b"/><rect x="1614" y="1038" width="5" height="3" fill="#1b1b1b"/><rect x="1594" y="892" width="3" height="3" fill="#1b1b1b"/><rect x="1590" y="1095" width="4" height="3" fill="#1b1b1b"/><rect x="1590" y="1004" width="3" height="3" fill="#1b1b1b"/><rect x="1604" y="955" width="3" height="3" fill="#1b1b1b"/><rect x="1592" y="898" width="4" height="3" fill="#1b1b1b"/><rect x="1608" y="1164" width="5" height="3" fill="#1b1b1b"/><rect x="1616" y="1027" width="5" height="3" fill="#1b1b1b"/><rect x="1589" y="881" width="4" height="3" fill="#1b1b1b"/><rect x="1617" y="1080" width="3" height="3" fill="#1b1b1b"/><rect x="1590" y="1050" width="3" height="3" fill="#1b1b1b"/><rect x="1598" y="1089" width="3" height="3" fill="#1b1b1b"/><rect x="1604" y="893" width="5" height="3" fill="#1b1b1b"/><rect x="1616" y="883" width="5" height="3" fill="#1b1b1b"/><rect x="1612" y="1081" width="4" height="3" fill="#1b1b1b"/><rect x="1609" y="976" width="3" height="3" fill="#1b1b1b"/><rect x="1601" y="1131" width="3" height="3" fill="#1b1b1b"/><rect x="1605" y="1129" width="5" height="3" fill="#1b1b1b"/><rect x="1599" y="1069" width="3" height="3" fill="#1b1b1b"/><rect x="1590" y="1053" width="5" height="3" fill="#1b1b1b"/><rect x="1596" y="905" width="4" height="3" fill="#1b1b1b"/><rect x="1600" y="1088" width="5" height="3" fill="#1b1b1b"/><rect x="1602" y="1078" width="4" height="3" fill="#1b1b1b"/><rect x="1591" y="1122" width="5" height="3" fill="#1b1b1b"/><rect x="1606" y="879" width="4" height="3" fill="#1b1b1b"/><rect x="1617" y="877" width="3" height="3" fill="#1b1b1b"/><rect x="1606" y="1019" width="4" height="3" fill="#1b1b1b"/><rect x="1588" y="947" width="4" height="3" fill="#1b1b1b"/><rect x="1606" y="913" width="5" height="3" fill="#1b1b1b"/><rect x="1615" y="921" width="5" height="3" fill="#1b1b1b"/><rect x="1603" y="1149" width="3" height="3" fill="#1b1b1b"/><rect x="1608" y="968" width="3" height="3" fill="#1b1b1b"/><rect x="1612" y="1060" width="3" height="3" fill="#1b1b1b"/><rect x="1600" y="1134" width="5" height="3" fill="#1b1b1b"/><rect x="1594" y="1146" width="3" height="3" fill="#1b1b1b"/><rect x="1613" y="1019" width="3" height="3" fill="#1b1b1b"/><rect x="1617" y="1083" width="4" height="3" fill="#1b1b1b"/><rect x="1591" y="1117" width="4" height="3" fill="#1b1b1b"/><rect x="1594" y="953" width="4" height="3" fill="#1b1b1b"/><rect x="1604" y="985" width="5" height="3" fill="#1b1b1b"/><rect x="1613" y="965" width="5" height="3" fill="#1b1b1b"/><rect x="1590" y="1006" width="3" height="3" fill="#1b1b1b"/><rect x="1606" y="953" width="5" height="3" fill="#1b1b1b"/><rect x="1605" y="1083" width="4" height="3" fill="#1b1b1b"/><rect x="1605" y="1065" width="5" height="3" fill="#1b1b1b"/><rect x="1602" y="911" width="3" height="3" fill="#1b1b1b"/><rect x="1596" y="1101" width="3" height="3" fill="#1b1b1b"/><rect x="1618" y="1109" width="3" height="3" fill="#1b1b1b"/><rect x="1607" y="1004" width="5" height="3" fill="#1b1b1b"/><rect x="1599" y="1062" width="3" height="3" fill="#1b1b1b"/><rect x="1594" y="1075" width="4" height="3" fill="#1b1b1b"/><rect x="1609" y="947" width="4" height="3" fill="#1b1b1b"/><rect x="1589" y="1030" width="3" height="3" fill="#1b1b1b"/><rect x="1598" y="952" width="5" height="3" fill="#1b1b1b"/><rect x="1603" y="1154" width="3" height="3" fill="#1b1b1b"/><rect x="1612" y="988" width="3" height="3" fill="#1b1b1b"/><rect x="1616" y="896" width="5" height="3" fill="#1b1b1b"/><rect x="1602" y="986" width="3" height="3" fill="#1b1b1b"/><rect x="1615" y="1058" width="4" height="3" fill="#1b1b1b"/><rect x="1608" y="1035" width="5" height="3" fill="#1b1b1b"/><rect x="1616" y="1109" width="4" height="3" fill="#1b1b1b"/><rect x="1617" y="968" width="3" height="3" fill="#1b1b1b"/><rect x="1613" y="1087" width="5" height="3" fill="#1b1b1b"/><rect x="1592" y="1147" width="3" height="3" fill="#1b1b1b"/><rect x="1617" y="1140" width="4" height="3" fill="#1b1b1b"/><rect x="1612" y="1031" width="4" height="3" fill="#1b1b1b"/><rect x="1610" y="949" width="3" height="3" fill="#1b1b1b"/><rect x="1590" y="975" width="4" height="3" fill="#1b1b1b"/><rect x="1601" y="973" width="4" height="3" fill="#1b1b1b"/><rect x="1589" y="1016" width="3" height="3" fill="#1b1b1b"/><rect x="1589" y="999" width="5" height="3" fill="#1b1b1b"/><rect x="1612" y="971" width="3" height="3" fill="#1b1b1b"/><rect x="1618" y="1011" width="5" height="3" fill="#1b1b1b"/><rect x="1608" y="1025" width="4" height="3" fill="#1b1b1b"/><rect x="1603" y="1154" width="5" height="3" fill="#1b1b1b"/><rect x="1595" y="896" width="5" height="3" fill="#1b1b1b"/><rect x="1613" y="1038" width="5" height="3" fill="#1b1b1b"/><rect x="1604" y="1062" width="5" height="3" fill="#1b1b1b"/><rect x="1608" y="947" width="5" height="3" fill="#1b1b1b"/><rect x="1614" y="932" width="5" height="3" fill="#1b1b1b"/><rect x="1605" y="1027" width="3" height="3" fill="#1b1b1b"/><rect x="1591" y="993" width="3" height="3" fill="#1b1b1b"/><rect x="1589" y="1052" width="3" height="3" fill="#1b1b1b"/><rect x="1600" y="1025" width="5" height="3" fill="#1b1b1b"/><rect x="1591" y="907" width="3" height="3" fill="#1b1b1b"/><rect x="1604" y="890" width="4" height="3" fill="#1b1b1b"/><rect x="1612" y="1146" width="4" height="3" fill="#1b1b1b"/><rect x="1602" y="951" width="3" height="3" fill="#1b1b1b"/><rect x="1615" y="972" width="4" height="3" fill="#1b1b1b"/><rect x="1591" y="1027" width="4" height="3" fill="#1b1b1b"/><rect x="1616" y="1055" width="3" height="3" fill="#1b1b1b"/><rect x="1617" y="1081" width="3" height="3" fill="#1b1b1b"/><rect x="1595" y="928" width="5" height="3" fill="#1b1b1b"/><rect x="1610" y="955" width="3" height="3" fill="#1b1b1b"/><rect x="1591" y="1056" width="5" height="3" fill="#1b1b1b"/><rect x="1614" y="1045" width="5" height="3" fill="#1b1b1b"/><rect x="1594" y="945" width="5" height="3" fill="#1b1b1b"/><rect x="1589" y="1134" width="5" height="3" fill="#1b1b1b"/><rect x="1604" y="994" width="3" height="3" fill="#1b1b1b"/><rect x="1614" y="1031" width="5" height="3" fill="#1b1b1b"/><rect x="1604" y="1062" width="5" height="3" fill="#1b1b1b"/><rect x="1614" y="1054" width="3" height="3" fill="#1b1b1b"/><rect x="1607" y="1144" width="4" height="3" fill="#1b1b1b"/><rect x="1597" y="1141" width="4" height="3" fill="#1b1b1b"/><rect x="1594" y="1137" width="3" height="3" fill="#1b1b1b"/><rect x="1592" y="1136" width="3" height="3" fill="#1b1b1b"/><rect x="1591" y="910" width="4" height="3" fill="#1b1b1b"/><rect x="1613" y="899" width="4" height="3" fill="#1b1b1b"/><rect x="1609" y="1033" width="3" height="3" fill="#1b1b1b"/><rect x="1609" y="991" width="3" height="3" fill="#1b1b1b"/><rect x="1605" y="899" width="4" height="3" fill="#1b1b1b"/><rect x="1617" y="1143" width="3" height="3" fill="#1b1b1b"/><rect x="1607" y="1081" width="4" height="3" fill="#1b1b1b"/><rect x="1609" y="1021" width="3" height="3" fill="#1b1b1b"/><rect x="1602" y="1111" width="3" height="3" fill="#1b1b1b"/><rect x="1605" y="881" width="5" height="3" fill="#1b1b1b"/><rect x="1602" y="1142" width="3" height="3" fill="#1b1b1b"/><rect x="1594" y="925" width="3" height="3" fill="#1b1b1b"/><rect x="1616" y="1167" width="3" height="3" fill="#1b1b1b"/><rect x="1592" y="1044" width="5" height="3" fill="#1b1b1b"/><rect x="1611" y="1009" width="4" height="3" fill="#1b1b1b"/><rect x="1601" y="987" width="4" height="3" fill="#1b1b1b"/><rect x="1606" y="999" width="3" height="3" fill="#1b1b1b"/><rect x="1589" y="1060" width="3" height="3" fill="#1b1b1b"/><rect x="1602" y="924" width="5" height="3" fill="#1b1b1b"/><rect x="1616" y="981" width="5" height="3" fill="#1b1b1b"/><rect x="1603" y="920" width="3" height="3" fill="#1b1b1b"/><rect x="1591" y="967" width="5" height="3" fill="#1b1b1b"/><rect x="1615" y="1133" width="4" height="3" fill="#1b1b1b"/><rect x="1594" y="1041" width="5" height="3" fill="#1b1b1b"/><rect x="1612" y="1165" width="4" height="3" fill="#1b1b1b"/><rect x="1591" y="954" width="5" height="3" fill="#1b1b1b"/><rect x="1612" y="1103" width="4" height="3" fill="#1b1b1b"/><rect x="1598" y="910" width="5" height="3" fill="#1b1b1b"/><rect x="1611" y="1078" width="3" height="3" fill="#1b1b1b"/><rect x="1610" y="992" width="3" height="3" fill="#1b1b1b"/><rect x="1597" y="1109" width="3" height="3" fill="#1b1b1b"/><rect x="1599" y="873" width="5" height="3" fill="#1b1b1b"/><rect x="1589" y="1141" width="4" height="3" fill="#1b1b1b"/><rect x="1608" y="1153" width="4" height="3" fill="#1b1b1b"/><rect x="1600" y="935" width="3" height="3" fill="#1b1b1b"/><rect x="1574" y="742" width="33" height="7" rx="3" fill="#3a6ea8"/><rect x="1575" y="773" width="11" height="4" fill="#3a6ea8"/><rect x="1573" y="824" width="16" height="8" rx="3" fill="#3a6ea8"/><rect x="1573" y="838" width="36" height="5" fill="#3a6ea8"/><ellipse cx="1680.5" cy="1065" rx="8.5" ry="6" fill="#2a9ed0"/><ellipse cx="1680.5" cy="1066" rx="8" ry="2.5" fill="#48c438"/><ellipse cx="1690" cy="1169" rx="7" ry="3" fill="#48c438"/><ellipse cx="1617" cy="1217.5" rx="7.5" ry="3.5" fill="#3185bd"/><ellipse cx="1669" cy="1272" rx="31" ry="7" fill="#2eafd8"/><ellipse cx="1655" cy="1275" rx="17" ry="6" fill="#55e83c"/><ellipse cx="1663" cy="1272" rx="13" ry="4.5" fill="#d6d835"/><ellipse cx="1689" cy="1286" rx="14" ry="6" fill="#48c438"/><ellipse cx="1637" cy="1300.5" rx="12" ry="5" fill="#3185bd"/><ellipse cx="1658" cy="1387" rx="15" ry="4.5" fill="#3185bd"/><ellipse cx="1679" cy="1469.7" rx="19" ry="7.5" fill="#2f8cc4"/><ellipse cx="1699" cy="1556" rx="19.5" ry="7" fill="#2a9ed0"/><ellipse cx="1647" cy="1586.5" rx="22.5" ry="7" fill="#55e83c"/><ellipse cx="1681" cy="1597" rx="31" ry="11" fill="#2a9ed0"/>
<line x1="1620.5" y1="221" x2="1620.5" y2="1758" stroke="#fff" stroke-width="1.5"/>
<line x1="1670.5" y1="221" x2="1670.5" y2="1758" stroke="#fff" stroke-width="1.5"/>
</g>
<g font-family="'Liberation Sans', sans-serif" font-size="23.5" fill="#fff">
<text transform="translate(1599 223.5) rotate(90) scale(1.07 1)" x="0" y="0">5 km</text>
<text transform="translate(1649 223.5) rotate(90) scale(1.07 1)" x="0" y="0">10 km</text>
<text transform="translate(1699 223.5) rotate(90) scale(1.07 1)" x="0" y="0">15 km</text>
</g>
<!-- colorbar -->
<rect x="1720.5" y="220" width="37" height="120.1" fill="#88dfbd"/>
<rect x="1720.5" y="339.5" width="37" height="49.0" fill="#95e2c4"/>
<rect x="1720.5" y="387.9" width="37" height="25.4" fill="#a7e8cf"/>
<rect x="1720.5" y="412.7" width="37" height="24.6" fill="#b7edd8"/>
<rect x="1720.5" y="436.7" width="37" height="25.0" fill="#c8f1e1"/>
<rect x="1720.5" y="461.1" width="37" height="24.6" fill="#ddf5ec"/>
<rect x="1720.5" y="485.1" width="37" height="24.2" fill="#ffffff"/>
<rect x="1720.5" y="508.7" width="37" height="24.6" fill="#990099"/>
<rect x="1720.5" y="532.7" width="37" height="24.6" fill="#b000b0"/>
<rect x="1720.5" y="556.7" width="37" height="25.0" fill="#cc00cc"/>
<rect x="1720.5" y="581.1" width="37" height="24.6" fill="#e600e6"/>
<rect x="1720.5" y="605.1" width="37" height="24.6" fill="#dc0096"/>
<rect x="1720.5" y="629.1" width="37" height="24.2" fill="#c80064"/>
<rect x="1720.5" y="652.7" width="37" height="24.6" fill="#990000"/>
<rect x="1720.5" y="676.7" width="37" height="25.0" fill="#b30000"/>
<rect x="1720.5" y="701.1" width="37" height="24.6" fill="#c4001a"/>
<rect x="1720.5" y="725.1" width="37" height="24.6" fill="#cc0022"/>
<rect x="1720.5" y="749.1" width="37" height="24.2" fill="#e61030"/>
<rect x="1720.5" y="772.7" width="37" height="25.4" fill="#de7a1a"/>
<rect x="1720.5" y="797.5" width="37" height="24.6" fill="#d6961c"/>
<rect x="1720.5" y="821.5" width="37" height="25.0" fill="#ccab24"/>
<rect x="1720.5" y="845.9" width="37" height="24.6" fill="#c2c232"/>
<rect x="1720.5" y="869.9" width="37" height="24.2" fill="#cfd232"/>
<rect x="1720.5" y="893.5" width="37" height="24.6" fill="#d6d835"/>
<rect x="1720.5" y="917.5" width="37" height="24.6" fill="#e0e035"/>
<rect x="1720.5" y="941.5" width="37" height="24.6" fill="#eded38"/>
<rect x="1720.5" y="965.5" width="37" height="24.1" fill="#1f6a1f"/>
<rect x="1720.5" y="989" width="37" height="26.2" fill="#227a22"/>
<rect x="1720.5" y="1014.6" width="37" height="24.3" fill="#2b8b2b"/>
<rect x="1720.5" y="1038.3" width="37" height="24.6" fill="#359c2e"/>
<rect x="1720.5" y="1062.3" width="37" height="25.1" fill="#3fb032"/>
<rect x="1720.5" y="1086.8" width="37" height="24.2" fill="#48c438"/>
<rect x="1720.5" y="1110.4" width="37" height="24.2" fill="#4dd63c"/>
<rect x="1720.5" y="1134" width="37" height="24.7" fill="#55ee3e"/>
<rect x="1720.5" y="1158.1" width="37" height="24.6" fill="#2eafd8"/>
<rect x="1720.5" y="1182.1" width="37" height="25.1" fill="#27a2d2"/>
<rect x="1720.5" y="1206.6" width="37" height="49.5" fill="#2a95c6"/>
<rect x="1720.5" y="1255.5" width="37" height="49.5" fill="#2d87bb"/>
<rect x="1720.5" y="1304.4" width="37" height="49.5" fill="#3179ab"/>
<rect x="1720.5" y="1353.3" width="37" height="57.3" fill="#376d9e"/>
<rect x="1720.5" y="1410" width="37" height="57.6" fill="#3c6394"/>
<rect x="1720.5" y="1467" width="37" height="57.6" fill="#3d5a88"/>
<rect x="1720.5" y="1524" width="37" height="57.6" fill="#3e517c"/>
<rect x="1720.5" y="1581" width="37" height="55.6" fill="#3e4a74"/>
<rect x="1720.5" y="1636" width="37" height="123.6" fill="#3d4270"/>
<g stroke="#000" stroke-width="2.2"><line x1="1758" y1="243.9" x2="1768" y2="243.9"/><line x1="1758" y1="324.1" x2="1768" y2="324.1"/><line x1="1758" y1="404.3" x2="1768" y2="404.3"/><line x1="1758" y1="484.5" x2="1768" y2="484.5"/><line x1="1758" y1="564.8" x2="1768" y2="564.8"/><line x1="1758" y1="645.0" x2="1768" y2="645.0"/><line x1="1758" y1="725.2" x2="1768" y2="725.2"/><line x1="1758" y1="805.4" x2="1768" y2="805.4"/><line x1="1758" y1="885.6" x2="1768" y2="885.6"/><line x1="1758" y1="965.8" x2="1768" y2="965.8"/><line x1="1758" y1="1046.0" x2="1768" y2="1046.0"/><line x1="1758" y1="1126.3" x2="1768" y2="1126.3"/><line x1="1758" y1="1206.5" x2="1768" y2="1206.5"/><line x1="1758" y1="1286.7" x2="1768" y2="1286.7"/><line x1="1758" y1="1366.9" x2="1768" y2="1366.9"/><line x1="1758" y1="1447.1" x2="1768" y2="1447.1"/><line x1="1758" y1="1527.3" x2="1768" y2="1527.3"/><line x1="1758" y1="1607.6" x2="1768" y2="1607.6"/><line x1="1758" y1="1687.8" x2="1768" y2="1687.8"/></g>
<g font-family="'Liberation Sans', sans-serif" font-size="30.6" fill="#000" transform="translate(1779 0) scale(0.946 1) translate(-1779 0)"><text x="1779" y="255.9">75</text><text x="1779" y="336.1">70</text><text x="1779" y="416.3">65</text><text x="1779" y="496.5">60</text><text x="1779" y="576.8">55</text><text x="1779" y="657.0">50</text><text x="1779" y="737.2">45</text><text x="1779" y="817.4">40</text><text x="1779" y="897.6">35</text><text x="1779" y="977.8">30</text><text x="1779" y="1058.0">25</text><text x="1779" y="1138.3">20</text><text x="1779" y="1218.5">15</text><text x="1779" y="1298.7">10</text><text x="1779" y="1378.9">5</text><text x="1779" y="1459.1">0</text><text x="1779" y="1539.3">−5</text><text x="1779" y="1619.6">−10</text><text x="1779" y="1699.8">−15</text></g>
<rect x="1720.5" y="220" width="37.3" height="1539" fill="none" stroke="#000" stroke-width="2.2"/>
<!-- logos -->
<defs><g id="coat"><path d="M10.6 -42.9L25.3 -39.8M10.8 -44.3L22.7 -43.4M10.8 -45.6L25.7 -46.6M10.6 -47.0L22.4 -49.4M10.2 -48.3L24.4 -53.3M9.7 -49.6L20.4 -55.1M9.0 -50.7L21.3 -59.4M8.1 -51.8L16.9 -60.0M7.1 -52.7L16.6 -64.4M6.0 -53.5L12.3 -63.8M4.8 -54.2L10.8 -67.9M3.5 -54.6L6.8 -66.2M2.2 -54.9L4.2 -69.8M0.8 -55.0L0.8 -67.0M-0.6 -54.9L-2.6 -69.8M-1.9 -54.6L-5.2 -66.2M-3.2 -54.2L-9.2 -67.9M-4.4 -53.5L-10.7 -63.8M-5.5 -52.7L-15.0 -64.4M-6.5 -51.8L-15.3 -60.0M-7.4 -50.7L-19.7 -59.4M-8.1 -49.6L-18.8 -55.1M-8.6 -48.3L-22.8 -53.3M-9.0 -47.0L-20.8 -49.4M-9.2 -45.6L-24.1 -46.6M-9.2 -44.3L-21.1 -43.4M-9.0 -42.9L-23.7 -39.8" stroke="#26345f" stroke-width="1.3" fill="none"/><ellipse cx="-3.0" cy="-46.8" rx="2.2" ry="1.2" fill="#26345f"/><ellipse cx="4.6" cy="-46.8" rx="2.2" ry="1.2" fill="#26345f"/><path d="M-0.19999999999999996 -43 L0.8 -41.5 L1.8 -43" stroke="#26345f" stroke-width="0.8" fill="none"/><g fill="#26345f" fill-opacity="0.62"><ellipse cx="-15.5" cy="-33.3" rx="3.4" ry="1.6" transform="rotate(112 -15.5 -33.3)"/><ellipse cx="-17.6" cy="-33.3" rx="3.4" ry="1.6" transform="rotate(185 -17.6 -33.3)"/><ellipse cx="-19.3" cy="-30.4" rx="3.4" ry="1.6" transform="rotate(104 -19.3 -30.4)"/><ellipse cx="-21.9" cy="-30.4" rx="3.4" ry="1.6" transform="rotate(177 -21.9 -30.4)"/><ellipse cx="-22.8" cy="-27.0" rx="3.4" ry="1.6" transform="rotate(96 -22.8 -27.0)"/><ellipse cx="-25.9" cy="-27.0" rx="3.4" ry="1.6" transform="rotate(170 -25.9 -27.0)"/><ellipse cx="-25.8" cy="-23.0" rx="3.4" ry="1.6" transform="rotate(88 -25.8 -23.0)"/><ellipse cx="-29.3" cy="-23.0" rx="3.4" ry="1.6" transform="rotate(162 -29.3 -23.0)"/><ellipse cx="-28.3" cy="-18.5" rx="3.4" ry="1.6" transform="rotate(81 -28.3 -18.5)"/><ellipse cx="-32.2" cy="-18.5" rx="3.4" ry="1.6" transform="rotate(154 -32.2 -18.5)"/><ellipse cx="-30.4" cy="-13.6" rx="3.4" ry="1.6" transform="rotate(74 -30.4 -13.6)"/><ellipse cx="-34.5" cy="-13.6" rx="3.4" ry="1.6" transform="rotate(147 -34.5 -13.6)"/><ellipse cx="-31.8" cy="-8.5" rx="3.4" ry="1.6" transform="rotate(68 -31.8 -8.5)"/><ellipse cx="-36.2" cy="-8.5" rx="3.4" ry="1.6" transform="rotate(139 -36.2 -8.5)"/><ellipse cx="-32.7" cy="-3.2" rx="3.4" ry="1.6" transform="rotate(61 -32.7 -3.2)"/><ellipse cx="-37.2" cy="-3.2" rx="3.4" ry="1.6" transform="rotate(132 -37.2 -3.2)"/><ellipse cx="-33.0" cy="2.3" rx="3.4" ry="1.6" transform="rotate(55 -33.0 2.3)"/><ellipse cx="-37.5" cy="2.3" rx="3.4" ry="1.6" transform="rotate(125 -37.5 2.3)"/><ellipse cx="-32.7" cy="7.7" rx="3.4" ry="1.6" transform="rotate(48 -32.7 7.7)"/><ellipse cx="-37.1" cy="7.7" rx="3.4" ry="1.6" transform="rotate(117 -37.1 7.7)"/><ellipse cx="-31.7" cy="13.0" rx="3.4" ry="1.6" transform="rotate(42 -31.7 13.0)"/><ellipse cx="-36.0" cy="13.0" rx="3.4" ry="1.6" transform="rotate(110 -36.0 13.0)"/><ellipse cx="-30.2" cy="18.1" rx="3.4" ry="1.6" transform="rotate(35 -30.2 18.1)"/><ellipse cx="-34.3" cy="18.1" rx="3.4" ry="1.6" transform="rotate(103 -34.3 18.1)"/><ellipse cx="-28.1" cy="23.0" rx="3.4" ry="1.6" transform="rotate(28 -28.1 23.0)"/><ellipse cx="-31.9" cy="23.0" rx="3.4" ry="1.6" transform="rotate(95 -31.9 23.0)"/><ellipse cx="-25.5" cy="27.4" rx="3.4" ry="1.6" transform="rotate(21 -25.5 27.4)"/><ellipse cx="-29.0" cy="27.4" rx="3.4" ry="1.6" transform="rotate(87 -29.0 27.4)"/><ellipse cx="-22.4" cy="31.3" rx="3.4" ry="1.6" transform="rotate(13 -22.4 31.3)"/><ellipse cx="-25.5" cy="31.3" rx="3.4" ry="1.6" transform="rotate(80 -25.5 31.3)"/><ellipse cx="-18.9" cy="34.8" rx="3.4" ry="1.6" transform="rotate(5 -18.9 34.8)"/><ellipse cx="-21.5" cy="34.8" rx="3.4" ry="1.6" transform="rotate(72 -21.5 34.8)"/><ellipse cx="-15.1" cy="37.6" rx="3.4" ry="1.6" transform="rotate(-3 -15.1 37.6)"/><ellipse cx="-17.1" cy="37.6" rx="3.4" ry="1.6" transform="rotate(64 -17.1 37.6)"/><ellipse cx="-11.0" cy="39.7" rx="3.4" ry="1.6" transform="rotate(-12 -11.0 39.7)"/><ellipse cx="-12.5" cy="39.7" rx="3.4" ry="1.6" transform="rotate(56 -12.5 39.7)"/><ellipse cx="-6.6" cy="41.2" rx="3.4" ry="1.6" transform="rotate(-21 -6.6 41.2)"/><ellipse cx="-7.5" cy="41.2" rx="3.4" ry="1.6" transform="rotate(47 -7.5 41.2)"/><ellipse cx="15.5" cy="-33.3" rx="3.4" ry="1.6" transform="rotate(68 15.5 -33.3)"/><ellipse cx="17.6" cy="-33.3" rx="3.4" ry="1.6" transform="rotate(-5 17.6 -33.3)"/><ellipse cx="19.3" cy="-30.4" rx="3.4" ry="1.6" transform="rotate(76 19.3 -30.4)"/><ellipse cx="21.9" cy="-30.4" rx="3.4" ry="1.6" transform="rotate(3 21.9 -30.4)"/><ellipse cx="22.8" cy="-27.0" rx="3.4" ry="1.6" transform="rotate(84 22.8 -27.0)"/><ellipse cx="25.9" cy="-27.0" rx="3.4" ry="1.6" transform="rotate(10 25.9 -27.0)"/><ellipse cx="25.8" cy="-23.0" rx="3.4" ry="1.6" transform="rotate(92 25.8 -23.0)"/><ellipse cx="29.3" cy="-23.0" rx="3.4" ry="1.6" transform="rotate(18 29.3 -23.0)"/><ellipse cx="28.3" cy="-18.5" rx="3.4" ry="1.6" transform="rotate(99 28.3 -18.5)"/><ellipse cx="32.2" cy="-18.5" rx="3.4" ry="1.6" transform="rotate(26 32.2 -18.5)"/><ellipse cx="30.4" cy="-13.6" rx="3.4" ry="1.6" transform="rotate(106 30.4 -13.6)"/><ellipse cx="34.5" cy="-13.6" rx="3.4" ry="1.6" transform="rotate(33 34.5 -13.6)"/><ellipse cx="31.8" cy="-8.5" rx="3.4" ry="1.6" transform="rotate(112 31.8 -8.5)"/><ellipse cx="36.2" cy="-8.5" rx="3.4" ry="1.6" transform="rotate(41 36.2 -8.5)"/><ellipse cx="32.7" cy="-3.2" rx="3.4" ry="1.6" transform="rotate(119 32.7 -3.2)"/><ellipse cx="37.2" cy="-3.2" rx="3.4" ry="1.6" transform="rotate(48 37.2 -3.2)"/><ellipse cx="33.0" cy="2.3" rx="3.4" ry="1.6" transform="rotate(125 33.0 2.3)"/><ellipse cx="37.5" cy="2.3" rx="3.4" ry="1.6" transform="rotate(55 37.5 2.3)"/><ellipse cx="32.7" cy="7.7" rx="3.4" ry="1.6" transform="rotate(132 32.7 7.7)"/><ellipse cx="37.1" cy="7.7" rx="3.4" ry="1.6" transform="rotate(63 37.1 7.7)"/><ellipse cx="31.7" cy="13.0" rx="3.4" ry="1.6" transform="rotate(138 31.7 13.0)"/><ellipse cx="36.0" cy="13.0" rx="3.4" ry="1.6" transform="rotate(70 36.0 13.0)"/><ellipse cx="30.2" cy="18.1" rx="3.4" ry="1.6" transform="rotate(145 30.2 18.1)"/><ellipse cx="34.3" cy="18.1" rx="3.4" ry="1.6" transform="rotate(77 34.3 18.1)"/><ellipse cx="28.1" cy="23.0" rx="3.4" ry="1.6" transform="rotate(152 28.1 23.0)"/><ellipse cx="31.9" cy="23.0" rx="3.4" ry="1.6" transform="rotate(85 31.9 23.0)"/><ellipse cx="25.5" cy="27.4" rx="3.4" ry="1.6" transform="rotate(159 25.5 27.4)"/><ellipse cx="29.0" cy="27.4" rx="3.4" ry="1.6" transform="rotate(93 29.0 27.4)"/><ellipse cx="22.4" cy="31.3" rx="3.4" ry="1.6" transform="rotate(167 22.4 31.3)"/><ellipse cx="25.5" cy="31.3" rx="3.4" ry="1.6" transform="rotate(100 25.5 31.3)"/><ellipse cx="18.9" cy="34.8" rx="3.4" ry="1.6" transform="rotate(175 18.9 34.8)"/><ellipse cx="21.5" cy="34.8" rx="3.4" ry="1.6" transform="rotate(108 21.5 34.8)"/><ellipse cx="15.1" cy="37.6" rx="3.4" ry="1.6" transform="rotate(183 15.1 37.6)"/><ellipse cx="17.1" cy="37.6" rx="3.4" ry="1.6" transform="rotate(116 17.1 37.6)"/><ellipse cx="11.0" cy="39.7" rx="3.4" ry="1.6" transform="rotate(192 11.0 39.7)"/><ellipse cx="12.5" cy="39.7" rx="3.4" ry="1.6" transform="rotate(124 12.5 39.7)"/><ellipse cx="6.6" cy="41.2" rx="3.4" ry="1.6" transform="rotate(201 6.6 41.2)"/><ellipse cx="7.5" cy="41.2" rx="3.4" ry="1.6" transform="rotate(133 7.5 41.2)"/></g><ellipse cx="0" cy="0" rx="27.8" ry="39.4" fill="#e5e5e5" stroke="#26345f" stroke-width="2.6"/><path d="M-10.5 -36.3H10.5M-17.2 -30.4H17.2M-21.1 -24.6H21.1M-23.8 -18.7H23.8M-25.5 -12.8H25.5M-26.6 -6.9H26.6M-27.0 -1.4H27.0" stroke="#26345f" stroke-width="1.1" fill="none" opacity="0.85"/><path d="M0.5 -13 V32" stroke="#26345f" stroke-width="2.2"/><path d="M-8.5 -21 C-9 -25 -4 -26 0 -25 C6 -24 9 -18 9.5 -12 C5 -11 -5 -11 -8 -12 C-7 -15 -8 -17 -6 -19 C-8 -19 -9 -20 -8.5 -21 Z" fill="#e5e5e5" stroke="#26345f" stroke-width="1.3"/><path d="M-25 10 C-15 8 -8 6 0.5 5 C10 6 18 8 26 10" stroke="#26345f" stroke-width="1.1" fill="none"/><path d="M-23 21 C-15 17 -10 14 -6 12 M7 12 C12 15 18 18 23 21" stroke="#26345f" stroke-width="1.1" fill="none"/><path d="M-9 11 C-6 15 -1 17 4 15 C8 13 10 11 9 9 C5 7 0 7 -4 8" stroke="#26345f" stroke-width="1.5" fill="none"/><path d="M-5 43 H5 V49 H-5 Z" fill="#26345f"/><path d="M-4 49 L-11 57 M4 49 L11 57 M-2 49 L-8 57 M2 49 L8 57" stroke="#26345f" stroke-width="1.5"/></g></defs><use href="#coat" x="531.8" y="1840.6"/><use href="#coat" x="893.4" y="1840.6"/><g fill="#26345f" font-family="Liberation Serif, serif"><text x="583.5" y="1828.1" font-size="28.5" font-weight="bold" textLength="132" lengthAdjust="spacingAndGlyphs">Ministerio</text><text x="583.5" y="1853.5" font-size="28.5" font-weight="bold" textLength="132.5" lengthAdjust="spacingAndGlyphs">de Defensa</text><text x="583.5" y="1873.8" font-size="16.5" textLength="151" lengthAdjust="spacingAndGlyphs">República Argentina</text><text x="946" y="1828.1" font-size="28.5" font-weight="bold" textLength="135" lengthAdjust="spacingAndGlyphs">Ministerio</text><text x="946" y="1853.7" font-size="28.5" font-weight="bold" textLength="163" lengthAdjust="spacingAndGlyphs">de Economía</text><text x="945.7" y="1873.8" font-size="16.5" textLength="154" lengthAdjust="spacingAndGlyphs">República Argentina</text></g><path d="M140.4 1817.6 A38.3 38.3 0 1 0 139.2 1852.4" fill="none" stroke="#fdb515" stroke-width="19.5"/><path d="M99.5 1819.0 C110 1813.0 128 1813.0 140 1818.0 C150 1822.0 158 1818.0 166.5 1814.0 V1827.5 C158 1831.0 150 1835.0 140 1831.0 C128 1826.0 110 1826.0 99.5 1832.0 Z" fill="#0a95d6"/><path d="M99.5 1839.5 C110 1833.5 128 1833.5 140 1838.5 C150 1842.5 158 1838.5 166.5 1834.5 V1848.0 C158 1851.5 150 1855.5 140 1851.5 C128 1846.5 110 1846.5 99.5 1852.5 Z" fill="#0a95d6"/><g fill="#1d1d1d" font-family="Liberation Sans, sans-serif"><text x="178.5" y="1807.6" font-size="27.5" textLength="112" lengthAdjust="spacingAndGlyphs">Servicio</text><text x="178.5" y="1834.8" font-size="27.5" textLength="201.5" lengthAdjust="spacingAndGlyphs">Meteorológico</text><text x="179" y="1860.7" font-size="27.5" textLength="119" lengthAdjust="spacingAndGlyphs">Nacional</text><text x="180" y="1880.8" font-size="17" stroke="#1d1d1d" stroke-width="0.45" textLength="93" lengthAdjust="spacingAndGlyphs">Argentina</text></g>
</svg>
</body></html>
